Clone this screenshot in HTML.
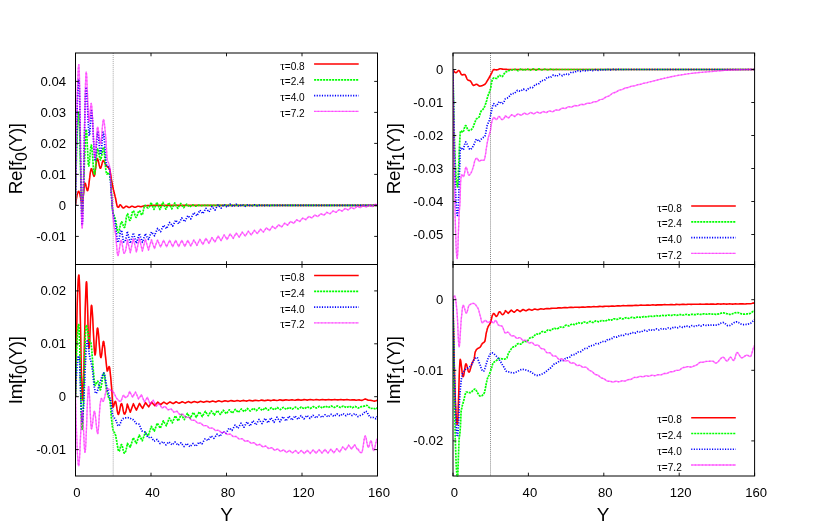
<!DOCTYPE html>
<html><head><meta charset="utf-8"><title>chart</title>
<style>html,body{margin:0;padding:0;background:#fff;}body{width:830px;height:529px;overflow:hidden;font-family:"Liberation Sans",sans-serif;}svg{display:block;will-change:transform;}</style></head>
<body>
<svg width="830" height="529" viewBox="0 0 830 529">
<rect width="830" height="529" fill="#ffffff"/>
<line x1="113.20" y1="53.0" x2="113.20" y2="264.5" stroke="#000" stroke-width="1" stroke-dasharray="1 1.03" stroke-opacity="0.36"/>
<clipPath id="cTL"><rect x="75.5" y="52.5" width="302.0" height="213.1"/></clipPath>
<g clip-path="url(#cTL)">
<path d="M75.5 205.4L75.8 203.4L76.0 201.6L76.2 199.9L76.5 198.3L76.8 196.9L77.0 195.6L77.2 194.4L77.5 193.5L77.8 192.7L78.0 192.1L78.2 191.6L78.5 191.4L78.8 191.3L79.0 191.5L79.2 192.1L79.5 192.9L79.8 193.8L80.0 194.9L80.2 196.2L80.5 197.4L80.8 198.6L81.0 199.8L81.2 200.9L81.5 201.8L81.8 202.5L82.0 202.9L82.2 203.0L82.5 202.4L82.8 201.0L83.0 199.1L83.2 196.7L83.5 194.1L83.8 191.5L84.0 188.9L84.2 186.6L84.5 184.8L84.8 183.5L85.0 183.1L85.2 183.3L85.5 183.9L85.8 184.7L86.0 185.8L86.2 186.9L86.5 188.0L86.8 189.1L87.0 189.9L87.2 190.5L87.5 190.7L87.8 190.4L88.0 189.7L88.2 188.6L88.5 187.1L88.8 185.4L89.0 183.4L89.2 181.4L89.5 179.3L89.8 177.2L90.0 175.2L90.2 173.3L90.5 171.7L90.8 170.3L91.0 169.3L91.2 168.8L91.5 168.7L91.8 169.1L92.0 169.7L92.2 170.5L92.5 171.5L92.8 172.5L93.0 173.5L93.2 174.5L93.5 175.3L93.8 175.9L94.0 176.3L94.2 176.2L94.5 175.5L94.8 174.4L95.0 172.9L95.2 171.1L95.5 169.1L95.8 167.0L96.0 165.0L96.2 163.1L96.5 161.4L96.8 160.0L97.0 159.0L97.2 158.6L97.5 158.7L97.8 159.2L98.0 159.9L98.2 160.8L98.5 161.8L98.8 163.0L99.0 164.2L99.2 165.3L99.5 166.3L99.8 167.2L100.0 167.9L100.2 168.2L100.5 168.3L100.8 168.0L101.0 167.4L101.2 166.7L101.5 165.8L101.8 164.8L102.0 163.8L102.2 162.8L102.5 162.0L102.8 161.2L103.0 160.7L103.2 160.5L103.5 160.6L103.8 160.8L104.0 161.1L104.2 161.6L104.5 162.1L104.8 162.7L105.0 163.3L105.2 163.9L105.5 164.5L105.8 165.0L106.0 165.4L106.2 165.7L106.5 166.0L106.8 166.3L107.0 166.5L107.2 166.7L107.5 166.9L107.8 167.1L108.0 167.3L108.2 167.5L108.5 167.8L108.8 168.1L109.0 168.4L109.2 168.8L109.5 169.2L109.8 169.8L110.0 170.7L110.2 171.9L110.5 173.4L110.8 175.0L111.0 176.7L111.2 178.4L111.5 180.0L111.8 181.4L112.0 182.7L112.2 184.0L112.5 185.2L112.8 186.5L113.0 187.7L113.2 188.8L113.5 190.0L113.8 191.0L114.0 192.1L114.2 193.1L114.5 194.0L114.8 195.0L115.0 196.0L115.2 197.0L115.5 198.0L115.8 199.3L116.0 200.6L116.2 202.0L116.5 203.3L116.8 204.6L117.0 205.6L117.2 206.4L117.5 206.8L117.8 207.0L118.0 207.2L118.2 207.3L118.5 207.3L118.8 207.1L119.0 206.7L119.2 206.2L119.5 205.6L119.8 205.1L120.0 204.8L120.2 204.8L120.5 204.9L120.8 205.1L121.0 205.4L121.2 205.7L121.5 206.1L121.8 206.5L122.0 206.8L122.2 207.2L122.5 207.5L122.8 207.7L123.0 207.9L123.2 208.0L123.5 208.0L123.8 207.9L124.0 207.7L124.2 207.5L124.5 207.3L124.8 207.1L125.0 206.9L125.2 206.7L125.5 206.5L125.8 206.3L126.0 206.2L126.2 206.2L126.5 206.2L126.8 206.3L127.0 206.4L127.2 206.6L127.5 206.7L127.8 206.9L128.0 207.1L128.2 207.2L128.5 207.4L128.8 207.4L129.0 207.5L129.2 207.5L129.5 207.4L129.8 207.3L130.0 207.2L130.2 207.0L130.5 206.9L130.8 206.7L131.0 206.6L131.2 206.4L131.5 206.3L131.8 206.2L132.0 206.2L132.2 206.2L132.5 206.3L132.8 206.4L133.0 206.5L133.2 206.6L133.5 206.8L133.8 206.9L134.0 207.0L134.2 207.1L134.5 207.2L134.8 207.3L135.0 207.3L135.2 207.3L135.5 207.2L135.8 207.1L136.0 207.0L136.2 206.9L136.5 206.8L136.8 206.6L137.0 206.5L137.2 206.4L137.5 206.3L137.8 206.2L138.0 206.2L138.2 206.2L138.5 206.2L138.8 206.3L139.0 206.3L139.2 206.4L139.5 206.4L139.8 206.5L140.0 206.6L140.2 206.6L140.5 206.7L140.8 206.7L141.0 206.7L141.2 206.7L141.5 206.6L141.8 206.6L142.0 206.5L142.2 206.4L142.5 206.3L142.8 206.2L143.0 206.2L143.2 206.1L143.5 206.0L143.8 205.9L144.0 205.9L144.2 205.9L144.5 205.8L144.8 205.8L145.0 205.8L145.2 205.8L145.5 205.7L145.8 205.7L146.0 205.7L146.2 205.7L146.5 205.7L146.8 205.6L147.0 205.6L147.2 205.6L147.5 205.6L147.8 205.6L148.0 205.6L148.2 205.6L148.5 205.5L148.8 205.5L149.0 205.5L149.2 205.5L149.5 205.5L149.8 205.5L150.0 205.5L150.2 205.5L150.5 205.5L150.8 205.5L151.0 205.5L151.2 205.5L151.5 205.5L151.8 205.5L152.0 205.5L152.2 205.5L152.5 205.5L152.8 205.5L153.0 205.5L153.2 205.4L153.5 205.4L153.8 205.4L154.0 205.4L154.2 205.4L154.5 205.4L154.8 205.4L155.0 205.4L155.2 205.4L155.5 205.4L155.8 205.4L156.0 205.4L156.2 205.4L156.5 205.4L156.8 205.4L157.0 205.4L157.2 205.4L157.5 205.4L157.8 205.4L158.0 205.4L158.2 205.4L158.5 205.4L158.8 205.4L159.0 205.4L159.2 205.4L159.5 205.4L159.8 205.4L160.0 205.4L160.2 205.4L160.5 205.4L160.8 205.4L161.0 205.4L161.2 205.4L161.5 205.4L161.8 205.4L162.0 205.4L162.2 205.4L162.5 205.4L162.8 205.4L163.0 205.4L163.2 205.4L163.5 205.4L163.8 205.4L164.0 205.4L164.2 205.4L164.5 205.4L164.8 205.4L165.0 205.4L165.2 205.4L165.5 205.4L165.8 205.4L166.0 205.4L166.2 205.4L166.5 205.4L166.8 205.4L167.0 205.4L167.2 205.4L167.5 205.4L167.8 205.4L168.0 205.4L168.2 205.4L168.5 205.4L168.8 205.4L169.0 205.4L169.2 205.4L169.5 205.4L169.8 205.4L170.0 205.4L170.2 205.4L170.5 205.4L170.8 205.4L171.0 205.4L171.2 205.4L171.5 205.4L171.8 205.4L172.0 205.4L172.2 205.4L172.5 205.4L172.8 205.4L173.0 205.4L173.2 205.4L173.5 205.4L173.8 205.4L174.0 205.4L174.2 205.4L174.5 205.4L174.8 205.4L175.0 205.4L175.2 205.4L175.5 205.4L175.8 205.4L176.0 205.4L176.2 205.4L176.5 205.4L176.8 205.4L177.0 205.4L177.2 205.4L177.5 205.4L177.8 205.4L178.0 205.4L178.2 205.4L178.5 205.4L178.8 205.4L179.0 205.4L179.2 205.4L179.5 205.4L179.8 205.4L180.0 205.4L180.2 205.4L180.5 205.4L180.8 205.4L181.0 205.4L181.2 205.4L181.5 205.4L181.8 205.4L182.0 205.4L182.2 205.4L182.5 205.4L182.8 205.4L183.0 205.4L183.2 205.4L183.5 205.4L183.8 205.4L184.0 205.4L184.2 205.4L184.5 205.4L184.8 205.4L185.0 205.4L185.2 205.4L185.5 205.4L185.8 205.4L186.0 205.4L186.2 205.4L186.5 205.4L186.8 205.4L187.0 205.4L187.2 205.4L187.5 205.4L187.8 205.4L188.0 205.4L188.2 205.4L188.5 205.4L188.8 205.4L189.0 205.4L189.2 205.4L189.5 205.4L189.8 205.4L190.0 205.4L190.2 205.4L190.5 205.4L190.8 205.4L191.0 205.4L191.2 205.4L191.5 205.4L191.8 205.4L192.0 205.4L192.2 205.4L192.5 205.4L192.8 205.4L193.0 205.4L193.2 205.4L193.5 205.4L193.8 205.4L194.0 205.4L194.2 205.4L194.5 205.4L194.8 205.4L195.0 205.4L195.2 205.4L195.5 205.4L195.8 205.4L196.0 205.4L196.2 205.4L196.5 205.4L196.8 205.4L197.0 205.4L197.2 205.4L197.5 205.4L197.8 205.4L198.0 205.4L198.2 205.4L198.5 205.4L198.8 205.4L199.0 205.4L199.2 205.4L199.5 205.4L199.8 205.4L200.0 205.4L200.2 205.4L200.5 205.4L200.8 205.4L201.0 205.4L201.2 205.4L201.5 205.4L201.8 205.4L202.0 205.4L202.2 205.4L202.5 205.4L202.8 205.4L203.0 205.4L203.2 205.4L203.5 205.4L203.8 205.4L204.0 205.4L204.2 205.4L204.5 205.4L204.8 205.4L205.0 205.4L205.2 205.4L205.5 205.4L205.8 205.4L206.0 205.4L206.2 205.4L206.5 205.4L206.8 205.4L207.0 205.4L207.2 205.4L207.5 205.4L207.8 205.4L208.0 205.4L208.2 205.4L208.5 205.4L208.8 205.4L209.0 205.4L209.2 205.4L209.5 205.4L209.8 205.4L210.0 205.4L210.2 205.4L210.5 205.4L210.8 205.4L211.0 205.4L211.2 205.4L211.5 205.4L211.8 205.4L212.0 205.4L212.2 205.4L212.5 205.4L212.8 205.4L213.0 205.4L213.2 205.4L213.5 205.4L213.8 205.4L214.0 205.4L214.2 205.4L214.5 205.4L214.8 205.4L215.0 205.4L215.2 205.4L215.5 205.4L215.8 205.4L216.0 205.4L216.2 205.4L216.5 205.4L216.8 205.4L217.0 205.4L217.2 205.4L217.5 205.4L217.8 205.4L218.0 205.4L218.2 205.4L218.5 205.4L218.8 205.4L219.0 205.4L219.2 205.4L219.5 205.4L219.8 205.4L220.0 205.4L220.2 205.4L220.5 205.4L220.8 205.4L221.0 205.4L221.2 205.4L221.5 205.4L221.8 205.4L222.0 205.4L222.2 205.4L222.5 205.4L222.8 205.4L223.0 205.4L223.2 205.4L223.5 205.4L223.8 205.4L224.0 205.4L224.2 205.4L224.5 205.4L224.8 205.4L225.0 205.4L225.2 205.4L225.5 205.4L225.8 205.4L226.0 205.4L226.2 205.4L226.5 205.4L226.8 205.4L227.0 205.4L227.2 205.4L227.5 205.4L227.8 205.4L228.0 205.4L228.2 205.4L228.5 205.4L228.8 205.4L229.0 205.4L229.2 205.4L229.5 205.4L229.8 205.4L230.0 205.4L230.2 205.4L230.5 205.4L230.8 205.4L231.0 205.4L231.2 205.4L231.5 205.4L231.8 205.4L232.0 205.4L232.2 205.4L232.5 205.4L232.8 205.4L233.0 205.4L233.2 205.4L233.5 205.4L233.8 205.4L234.0 205.4L234.2 205.4L234.5 205.4L234.8 205.4L235.0 205.4L235.2 205.4L235.5 205.4L235.8 205.4L236.0 205.4L236.2 205.4L236.5 205.4L236.8 205.4L237.0 205.4L237.2 205.4L237.5 205.4L237.8 205.4L238.0 205.4L238.2 205.4L238.5 205.4L238.8 205.4L239.0 205.4L239.2 205.4L239.5 205.4L239.8 205.4L240.0 205.4L240.2 205.4L240.5 205.4L240.8 205.4L241.0 205.4L241.2 205.4L241.5 205.4L241.8 205.4L242.0 205.4L242.2 205.4L242.5 205.4L242.8 205.4L243.0 205.4L243.2 205.4L243.5 205.4L243.8 205.4L244.0 205.4L244.2 205.4L244.5 205.4L244.8 205.4L245.0 205.4L245.2 205.4L245.5 205.4L245.8 205.4L246.0 205.4L246.2 205.4L246.5 205.4L246.8 205.4L247.0 205.4L247.2 205.4L247.5 205.4L247.8 205.4L248.0 205.4L248.2 205.4L248.5 205.4L248.8 205.4L249.0 205.4L249.2 205.4L249.5 205.4L249.8 205.4L250.0 205.4L250.2 205.4L250.5 205.4L250.8 205.4L251.0 205.4L251.2 205.4L251.5 205.4L251.8 205.4L252.0 205.4L252.2 205.4L252.5 205.4L252.8 205.4L253.0 205.4L253.2 205.4L253.5 205.4L253.8 205.4L254.0 205.4L254.2 205.4L254.5 205.4L254.8 205.4L255.0 205.4L255.2 205.4L255.5 205.4L255.8 205.4L256.0 205.4L256.2 205.4L256.5 205.4L256.8 205.4L257.0 205.4L257.2 205.4L257.5 205.4L257.8 205.4L258.0 205.4L258.2 205.4L258.5 205.4L258.8 205.4L259.0 205.4L259.2 205.4L259.5 205.4L259.8 205.4L260.0 205.4L260.2 205.4L260.5 205.4L260.8 205.4L261.0 205.4L261.2 205.4L261.5 205.4L261.8 205.4L262.0 205.4L262.2 205.4L262.5 205.4L262.8 205.4L263.0 205.4L263.2 205.4L263.5 205.4L263.8 205.4L264.0 205.4L264.2 205.4L264.5 205.4L264.8 205.4L265.0 205.4L265.2 205.4L265.5 205.4L265.8 205.4L266.0 205.4L266.2 205.4L266.5 205.4L266.8 205.4L267.0 205.4L267.2 205.4L267.5 205.4L267.8 205.4L268.0 205.4L268.2 205.4L268.5 205.4L268.8 205.4L269.0 205.4L269.2 205.4L269.5 205.4L269.8 205.4L270.0 205.4L270.2 205.4L270.5 205.4L270.8 205.4L271.0 205.4L271.2 205.4L271.5 205.4L271.8 205.4L272.0 205.4L272.2 205.4L272.5 205.4L272.8 205.4L273.0 205.4L273.2 205.4L273.5 205.4L273.8 205.4L274.0 205.4L274.2 205.4L274.5 205.4L274.8 205.4L275.0 205.4L275.2 205.4L275.5 205.4L275.8 205.4L276.0 205.4L276.2 205.4L276.5 205.4L276.8 205.4L277.0 205.4L277.2 205.4L277.5 205.4L277.8 205.4L278.0 205.4L278.2 205.4L278.5 205.4L278.8 205.4L279.0 205.4L279.2 205.4L279.5 205.4L279.8 205.4L280.0 205.4L280.2 205.4L280.5 205.4L280.8 205.4L281.0 205.4L281.2 205.4L281.5 205.4L281.8 205.4L282.0 205.4L282.2 205.4L282.5 205.4L282.8 205.4L283.0 205.4L283.2 205.4L283.5 205.4L283.8 205.4L284.0 205.4L284.2 205.4L284.5 205.4L284.8 205.4L285.0 205.4L285.2 205.4L285.5 205.4L285.8 205.4L286.0 205.4L286.2 205.4L286.5 205.4L286.8 205.4L287.0 205.4L287.2 205.4L287.5 205.4L287.8 205.4L288.0 205.4L288.2 205.4L288.5 205.4L288.8 205.4L289.0 205.4L289.2 205.4L289.5 205.4L289.8 205.4L290.0 205.4L290.2 205.4L290.5 205.4L290.8 205.4L291.0 205.4L291.2 205.4L291.5 205.4L291.8 205.4L292.0 205.4L292.2 205.4L292.5 205.4L292.8 205.4L293.0 205.4L293.2 205.4L293.5 205.4L293.8 205.4L294.0 205.4L294.2 205.4L294.5 205.4L294.8 205.4L295.0 205.4L295.2 205.4L295.5 205.4L295.8 205.4L296.0 205.4L296.2 205.4L296.5 205.4L296.8 205.4L297.0 205.4L297.2 205.4L297.5 205.4L297.8 205.4L298.0 205.4L298.2 205.4L298.5 205.4L298.8 205.4L299.0 205.4L299.2 205.4L299.5 205.4L299.8 205.4L300.0 205.4L300.2 205.4L300.5 205.4L300.8 205.4L301.0 205.4L301.2 205.4L301.5 205.4L301.8 205.4L302.0 205.4L302.2 205.4L302.5 205.4L302.8 205.4L303.0 205.4L303.2 205.4L303.5 205.4L303.8 205.4L304.0 205.4L304.2 205.4L304.5 205.4L304.8 205.4L305.0 205.4L305.2 205.4L305.5 205.4L305.8 205.4L306.0 205.4L306.2 205.4L306.5 205.4L306.8 205.4L307.0 205.4L307.2 205.4L307.5 205.4L307.8 205.4L308.0 205.4L308.2 205.4L308.5 205.4L308.8 205.4L309.0 205.4L309.2 205.4L309.5 205.4L309.8 205.4L310.0 205.4L310.2 205.4L310.5 205.4L310.8 205.4L311.0 205.4L311.2 205.4L311.5 205.4L311.8 205.4L312.0 205.4L312.2 205.4L312.5 205.4L312.8 205.4L313.0 205.4L313.2 205.4L313.5 205.4L313.8 205.4L314.0 205.4L314.2 205.4L314.5 205.4L314.8 205.4L315.0 205.4L315.2 205.4L315.5 205.4L315.8 205.4L316.0 205.4L316.2 205.4L316.5 205.4L316.8 205.4L317.0 205.4L317.2 205.4L317.5 205.4L317.8 205.4L318.0 205.4L318.2 205.4L318.5 205.4L318.8 205.4L319.0 205.4L319.2 205.4L319.5 205.4L319.8 205.4L320.0 205.4L320.2 205.4L320.5 205.4L320.8 205.4L321.0 205.4L321.2 205.4L321.5 205.4L321.8 205.4L322.0 205.4L322.2 205.4L322.5 205.4L322.8 205.4L323.0 205.4L323.2 205.4L323.5 205.4L323.8 205.4L324.0 205.4L324.2 205.4L324.5 205.4L324.8 205.4L325.0 205.4L325.2 205.4L325.5 205.4L325.8 205.4L326.0 205.4L326.2 205.4L326.5 205.4L326.8 205.4L327.0 205.4L327.2 205.4L327.5 205.4L327.8 205.4L328.0 205.4L328.2 205.4L328.5 205.4L328.8 205.4L329.0 205.4L329.2 205.4L329.5 205.4L329.8 205.4L330.0 205.4L330.2 205.4L330.5 205.4L330.8 205.4L331.0 205.4L331.2 205.4L331.5 205.4L331.8 205.4L332.0 205.4L332.2 205.4L332.5 205.4L332.8 205.4L333.0 205.4L333.2 205.4L333.5 205.4L333.8 205.4L334.0 205.4L334.2 205.4L334.5 205.4L334.8 205.4L335.0 205.4L335.2 205.4L335.5 205.4L335.8 205.4L336.0 205.4L336.2 205.4L336.5 205.4L336.8 205.4L337.0 205.4L337.2 205.4L337.5 205.4L337.8 205.4L338.0 205.4L338.2 205.4L338.5 205.4L338.8 205.4L339.0 205.4L339.2 205.4L339.5 205.4L339.8 205.4L340.0 205.4L340.2 205.4L340.5 205.4L340.8 205.4L341.0 205.4L341.2 205.4L341.5 205.4L341.8 205.4L342.0 205.4L342.2 205.4L342.5 205.4L342.8 205.4L343.0 205.4L343.2 205.4L343.5 205.4L343.8 205.4L344.0 205.4L344.2 205.4L344.5 205.4L344.8 205.4L345.0 205.4L345.2 205.4L345.5 205.4L345.8 205.4L346.0 205.4L346.2 205.4L346.5 205.4L346.8 205.4L347.0 205.4L347.2 205.4L347.5 205.4L347.8 205.4L348.0 205.4L348.2 205.4L348.5 205.4L348.8 205.4L349.0 205.4L349.2 205.4L349.5 205.4L349.8 205.4L350.0 205.4L350.2 205.4L350.5 205.4L350.8 205.4L351.0 205.4L351.2 205.4L351.5 205.4L351.8 205.4L352.0 205.4L352.2 205.4L352.5 205.4L352.8 205.4L353.0 205.4L353.2 205.4L353.5 205.4L353.8 205.4L354.0 205.4L354.2 205.4L354.5 205.4L354.8 205.4L355.0 205.4L355.2 205.4L355.5 205.4L355.8 205.4L356.0 205.4L356.2 205.4L356.5 205.4L356.8 205.4L357.0 205.4L357.2 205.4L357.5 205.4L357.8 205.4L358.0 205.4L358.2 205.4L358.5 205.4L358.8 205.4L359.0 205.4L359.2 205.4L359.5 205.4L359.8 205.4L360.0 205.4L360.2 205.4L360.5 205.4L360.8 205.4L361.0 205.4L361.2 205.4L361.5 205.4L361.8 205.4L362.0 205.4L362.2 205.4L362.5 205.4L362.8 205.4L363.0 205.4L363.2 205.4L363.5 205.4L363.8 205.4L364.0 205.4L364.2 205.4L364.5 205.4L364.8 205.4L365.0 205.4L365.2 205.4L365.5 205.4L365.8 205.4L366.0 205.4L366.2 205.4L366.5 205.4L366.8 205.4L367.0 205.4L367.2 205.4L367.5 205.4L367.8 205.4L368.0 205.4L368.2 205.4L368.5 205.4L368.8 205.4L369.0 205.4L369.2 205.4L369.5 205.4L369.8 205.4L370.0 205.4L370.2 205.4L370.5 205.4L370.8 205.4L371.0 205.4L371.2 205.4L371.5 205.4L371.8 205.4L372.0 205.4L372.2 205.4L372.5 205.4L372.8 205.4L373.0 205.4L373.2 205.4L373.5 205.4L373.8 205.4L374.0 205.4L374.2 205.4L374.5 205.4L374.8 205.4L375.0 205.4L375.2 205.4L375.5 205.4L375.8 205.4L376.0 205.4L376.2 205.4L376.5 205.4L376.8 205.4L377.0 205.4L377.2 205.4L377.5 205.4" fill="none" stroke="#ff0000" stroke-width="1.6" stroke-linejoin="round"/>
<path d="M75.5 205.4L75.8 191.5L76.0 178.8L76.2 167.1L76.5 156.5L76.8 147.0L77.0 138.7L77.2 131.5L77.5 125.4L77.8 120.4L78.0 116.6L78.2 113.9L78.5 112.4L78.8 112.1L79.0 114.2L79.2 119.0L79.5 126.0L79.8 134.7L80.0 144.7L80.2 155.4L80.5 166.4L80.8 177.2L81.0 187.4L81.2 196.4L81.5 203.8L81.8 209.0L82.0 211.7L82.2 211.7L82.5 209.8L82.8 206.4L83.0 201.8L83.2 196.2L83.5 189.7L83.8 182.7L84.0 175.3L84.2 167.7L84.5 160.3L84.8 153.2L85.0 146.6L85.2 140.7L85.5 135.9L85.8 132.3L86.0 130.1L86.2 129.5L86.5 131.0L86.8 134.0L87.0 138.3L87.2 143.4L87.5 148.8L87.8 154.2L88.0 159.0L88.2 162.9L88.5 165.3L88.8 166.0L89.0 165.2L89.2 163.6L89.5 161.3L89.8 158.5L90.0 155.5L90.2 152.5L90.5 149.7L90.8 147.4L91.0 145.8L91.2 145.0L91.5 145.4L91.8 146.7L92.0 148.8L92.2 151.6L92.5 154.8L92.8 158.3L93.0 161.8L93.2 165.3L93.5 168.4L93.8 171.1L94.0 173.1L94.2 174.2L94.5 174.3L94.8 173.6L95.0 172.2L95.2 170.2L95.5 167.8L95.8 165.1L96.0 162.2L96.2 159.3L96.5 156.6L96.8 154.0L97.0 151.9L97.2 150.2L97.5 149.2L97.8 148.9L98.0 149.3L98.2 150.0L98.5 151.1L98.8 152.4L99.0 153.9L99.2 155.3L99.5 156.8L99.8 158.0L100.0 159.1L100.2 159.8L100.5 160.0L100.8 159.7L101.0 159.1L101.2 158.0L101.5 156.7L101.8 155.2L102.0 153.6L102.2 152.0L102.5 150.5L102.8 149.2L103.0 148.1L103.2 147.5L103.5 147.2L103.8 147.8L104.0 149.3L104.2 151.6L104.5 154.5L104.8 157.7L105.0 161.0L105.2 164.1L105.5 167.0L105.8 169.3L106.0 170.8L106.2 171.9L106.5 172.9L106.8 173.6L107.0 174.1L107.2 174.0L107.5 173.8L107.8 173.4L108.0 173.0L108.2 172.6L108.5 172.5L108.8 172.7L109.0 173.1L109.2 173.8L109.5 174.8L109.8 175.9L110.0 177.1L110.2 178.5L110.5 180.0L110.8 182.3L111.0 185.7L111.2 190.1L111.5 194.8L111.8 199.5L112.0 203.8L112.2 207.3L112.5 209.5L112.8 210.9L113.0 212.0L113.2 213.0L113.5 213.9L113.8 214.7L114.0 215.4L114.2 216.1L114.5 216.7L114.8 217.4L115.0 218.2L115.2 219.0L115.5 220.0L115.8 221.2L116.0 222.5L116.2 223.9L116.5 225.4L116.8 226.9L117.0 228.3L117.2 229.6L117.5 230.7L117.8 231.6L118.0 232.2L118.2 232.5L118.5 232.4L118.8 231.9L119.0 231.2L119.2 230.2L119.5 229.1L119.8 227.9L120.0 226.6L120.2 225.4L120.5 224.3L120.8 223.3L121.0 222.5L121.2 222.0L121.5 221.8L121.8 221.9L122.0 222.2L122.2 222.7L122.5 223.4L122.8 224.1L123.0 224.8L123.2 225.5L123.5 226.2L123.8 226.8L124.0 227.2L124.2 227.5L124.5 227.5L124.8 227.0L125.0 226.1L125.2 224.8L125.5 223.3L125.8 221.6L126.0 219.9L126.2 218.2L126.5 216.7L126.8 215.4L127.0 214.4L127.2 213.8L127.5 213.7L127.8 214.1L128.0 214.7L128.2 215.6L128.5 216.6L128.8 217.7L129.0 218.7L129.2 219.5L129.5 220.1L129.8 220.4L130.0 220.3L130.2 219.9L130.5 219.3L130.8 218.6L131.0 217.6L131.2 216.6L131.5 215.6L131.8 214.5L132.0 213.5L132.2 212.5L132.5 211.8L132.8 211.2L133.0 210.8L133.2 210.7L133.5 210.9L133.8 211.3L134.0 211.9L134.2 212.7L134.5 213.5L134.8 214.4L135.0 215.2L135.2 216.0L135.5 216.7L135.8 217.1L136.0 217.4L136.2 217.4L136.5 217.1L136.8 216.7L137.0 216.1L137.2 215.4L137.5 214.7L137.8 213.9L138.0 213.1L138.2 212.4L138.5 211.7L138.8 211.2L139.0 210.9L139.2 210.7L139.5 210.8L139.8 211.0L140.0 211.5L140.2 212.0L140.5 212.6L140.8 213.2L141.0 213.8L141.2 214.3L141.5 214.7L141.8 215.0L142.0 215.0L142.2 214.7L142.5 214.1L142.8 213.2L143.0 212.2L143.2 211.1L143.5 209.9L143.8 208.8L144.0 207.7L144.2 206.7L144.5 206.0L144.8 205.5L145.0 205.3L145.2 205.4L145.5 205.5L145.8 205.7L146.0 206.0L146.2 206.3L146.5 206.7L146.8 207.0L147.0 207.3L147.2 207.6L147.5 207.8L147.8 207.9L148.0 208.0L148.2 208.0L148.5 207.8L148.8 207.6L149.0 207.3L149.2 206.9L149.5 206.5L149.8 206.0L150.0 205.4L150.2 204.8L150.5 204.1L150.8 203.4L151.0 202.6L151.0 202.4L152.5 205.9L154.0 209.4L155.5 205.9L156.9 202.3L158.4 205.9L159.9 209.5L161.4 205.9L162.9 202.4L164.4 205.9L165.9 209.2L167.4 205.9L168.8 202.6L170.3 205.8L171.8 208.9L173.3 205.8L174.8 203.0L176.3 205.8L177.8 208.4L179.3 205.8L180.8 203.5L182.2 205.8L183.7 207.6L185.2 205.7L186.7 204.2L188.2 205.7L189.7 206.8L191.2 205.7L192.7 204.8L194.1 205.6L195.6 206.2L197.1 205.5L198.6 205.1L200.1 205.5L201.6 205.6L203.1 205.4L204.6 205.4L206.0 205.4L207.5 205.4L209.0 205.4L210.5 205.4L212.0 205.4L213.5 205.4L215.0 205.4L216.4 205.4L217.9 205.4L219.4 205.4L220.9 205.4L222.4 205.4L223.9 205.4L225.4 205.4L226.9 205.4L228.4 205.4L229.8 205.4L231.3 205.4L232.8 205.4L234.3 205.4L235.8 205.4L237.3 205.4L238.8 205.4L240.2 205.4L241.7 205.4L243.2 205.4L244.7 205.4L246.2 205.4L247.7 205.4L249.2 205.4L250.7 205.4L252.2 205.4L253.6 205.4L255.1 205.4L256.6 205.4L258.1 205.4L259.6 205.4L261.1 205.4L262.6 205.4L264.1 205.4L265.5 205.4L267.0 205.4L268.5 205.4L270.0 205.4L271.5 205.4L273.0 205.4L274.5 205.4L275.9 205.4L277.4 205.4L278.9 205.4L280.4 205.4L281.9 205.4L283.4 205.4L284.9 205.4L286.4 205.4L287.9 205.4L289.3 205.4L290.8 205.4L292.3 205.4L293.8 205.4L295.3 205.4L296.8 205.4L298.3 205.4L299.8 205.4L301.2 205.4L302.7 205.4L304.2 205.4L305.7 205.4L307.2 205.4L308.7 205.4L310.2 205.4L311.6 205.4L313.1 205.4L314.6 205.4L316.1 205.4L317.6 205.4L319.1 205.4L320.6 205.4L322.1 205.4L323.6 205.4L325.0 205.4L326.5 205.4L328.0 205.4L329.5 205.4L331.0 205.4L332.5 205.4L334.0 205.4L335.5 205.4L336.9 205.4L338.4 205.4L339.9 205.4L341.4 205.4L342.9 205.4L344.4 205.4L345.9 205.4L347.4 205.4L348.8 205.4L350.3 205.4L351.8 205.4L353.3 205.4L354.8 205.4L356.3 205.4L357.8 205.4L359.2 205.4L360.7 205.4L362.2 205.4L363.7 205.4L365.2 205.4L366.7 205.4L368.2 205.4L369.7 205.4L371.1 205.4L372.6 205.4L374.1 205.4L375.6 205.4L377.1 205.4L377.5 205.4" fill="none" stroke="#00ff00" stroke-width="1.7" stroke-linejoin="round" stroke-dasharray="2.1 0.9"/>
<path d="M75.5 205.4L75.8 186.3L76.0 168.9L76.2 153.3L76.5 139.2L76.8 126.8L77.0 115.9L77.2 106.5L77.5 98.6L77.8 92.0L78.0 86.9L78.2 83.1L78.5 80.5L78.8 79.2L79.0 79.4L79.2 83.9L79.5 92.5L79.8 104.5L80.0 119.0L80.2 135.2L80.5 152.2L80.8 169.2L81.0 185.4L81.2 199.9L81.5 211.9L81.8 220.5L82.0 225.0L82.2 224.8L82.5 221.3L82.8 215.2L83.0 206.7L83.2 196.4L83.5 184.8L83.8 172.1L84.0 159.0L84.2 145.7L84.5 132.8L84.8 120.7L85.0 109.8L85.2 100.6L85.5 93.4L85.8 88.8L86.0 87.2L86.2 87.9L86.5 90.0L86.8 93.3L87.0 97.3L87.2 102.1L87.5 107.2L87.8 112.6L88.0 117.9L88.2 122.9L88.5 127.4L88.8 131.2L89.0 133.9L89.2 135.5L89.5 135.6L89.8 133.9L90.0 130.8L90.2 126.7L90.5 122.2L90.8 117.9L91.0 114.1L91.2 111.5L91.5 110.5L91.8 111.2L92.0 113.1L92.2 116.1L92.5 119.8L92.8 124.3L93.0 129.1L93.2 134.2L93.5 139.4L93.8 144.3L94.0 149.0L94.2 153.0L94.5 156.3L94.8 158.7L95.0 159.9L95.2 159.7L95.5 158.2L95.8 155.7L96.0 152.3L96.2 148.5L96.5 144.5L96.8 140.6L97.0 137.2L97.2 134.4L97.5 132.7L97.8 132.2L98.0 132.9L98.2 134.3L98.5 136.4L98.8 138.9L99.0 141.7L99.2 144.6L99.5 147.4L99.8 150.0L100.0 152.1L100.2 153.7L100.5 154.5L100.8 154.4L101.0 153.2L101.2 151.1L101.5 148.4L101.8 145.3L102.0 142.1L102.2 139.0L102.5 136.2L102.8 134.0L103.0 132.6L103.2 132.2L103.5 132.8L103.8 134.3L104.0 136.4L104.2 139.0L104.5 142.0L104.8 145.3L105.0 148.7L105.2 152.1L105.5 155.4L105.8 158.5L106.0 161.1L106.2 163.3L106.5 164.8L106.8 165.5L107.0 165.9L107.2 166.1L107.5 166.4L107.8 166.5L108.0 166.7L108.2 166.8L108.5 167.0L108.8 167.3L109.0 167.6L109.2 168.1L109.5 169.4L109.8 171.5L110.0 174.4L110.2 177.8L110.5 181.6L110.8 185.5L111.0 189.3L111.2 193.0L111.5 196.3L111.8 200.0L112.0 203.7L112.2 207.0L112.5 209.5L112.8 211.3L113.0 212.9L113.2 214.2L113.5 215.4L113.8 216.5L114.0 217.5L114.2 218.5L114.5 219.5L114.8 220.6L115.0 221.7L115.2 223.0L115.5 224.5L115.8 226.4L116.0 228.7L116.2 231.1L116.5 233.6L116.8 236.0L117.0 238.2L117.2 240.1L117.5 241.5L117.8 242.4L118.0 242.5L118.2 242.1L118.5 241.4L118.8 240.5L119.0 239.3L119.2 238.0L119.5 236.6L119.8 235.2L120.0 233.9L120.2 232.7L120.5 231.6L120.8 230.8L121.0 230.3L121.2 230.2L121.5 230.6L121.8 231.5L122.0 232.7L122.2 234.2L122.5 235.8L122.8 237.5L123.0 239.0L123.2 240.4L123.5 241.4L123.8 242.0L124.0 242.1L124.2 242.0L124.5 241.9L124.8 241.6L125.0 241.2L125.2 240.7L125.5 240.1L125.8 239.4L126.0 238.5L126.2 237.5L126.5 236.3L126.8 234.9L127.0 233.4L127.2 231.7L127.3 231.3L127.3 231.3L128.8 237.5L130.3 243.3L131.8 238.0L133.3 232.9L134.9 238.2L136.4 243.3L137.9 238.3L139.4 233.6L140.9 238.2L142.4 242.3L143.9 237.9L145.4 233.7L147.0 236.9L148.5 239.4L150.0 235.6L151.5 232.0L153.0 234.0L154.5 235.8L156.0 232.1L157.6 228.5L159.1 230.1L160.6 231.7L162.1 228.4L163.6 225.2L165.1 226.9L166.6 228.7L168.1 225.6L169.7 222.5L171.2 224.3L172.7 226.1L174.2 223.1L175.7 220.1L177.2 222.0L178.7 223.9L180.2 220.9L181.8 218.0L183.3 219.9L184.8 221.7L186.3 218.7L187.8 215.6L189.3 217.2L190.8 218.8L192.3 215.7L193.8 212.6L195.4 214.2L196.9 215.8L198.4 213.0L199.9 210.2L201.4 211.9L202.9 213.7L204.4 211.0L205.9 208.3L207.5 210.1L209.0 211.9L210.5 209.2L212.0 206.5L213.5 208.3L215.0 210.0L216.5 207.3L218.1 204.9L219.6 206.6L221.1 208.1L222.6 206.1L224.1 204.4L225.6 205.8L227.1 207.1L228.6 205.5L230.1 204.1L231.7 205.4L233.2 206.6L234.7 205.4L236.2 204.3L237.7 205.4L239.2 206.4L240.7 205.4L242.2 204.5L243.8 205.4L245.3 206.3L246.8 205.4L248.3 204.6L249.8 205.4L251.3 206.1L252.8 205.4L254.3 204.8L255.9 205.4L257.4 205.9L258.9 205.4L260.4 205.0L261.9 205.4L263.4 205.8L264.9 205.4L266.4 205.1L268.0 205.4L269.5 205.6L271.0 205.4L272.5 205.3L274.0 205.4L275.5 205.4L277.0 205.4L278.6 205.4L280.1 205.4L281.6 205.4L283.1 205.4L284.6 205.4L286.1 205.4L287.6 205.4L289.1 205.4L290.6 205.4L292.2 205.4L293.7 205.4L295.2 205.4L296.7 205.4L298.2 205.4L299.7 205.4L301.2 205.4L302.8 205.4L304.3 205.4L305.8 205.4L307.3 205.4L308.8 205.4L310.3 205.4L311.8 205.4L313.3 205.4L314.8 205.4L316.4 205.4L317.9 205.4L319.4 205.4L320.9 205.4L322.4 205.4L323.9 205.4L325.4 205.4L326.9 205.4L328.5 205.4L330.0 205.4L331.5 205.4L333.0 205.4L334.5 205.4L336.0 205.4L337.5 205.4L339.1 205.4L340.6 205.4L342.1 205.4L343.6 205.4L345.1 205.4L346.6 205.4L348.1 205.4L349.6 205.4L351.1 205.4L352.7 205.4L354.2 205.4L355.7 205.4L357.2 205.4L358.7 205.4L360.2 205.4L361.7 205.4L363.2 205.4L364.8 205.4L366.3 205.4L367.8 205.4L369.3 205.4L370.8 205.4L372.3 205.4L373.8 205.4L375.3 205.4L376.9 205.4L377.5 205.4" fill="none" stroke="#0000ff" stroke-width="1.7" stroke-linejoin="round" stroke-dasharray="1.15 1.45"/>
<path d="M75.5 205.4L75.8 184.1L76.0 164.7L76.2 147.2L76.5 131.5L76.8 117.6L77.0 105.5L77.2 95.0L77.5 86.2L77.8 78.9L78.0 73.2L78.2 68.9L78.5 66.1L78.8 64.6L79.0 64.9L79.2 69.9L79.5 79.6L79.8 93.0L80.0 109.3L80.2 127.4L80.5 146.5L80.8 165.6L81.0 183.7L81.2 200.0L81.5 213.4L81.8 223.1L82.0 228.1L82.2 228.0L82.5 224.4L82.8 218.0L83.0 209.3L83.2 198.6L83.5 186.3L83.8 172.9L84.0 158.9L84.2 144.6L84.5 130.4L84.8 116.9L85.0 104.4L85.2 93.3L85.5 84.1L85.8 77.2L86.0 73.1L86.2 72.0L86.5 73.6L86.8 77.0L87.0 81.9L87.2 87.8L87.5 94.2L87.8 100.9L88.0 107.3L88.2 113.0L88.5 117.6L88.8 120.7L89.0 121.8L89.2 121.1L89.5 119.4L89.8 116.8L90.0 113.9L90.2 110.7L90.5 107.8L90.8 105.4L91.0 103.8L91.2 103.4L91.5 104.4L91.8 106.5L92.0 109.6L92.2 113.6L92.5 118.2L92.8 123.2L93.0 128.5L93.2 133.9L93.5 139.2L93.8 144.2L94.0 148.6L94.2 152.5L94.5 155.4L94.8 157.3L95.0 158.0L95.2 157.2L95.5 155.0L95.8 151.7L96.0 147.8L96.2 143.4L96.5 139.0L96.8 134.8L97.0 131.2L97.2 128.5L97.5 127.1L97.8 127.1L98.0 127.9L98.2 129.2L98.5 130.9L98.8 132.9L99.0 135.1L99.2 137.2L99.5 139.3L99.8 141.2L100.0 142.7L100.2 143.6L100.5 144.0L100.8 143.5L101.0 142.2L101.2 140.2L101.5 137.6L101.8 134.8L102.0 131.8L102.2 128.7L102.5 125.9L102.8 123.3L103.0 121.3L103.2 120.0L103.5 119.5L103.8 119.9L104.0 120.9L104.2 122.5L104.5 124.6L104.8 127.0L105.0 129.5L105.2 132.2L105.5 134.8L105.8 137.5L106.0 141.0L106.2 145.0L106.5 149.2L106.8 153.2L107.0 156.6L107.2 159.1L107.5 160.4L107.8 161.2L108.0 161.8L108.2 162.3L108.5 163.0L108.8 163.7L109.0 164.4L109.2 165.2L109.5 166.1L109.8 167.2L110.0 168.7L110.2 172.1L110.5 177.8L110.8 184.0L111.0 188.9L111.2 192.1L111.5 194.7L111.8 197.4L112.0 200.5L112.2 204.0L112.5 207.7L112.8 211.5L113.0 215.2L113.2 218.6L113.5 221.7L113.8 224.2L114.0 226.1L114.2 227.5L114.5 228.7L114.8 229.8L115.0 230.9L115.2 232.1L115.5 233.7L115.8 235.8L116.0 238.5L116.2 241.4L116.5 244.4L116.8 247.4L117.0 250.2L117.2 252.5L117.5 254.3L117.8 255.3L118.0 255.5L118.2 255.0L118.5 254.2L118.8 253.0L119.0 251.6L119.2 249.9L119.5 248.2L119.8 246.5L120.0 244.9L120.2 243.4L120.5 242.1L120.8 241.1L121.0 240.5L121.2 240.3L121.5 240.7L121.8 241.5L122.0 242.7L122.2 244.2L122.5 245.8L122.8 247.5L123.0 249.1L123.2 250.6L123.5 251.9L123.8 252.8L124.0 253.3L124.2 253.3L124.5 253.1L124.8 252.8L125.0 252.3L125.2 251.6L125.5 250.8L125.8 249.8L126.0 248.6L126.2 247.3L126.5 245.7L126.8 244.0L127.0 242.1L127.2 240.0L127.3 239.6L127.3 239.5L128.8 246.1L130.3 252.7L131.8 245.5L133.3 238.4L134.9 245.1L136.4 252.0L137.9 245.0L139.4 238.3L140.9 244.9L142.4 251.1L143.9 244.9L145.4 239.1L147.0 244.8L148.5 250.1L150.0 244.8L151.5 239.8L153.0 244.5L154.5 248.6L156.0 244.0L157.6 240.0L159.1 243.7L160.6 247.0L162.1 243.6L163.6 240.3L165.1 243.5L166.6 246.8L168.1 243.5L169.7 240.3L171.2 243.5L172.7 246.7L174.2 243.5L175.7 240.4L177.2 243.5L178.7 246.6L180.2 243.5L181.8 240.4L183.3 243.4L184.8 246.4L186.3 243.4L187.8 240.4L189.3 243.3L190.8 246.1L192.3 243.0L193.8 240.0L195.4 242.7L196.9 245.4L198.4 242.3L199.9 239.3L201.4 241.9L202.9 244.5L204.4 241.4L205.9 238.4L207.5 240.9L209.0 243.4L210.5 240.4L212.0 237.5L213.5 239.8L215.0 242.0L216.5 239.0L218.1 236.0L219.6 238.3L221.1 240.6L222.6 237.7L224.1 234.9L225.6 237.2L227.1 239.5L228.6 236.7L230.1 233.9L231.7 236.2L233.2 238.4L234.7 235.6L236.2 233.0L237.7 235.1L239.2 237.2L240.7 234.7L242.2 232.1L243.8 234.2L245.3 236.1L246.8 233.7L248.3 231.2L249.8 233.1L251.3 235.0L252.8 232.6L254.3 230.3L255.9 232.0L257.4 233.6L258.9 231.3L260.4 229.1L261.9 230.7L263.4 232.1L264.9 229.9L266.4 227.8L268.0 229.2L269.5 230.5L271.0 228.4L272.5 226.3L274.0 227.6L275.5 228.7L277.0 226.7L278.6 224.8L280.1 225.9L281.6 227.0L283.1 225.1L284.6 223.2L286.1 224.2L287.6 225.2L289.1 223.3L290.6 221.5L292.2 222.4L293.7 223.3L295.2 221.5L296.7 219.8L298.2 220.6L299.7 221.5L301.2 219.8L302.8 218.1L304.3 218.9L305.8 219.7L307.3 218.1L308.8 216.5L310.3 217.2L311.8 218.0L313.3 216.5L314.8 215.0L316.4 215.8L317.9 216.6L319.4 215.1L320.9 213.7L322.4 214.5L323.9 215.2L325.4 213.8L326.9 212.3L328.5 213.1L330.0 213.8L331.5 212.4L333.0 211.0L334.5 211.7L336.0 212.4L337.5 211.0L339.1 209.7L340.6 210.4L342.1 211.1L343.6 209.8L345.1 208.5L346.6 209.2L348.1 210.0L349.6 208.7L351.1 207.4L352.7 208.1L354.2 208.8L355.7 207.5L357.2 206.2L358.7 206.9L360.2 207.7L361.7 206.6L363.2 205.4L364.8 206.3L366.3 207.2L367.8 206.0L369.3 204.9L370.8 205.8L372.3 206.6L373.8 205.4L375.3 204.2L376.9 205.0L377.5 205.5" fill="none" stroke="#ff00ff" stroke-width="1.4" stroke-linejoin="round" stroke-opacity="0.52"/><path d="M75.5 205.4L75.8 184.1L76.0 164.7L76.2 147.2L76.5 131.5L76.8 117.6L77.0 105.5L77.2 95.0L77.5 86.2L77.8 78.9L78.0 73.2L78.2 68.9L78.5 66.1L78.8 64.6L79.0 64.9L79.2 69.9L79.5 79.6L79.8 93.0L80.0 109.3L80.2 127.4L80.5 146.5L80.8 165.6L81.0 183.7L81.2 200.0L81.5 213.4L81.8 223.1L82.0 228.1L82.2 228.0L82.5 224.4L82.8 218.0L83.0 209.3L83.2 198.6L83.5 186.3L83.8 172.9L84.0 158.9L84.2 144.6L84.5 130.4L84.8 116.9L85.0 104.4L85.2 93.3L85.5 84.1L85.8 77.2L86.0 73.1L86.2 72.0L86.5 73.6L86.8 77.0L87.0 81.9L87.2 87.8L87.5 94.2L87.8 100.9L88.0 107.3L88.2 113.0L88.5 117.6L88.8 120.7L89.0 121.8L89.2 121.1L89.5 119.4L89.8 116.8L90.0 113.9L90.2 110.7L90.5 107.8L90.8 105.4L91.0 103.8L91.2 103.4L91.5 104.4L91.8 106.5L92.0 109.6L92.2 113.6L92.5 118.2L92.8 123.2L93.0 128.5L93.2 133.9L93.5 139.2L93.8 144.2L94.0 148.6L94.2 152.5L94.5 155.4L94.8 157.3L95.0 158.0L95.2 157.2L95.5 155.0L95.8 151.7L96.0 147.8L96.2 143.4L96.5 139.0L96.8 134.8L97.0 131.2L97.2 128.5L97.5 127.1L97.8 127.1L98.0 127.9L98.2 129.2L98.5 130.9L98.8 132.9L99.0 135.1L99.2 137.2L99.5 139.3L99.8 141.2L100.0 142.7L100.2 143.6L100.5 144.0L100.8 143.5L101.0 142.2L101.2 140.2L101.5 137.6L101.8 134.8L102.0 131.8L102.2 128.7L102.5 125.9L102.8 123.3L103.0 121.3L103.2 120.0L103.5 119.5L103.8 119.9L104.0 120.9L104.2 122.5L104.5 124.6L104.8 127.0L105.0 129.5L105.2 132.2L105.5 134.8L105.8 137.5L106.0 141.0L106.2 145.0L106.5 149.2L106.8 153.2L107.0 156.6L107.2 159.1L107.5 160.4L107.8 161.2L108.0 161.8L108.2 162.3L108.5 163.0L108.8 163.7L109.0 164.4L109.2 165.2L109.5 166.1L109.8 167.2L110.0 168.7L110.2 172.1L110.5 177.8L110.8 184.0L111.0 188.9L111.2 192.1L111.5 194.7L111.8 197.4L112.0 200.5L112.2 204.0L112.5 207.7L112.8 211.5L113.0 215.2L113.2 218.6L113.5 221.7L113.8 224.2L114.0 226.1L114.2 227.5L114.5 228.7L114.8 229.8L115.0 230.9L115.2 232.1L115.5 233.7L115.8 235.8L116.0 238.5L116.2 241.4L116.5 244.4L116.8 247.4L117.0 250.2L117.2 252.5L117.5 254.3L117.8 255.3L118.0 255.5L118.2 255.0L118.5 254.2L118.8 253.0L119.0 251.6L119.2 249.9L119.5 248.2L119.8 246.5L120.0 244.9L120.2 243.4L120.5 242.1L120.8 241.1L121.0 240.5L121.2 240.3L121.5 240.7L121.8 241.5L122.0 242.7L122.2 244.2L122.5 245.8L122.8 247.5L123.0 249.1L123.2 250.6L123.5 251.9L123.8 252.8L124.0 253.3L124.2 253.3L124.5 253.1L124.8 252.8L125.0 252.3L125.2 251.6L125.5 250.8L125.8 249.8L126.0 248.6L126.2 247.3L126.5 245.7L126.8 244.0L127.0 242.1L127.2 240.0L127.3 239.6L127.3 239.5L128.8 246.1L130.3 252.7L131.8 245.5L133.3 238.4L134.9 245.1L136.4 252.0L137.9 245.0L139.4 238.3L140.9 244.9L142.4 251.1L143.9 244.9L145.4 239.1L147.0 244.8L148.5 250.1L150.0 244.8L151.5 239.8L153.0 244.5L154.5 248.6L156.0 244.0L157.6 240.0L159.1 243.7L160.6 247.0L162.1 243.6L163.6 240.3L165.1 243.5L166.6 246.8L168.1 243.5L169.7 240.3L171.2 243.5L172.7 246.7L174.2 243.5L175.7 240.4L177.2 243.5L178.7 246.6L180.2 243.5L181.8 240.4L183.3 243.4L184.8 246.4L186.3 243.4L187.8 240.4L189.3 243.3L190.8 246.1L192.3 243.0L193.8 240.0L195.4 242.7L196.9 245.4L198.4 242.3L199.9 239.3L201.4 241.9L202.9 244.5L204.4 241.4L205.9 238.4L207.5 240.9L209.0 243.4L210.5 240.4L212.0 237.5L213.5 239.8L215.0 242.0L216.5 239.0L218.1 236.0L219.6 238.3L221.1 240.6L222.6 237.7L224.1 234.9L225.6 237.2L227.1 239.5L228.6 236.7L230.1 233.9L231.7 236.2L233.2 238.4L234.7 235.6L236.2 233.0L237.7 235.1L239.2 237.2L240.7 234.7L242.2 232.1L243.8 234.2L245.3 236.1L246.8 233.7L248.3 231.2L249.8 233.1L251.3 235.0L252.8 232.6L254.3 230.3L255.9 232.0L257.4 233.6L258.9 231.3L260.4 229.1L261.9 230.7L263.4 232.1L264.9 229.9L266.4 227.8L268.0 229.2L269.5 230.5L271.0 228.4L272.5 226.3L274.0 227.6L275.5 228.7L277.0 226.7L278.6 224.8L280.1 225.9L281.6 227.0L283.1 225.1L284.6 223.2L286.1 224.2L287.6 225.2L289.1 223.3L290.6 221.5L292.2 222.4L293.7 223.3L295.2 221.5L296.7 219.8L298.2 220.6L299.7 221.5L301.2 219.8L302.8 218.1L304.3 218.9L305.8 219.7L307.3 218.1L308.8 216.5L310.3 217.2L311.8 218.0L313.3 216.5L314.8 215.0L316.4 215.8L317.9 216.6L319.4 215.1L320.9 213.7L322.4 214.5L323.9 215.2L325.4 213.8L326.9 212.3L328.5 213.1L330.0 213.8L331.5 212.4L333.0 211.0L334.5 211.7L336.0 212.4L337.5 211.0L339.1 209.7L340.6 210.4L342.1 211.1L343.6 209.8L345.1 208.5L346.6 209.2L348.1 210.0L349.6 208.7L351.1 207.4L352.7 208.1L354.2 208.8L355.7 207.5L357.2 206.2L358.7 206.9L360.2 207.7L361.7 206.6L363.2 205.4L364.8 206.3L366.3 207.2L367.8 206.0L369.3 204.9L370.8 205.8L372.3 206.6L373.8 205.4L375.3 204.2L376.9 205.0L377.5 205.5" fill="none" stroke="#ff00ff" stroke-width="1.4" stroke-linejoin="round" stroke-dasharray="1.4 2.1" stroke-opacity="0.42"/>
</g>
<rect x="75.5" y="53.0" width="302.0" height="211.5" fill="none" stroke="#000000" stroke-width="1"/>
<line x1="75.50" y1="264.5" x2="75.50" y2="261.2" stroke="#000000" stroke-width="0.9"/>
<line x1="75.50" y1="53.0" x2="75.50" y2="56.3" stroke="#000000" stroke-width="0.9"/>
<line x1="151.00" y1="264.5" x2="151.00" y2="261.2" stroke="#000000" stroke-width="0.9"/>
<line x1="151.00" y1="53.0" x2="151.00" y2="56.3" stroke="#000000" stroke-width="0.9"/>
<line x1="226.50" y1="264.5" x2="226.50" y2="261.2" stroke="#000000" stroke-width="0.9"/>
<line x1="226.50" y1="53.0" x2="226.50" y2="56.3" stroke="#000000" stroke-width="0.9"/>
<line x1="302.00" y1="264.5" x2="302.00" y2="261.2" stroke="#000000" stroke-width="0.9"/>
<line x1="302.00" y1="53.0" x2="302.00" y2="56.3" stroke="#000000" stroke-width="0.9"/>
<line x1="377.50" y1="264.5" x2="377.50" y2="261.2" stroke="#000000" stroke-width="0.9"/>
<line x1="377.50" y1="53.0" x2="377.50" y2="56.3" stroke="#000000" stroke-width="0.9"/>
<line x1="75.5" y1="81.40" x2="78.8" y2="81.40" stroke="#000000" stroke-width="0.9"/>
<line x1="377.5" y1="81.40" x2="374.2" y2="81.40" stroke="#000000" stroke-width="0.9"/>
<text x="66.0" y="85.70" text-anchor="end" font-family="Liberation Sans, sans-serif" font-size="13.1" fill="#000">0.04</text>
<line x1="75.5" y1="112.40" x2="78.8" y2="112.40" stroke="#000000" stroke-width="0.9"/>
<line x1="377.5" y1="112.40" x2="374.2" y2="112.40" stroke="#000000" stroke-width="0.9"/>
<text x="66.0" y="116.70" text-anchor="end" font-family="Liberation Sans, sans-serif" font-size="13.1" fill="#000">0.03</text>
<line x1="75.5" y1="143.40" x2="78.8" y2="143.40" stroke="#000000" stroke-width="0.9"/>
<line x1="377.5" y1="143.40" x2="374.2" y2="143.40" stroke="#000000" stroke-width="0.9"/>
<text x="66.0" y="147.70" text-anchor="end" font-family="Liberation Sans, sans-serif" font-size="13.1" fill="#000">0.02</text>
<line x1="75.5" y1="174.40" x2="78.8" y2="174.40" stroke="#000000" stroke-width="0.9"/>
<line x1="377.5" y1="174.40" x2="374.2" y2="174.40" stroke="#000000" stroke-width="0.9"/>
<text x="66.0" y="178.70" text-anchor="end" font-family="Liberation Sans, sans-serif" font-size="13.1" fill="#000">0.01</text>
<line x1="75.5" y1="205.40" x2="78.8" y2="205.40" stroke="#000000" stroke-width="0.9"/>
<line x1="377.5" y1="205.40" x2="374.2" y2="205.40" stroke="#000000" stroke-width="0.9"/>
<text x="66.0" y="209.70" text-anchor="end" font-family="Liberation Sans, sans-serif" font-size="13.1" fill="#000">0</text>
<line x1="75.5" y1="236.40" x2="78.8" y2="236.40" stroke="#000000" stroke-width="0.9"/>
<line x1="377.5" y1="236.40" x2="374.2" y2="236.40" stroke="#000000" stroke-width="0.9"/>
<text x="66.0" y="240.70" text-anchor="end" font-family="Liberation Sans, sans-serif" font-size="13.1" fill="#000">-0.01</text>
<text transform="translate(22.0,158.75) rotate(-90)" text-anchor="middle" font-family="Liberation Sans, sans-serif" font-size="18.8" letter-spacing="-0.28" fill="#000">Re[f<tspan font-size="16" dy="4.9">0</tspan><tspan dy="-4.9">(Y)]</tspan></text>
<line x1="314.10" y1="64.00" x2="358.70" y2="64.00" stroke="#ff0000" stroke-width="1.6"/>
<text x="304.70" y="69.50" text-anchor="end" font-family="Liberation Sans, sans-serif" font-size="10.1" fill="#000"><tspan font-family="Liberation Serif, serif" font-size="11.5">τ</tspan>=0.8</text>
<line x1="314.10" y1="79.78" x2="358.70" y2="79.78" stroke="#00ff00" stroke-width="1.7" stroke-dasharray="2.1 0.9"/>
<text x="304.70" y="85.28" text-anchor="end" font-family="Liberation Sans, sans-serif" font-size="10.1" fill="#000"><tspan font-family="Liberation Serif, serif" font-size="11.5">τ</tspan>=2.4</text>
<line x1="314.10" y1="95.56" x2="358.70" y2="95.56" stroke="#0000ff" stroke-width="1.7" stroke-dasharray="1.15 1.45"/>
<text x="304.70" y="101.06" text-anchor="end" font-family="Liberation Sans, sans-serif" font-size="10.1" fill="#000"><tspan font-family="Liberation Serif, serif" font-size="11.5">τ</tspan>=4.0</text>
<line x1="314.10" y1="111.34" x2="358.70" y2="111.34" stroke="#ff00ff" stroke-width="1.4" stroke-opacity="0.52"/>
<line x1="314.10" y1="111.34" x2="358.70" y2="111.34" stroke="#ff00ff" stroke-width="1.4" stroke-dasharray="1.4 2.1" stroke-opacity="0.42"/>
<text x="304.70" y="116.84" text-anchor="end" font-family="Liberation Sans, sans-serif" font-size="10.1" fill="#000"><tspan font-family="Liberation Serif, serif" font-size="11.5">τ</tspan>=7.2</text>
<line x1="113.20" y1="264.5" x2="113.20" y2="476.0" stroke="#000" stroke-width="1" stroke-dasharray="1 1.03" stroke-opacity="0.36"/>
<clipPath id="cBL"><rect x="75.5" y="264.0" width="302.0" height="213.1"/></clipPath>
<g clip-path="url(#cBL)">
<path d="M75.5 396.7L75.8 379.8L76.0 364.0L76.2 349.6L76.5 336.3L76.8 324.3L77.0 313.6L77.2 304.1L77.5 296.0L77.8 289.1L78.0 283.6L78.2 279.4L78.5 276.6L78.8 275.0L79.0 275.1L79.2 278.1L79.5 284.1L79.8 292.4L80.0 302.7L80.2 314.4L80.5 327.0L80.8 340.0L81.0 352.9L81.2 365.2L81.5 376.4L81.8 386.0L82.0 393.4L82.2 398.3L82.5 400.0L82.8 398.7L83.0 394.9L83.2 389.1L83.5 381.5L83.8 372.6L84.0 362.6L84.2 351.9L84.5 340.8L84.8 329.8L85.0 319.1L85.2 309.1L85.5 300.2L85.8 292.6L86.0 286.8L86.2 283.0L86.5 281.7L86.8 283.6L87.0 288.7L87.2 296.2L87.5 305.2L87.8 315.1L88.0 325.1L88.2 334.1L88.5 341.6L88.8 346.7L89.0 348.6L89.2 347.4L89.5 344.1L89.8 339.2L90.0 333.3L90.2 326.9L90.5 320.5L90.8 314.6L91.0 309.7L91.2 306.4L91.5 305.2L91.8 305.9L92.0 307.8L92.2 310.8L92.5 314.6L92.8 319.1L93.0 324.0L93.2 329.1L93.5 334.3L93.8 339.3L94.0 344.0L94.2 348.1L94.5 351.4L94.8 353.8L95.0 355.0L95.2 354.8L95.5 353.1L95.8 350.2L96.0 346.5L96.2 342.4L96.5 338.2L96.8 334.3L97.0 331.0L97.2 328.8L97.5 328.0L97.8 328.5L98.0 329.7L98.2 331.7L98.5 334.2L98.8 337.1L99.0 340.2L99.2 343.5L99.5 346.7L99.8 349.8L100.0 352.6L100.2 354.9L100.5 356.6L100.8 357.5L101.0 357.6L101.2 356.9L101.5 355.5L101.8 353.6L102.0 351.4L102.2 349.1L102.5 346.8L102.8 344.7L103.0 343.0L103.2 341.8L103.5 341.4L103.8 341.8L104.0 342.8L104.2 344.4L104.5 346.4L104.8 348.7L105.0 351.2L105.2 353.8L105.5 356.4L105.8 358.8L106.0 360.9L106.2 363.1L106.5 365.7L106.8 368.2L107.0 370.0L107.2 371.0L107.5 370.9L107.8 370.4L108.0 369.6L108.2 368.8L108.5 367.9L108.8 367.1L109.0 366.6L109.2 366.5L109.5 367.1L109.8 368.5L110.0 370.4L110.2 372.7L110.5 375.3L110.8 377.9L111.0 380.5L111.2 383.3L111.5 386.4L111.8 389.9L112.0 393.5L112.2 397.4L112.5 402.5L112.8 406.4L113.0 407.2L113.2 406.9L113.5 406.4L113.8 405.6L114.0 404.8L114.2 404.0L114.5 403.1L114.8 402.4L115.0 401.8L115.2 401.5L115.5 401.4L115.8 401.9L116.0 402.9L116.2 404.1L116.5 405.6L116.8 407.3L117.0 409.0L117.2 410.6L117.5 412.1L117.8 413.3L118.0 414.1L118.2 414.5L118.5 414.4L118.8 413.9L119.0 413.2L119.2 412.2L119.5 411.1L119.8 409.8L120.0 408.5L120.2 407.3L120.5 406.1L120.8 405.1L121.0 404.3L121.2 403.8L121.5 403.6L121.8 403.8L122.0 404.4L122.2 405.3L122.5 406.5L122.8 407.8L123.0 409.1L123.2 410.5L123.5 411.7L123.8 412.8L124.0 413.6L124.2 414.0L124.5 414.1L124.8 414.0L125.0 413.7L125.2 413.2L125.5 412.7L125.8 411.9L126.0 411.1L126.2 410.0L126.5 408.8L126.8 407.5L127.0 406.0L127.2 404.3L127.3 404.0L127.3 404.0L128.8 408.3L130.3 412.2L131.9 407.7L133.4 403.7L134.9 407.1L136.4 410.1L138.0 406.6L139.5 403.4L141.0 406.0L142.6 408.4L144.1 405.4L145.6 402.7L147.1 404.8L148.7 406.8L150.2 404.4L151.7 402.2L153.2 404.0L154.8 405.6L156.3 403.7L157.8 402.1L159.3 403.5L160.8 404.6L162.4 403.2L163.9 402.1L165.4 403.1L166.9 404.0L168.5 402.9L170.0 401.9L171.5 402.8L173.1 403.6L174.6 402.7L176.1 401.8L177.6 402.6L179.1 403.3L180.7 402.5L182.2 401.7L183.7 402.4L185.2 403.1L186.8 402.3L188.3 401.6L189.8 402.2L191.3 402.8L192.9 402.1L194.4 401.5L195.9 402.0L197.4 402.6L199.0 401.9L200.5 401.3L202.0 401.8L203.6 402.3L205.1 401.7L206.6 401.2L208.1 401.6L209.6 402.1L211.2 401.5L212.7 401.0L214.2 401.4L215.8 401.9L217.3 401.3L218.8 400.8L220.3 401.3L221.8 401.7L223.4 401.2L224.9 400.7L226.4 401.1L227.9 401.5L229.5 401.0L231.0 400.6L232.5 400.9L234.1 401.3L235.6 400.9L237.1 400.5L238.6 400.8L240.1 401.2L241.7 400.8L243.2 400.4L244.7 400.7L246.2 401.1L247.8 400.7L249.3 400.3L250.8 400.6L252.3 401.0L253.9 400.6L255.4 400.2L256.9 400.5L258.4 400.8L260.0 400.5L261.5 400.1L263.0 400.4L264.6 400.7L266.1 400.4L267.6 400.0L269.1 400.3L270.6 400.6L272.2 400.3L273.7 399.9L275.2 400.2L276.8 400.5L278.3 400.2L279.8 399.8L281.3 400.1L282.8 400.4L284.4 400.1L285.9 399.8L287.4 400.0L288.9 400.3L290.5 400.0L292.0 399.7L293.5 400.0L295.1 400.2L296.6 399.9L298.1 399.6L299.6 399.9L301.1 400.1L302.7 399.9L304.2 399.6L305.7 399.8L307.2 400.1L308.8 399.8L310.3 399.6L311.8 399.8L313.3 400.0L314.9 399.8L316.4 399.5L317.9 399.7L319.4 400.0L321.0 399.7L322.5 399.5L324.0 399.7L325.6 399.9L327.1 399.7L328.6 399.5L330.1 399.7L331.6 399.9L333.2 399.7L334.7 399.5L336.2 399.7L337.8 399.9L339.3 399.7L340.8 399.5L342.3 399.7L343.8 399.9L345.4 399.8L346.9 399.6L348.4 399.8L349.9 400.0L351.5 399.9L353.0 399.7L354.5 399.9L356.1 400.2L357.6 400.0L359.1 399.9L360.6 400.2L362.1 400.4L363.7 399.6L365.2 398.9L366.7 399.5L368.2 400.2L369.8 400.3L371.3 400.4L372.8 400.8L374.3 401.1L375.9 400.8L377.4 400.2L377.5 400.2" fill="none" stroke="#ff0000" stroke-width="1.6" stroke-linejoin="round"/>
<path d="M75.5 396.7L75.8 385.1L76.0 374.7L76.2 365.3L76.5 357.0L76.8 349.7L77.0 343.4L77.2 338.0L77.5 333.6L77.8 330.1L78.0 327.5L78.2 325.6L78.5 324.6L78.8 324.5L79.0 326.7L79.2 331.8L79.5 339.1L79.8 348.3L80.0 358.8L80.2 370.1L80.5 381.6L80.8 393.0L81.0 403.7L81.2 413.2L81.5 420.9L81.8 426.5L82.0 429.3L82.2 429.2L82.5 426.8L82.8 422.6L83.0 416.7L83.2 409.5L83.5 401.4L83.8 392.4L84.0 383.1L84.2 373.5L84.5 364.1L84.8 355.1L85.0 346.7L85.2 339.3L85.5 333.2L85.8 328.6L86.0 325.8L86.2 325.1L86.5 325.4L86.8 326.2L87.0 327.2L87.2 328.5L87.5 330.0L87.8 331.6L88.0 333.3L88.2 335.0L88.5 336.5L88.8 337.9L89.0 339.0L89.2 339.9L89.5 340.4L89.8 340.8L90.0 341.1L90.2 341.4L90.5 341.8L90.8 342.4L91.0 343.3L91.2 345.0L91.5 347.3L91.8 350.1L92.0 353.2L92.2 356.5L92.5 359.8L92.8 363.0L93.0 366.0L93.2 369.0L93.5 372.2L93.8 375.4L94.0 378.2L94.2 380.4L94.5 382.5L94.8 384.3L95.0 385.4L95.2 385.5L95.5 385.2L95.8 384.8L96.0 384.3L96.2 383.7L96.5 383.1L96.8 382.5L97.0 382.0L97.2 381.5L97.5 381.3L97.8 381.2L98.0 381.5L98.2 382.3L98.5 383.3L98.8 384.5L99.0 385.8L99.2 387.1L99.5 388.2L99.8 389.2L100.0 389.7L100.2 389.9L100.5 389.6L100.8 388.8L101.0 387.8L101.2 386.4L101.5 384.9L101.8 383.2L102.0 381.4L102.2 379.6L102.5 377.9L102.8 376.4L103.0 375.0L103.2 374.0L103.5 373.2L103.8 372.9L104.0 373.1L104.2 374.1L104.5 375.5L104.8 377.3L105.0 379.4L105.2 381.5L105.5 383.6L105.8 385.5L106.0 387.0L106.2 388.3L106.5 389.5L106.8 390.7L107.0 391.8L107.2 392.9L107.5 393.9L107.8 394.9L108.0 395.7L108.2 396.6L108.5 397.2L108.8 397.8L109.0 398.2L109.2 398.7L109.5 399.3L109.8 400.0L110.0 401.0L110.2 402.8L110.5 405.8L110.8 409.4L111.0 413.1L111.2 416.4L111.5 418.9L111.8 421.2L112.0 423.3L112.2 425.3L112.5 427.0L112.8 428.4L113.0 429.4L113.2 430.1L113.5 430.8L113.8 431.3L114.0 431.8L114.2 432.2L114.5 432.7L114.8 433.1L115.0 433.7L115.2 434.3L115.5 435.0L115.8 436.0L116.0 437.2L116.2 438.5L116.5 440.0L116.8 441.6L117.0 443.1L117.2 444.7L117.5 446.2L117.8 447.6L118.0 448.9L118.2 449.9L118.5 450.7L118.8 451.2L119.0 451.4L119.2 451.2L119.5 450.7L119.8 449.9L120.0 449.0L120.2 448.0L120.5 446.9L120.8 446.0L121.0 445.2L121.2 444.7L121.5 444.5L121.8 444.7L122.0 445.2L122.2 445.9L122.5 446.9L122.8 448.0L123.0 449.1L123.2 450.2L123.5 451.2L123.8 452.1L124.0 452.7L124.2 453.1L124.5 453.2L124.8 453.1L125.0 452.8L125.2 452.3L125.5 451.7L125.8 451.0L126.0 450.1L126.2 449.1L126.5 448.0L126.8 446.7L127.0 445.3L127.2 443.7L127.3 443.4L127.3 443.4L128.8 445.2L130.3 447.2L131.8 442.4L133.3 437.8L134.8 440.5L136.3 443.4L137.8 439.2L139.3 435.1L140.8 438.0L142.3 440.8L143.8 436.6L145.3 432.3L146.8 434.4L148.3 436.0L149.8 431.0L151.3 426.3L152.8 428.7L154.3 431.1L155.8 427.1L157.3 423.1L158.8 425.7L160.3 428.3L161.8 424.6L163.3 420.8L164.8 423.4L166.3 425.8L167.8 421.9L169.3 418.0L170.8 420.4L172.3 422.9L173.8 419.3L175.3 415.8L176.8 418.4L178.3 421.0L179.8 417.7L181.3 414.4L182.8 417.1L184.3 419.7L185.8 416.5L187.3 413.3L188.8 415.8L190.3 418.3L191.8 415.3L193.3 412.4L194.8 414.9L196.3 417.3L197.8 414.5L199.3 411.8L200.8 414.2L202.3 416.5L203.8 413.9L205.3 411.3L206.8 413.6L208.3 415.7L209.8 413.3L211.3 410.9L212.8 413.0L214.3 415.1L215.8 412.8L217.3 410.5L218.8 412.5L220.3 414.4L221.8 412.3L223.3 410.2L224.8 412.0L226.3 413.8L227.8 411.8L229.3 409.8L230.8 411.5L232.3 413.1L233.8 411.2L235.3 409.4L236.8 410.9L238.3 412.4L239.8 410.7L241.3 409.0L242.8 410.4L244.3 411.6L245.8 410.1L247.3 408.5L248.8 409.8L250.3 411.0L251.8 409.6L253.3 408.2L254.8 409.4L256.3 410.6L257.8 409.3L259.3 408.0L260.8 409.2L262.3 410.3L263.8 409.1L265.3 407.8L266.8 409.0L268.3 410.1L269.8 408.9L271.3 407.7L272.8 408.8L274.3 409.8L275.8 408.7L277.3 407.5L278.8 408.6L280.3 409.6L281.8 408.5L283.3 407.4L284.8 408.4L286.3 409.4L287.8 408.3L289.3 407.3L290.8 408.2L292.3 409.1L293.8 408.1L295.3 407.1L296.8 408.0L298.3 408.9L299.8 407.9L301.3 407.0L302.8 407.9L304.3 408.7L305.8 407.8L307.3 406.8L308.8 407.6L310.3 408.4L311.8 407.5L313.3 406.6L314.8 407.4L316.3 408.1L317.8 407.2L319.3 406.3L320.8 407.1L322.3 407.9L323.8 407.0L325.3 406.1L326.8 406.8L328.3 407.6L329.8 406.8L331.3 405.9L332.8 406.7L334.3 407.5L335.8 406.7L337.3 405.9L338.8 406.7L340.3 407.5L341.8 406.8L343.3 406.0L344.8 406.8L346.3 407.6L347.8 406.9L349.3 406.2L350.8 407.0L352.3 407.8L353.8 407.1L355.3 406.4L356.8 407.2L358.3 408.1L359.8 407.4L361.3 406.6L362.8 406.5L364.3 406.2L365.8 405.4L367.3 405.5L368.8 407.1L370.3 408.5L371.8 408.4L373.3 408.1L374.8 408.8L376.3 408.9L377.5 407.6" fill="none" stroke="#00ff00" stroke-width="1.7" stroke-linejoin="round" stroke-dasharray="2.1 0.9"/>
<path d="M75.5 396.7L75.8 389.9L76.0 383.8L76.2 378.5L76.5 373.9L76.8 369.8L77.0 366.4L77.2 363.5L77.5 361.2L77.8 359.3L78.0 357.9L78.2 356.9L78.5 356.3L78.8 355.9L79.0 356.1L79.2 358.1L79.5 362.0L79.8 367.4L80.0 373.9L80.2 381.2L80.5 388.8L80.8 396.4L81.0 403.7L81.2 410.2L81.5 415.6L81.8 419.5L82.0 421.5L82.2 421.5L82.5 420.3L82.8 418.1L83.0 415.0L83.2 411.2L83.5 406.8L83.8 401.8L84.0 396.4L84.2 390.8L84.5 384.9L84.8 379.0L85.0 373.1L85.2 367.4L85.5 361.9L85.8 356.9L86.0 352.3L86.2 348.4L86.5 345.1L86.8 342.8L87.0 341.4L87.2 341.0L87.5 341.5L87.8 342.6L88.0 344.2L88.2 346.1L88.5 348.2L88.8 350.3L89.0 352.3L89.2 354.1L89.5 355.5L89.8 356.8L90.0 357.9L90.2 359.0L90.5 360.0L90.8 361.0L91.0 362.0L91.2 363.1L91.5 364.2L91.8 365.5L92.0 366.8L92.2 368.3L92.5 370.2L92.8 372.5L93.0 375.0L93.2 377.6L93.5 380.2L93.8 382.7L94.0 384.9L94.2 386.8L94.5 388.2L94.8 389.6L95.0 390.9L95.2 392.0L95.5 392.9L95.8 393.4L96.0 393.5L96.2 393.3L96.5 393.0L96.8 392.6L97.0 392.0L97.2 391.4L97.5 390.7L97.8 389.9L98.0 389.1L98.2 388.3L98.5 387.5L98.8 386.7L99.0 386.0L99.2 385.3L99.5 384.5L99.8 383.7L100.0 382.8L100.2 381.9L100.5 381.1L100.8 380.2L101.0 379.4L101.2 378.7L101.5 378.0L101.8 377.3L102.0 376.6L102.2 375.9L102.5 375.3L102.8 374.6L103.0 374.1L103.2 373.6L103.5 373.3L103.8 373.2L104.0 373.3L104.2 373.8L104.5 374.6L104.8 375.6L105.0 376.8L105.2 378.2L105.5 379.7L105.8 381.2L106.0 382.6L106.2 384.0L106.5 385.3L106.8 386.4L107.0 387.4L107.2 388.4L107.5 389.4L107.8 390.3L108.0 391.3L108.2 392.2L108.5 393.1L108.8 394.0L109.0 394.9L109.2 395.8L109.5 396.7L109.8 397.6L110.0 398.4L110.2 399.2L110.5 400.0L110.8 400.9L111.0 402.0L111.2 403.7L111.5 406.0L111.8 408.6L112.0 411.1L112.2 413.2L112.5 414.5L112.8 415.2L113.0 415.8L113.2 416.3L113.5 416.8L113.8 417.2L114.0 417.5L114.2 417.8L114.5 418.1L114.8 418.5L115.0 418.8L115.2 419.2L115.5 419.7L115.8 420.2L116.0 420.8L116.2 421.5L116.5 422.2L116.8 422.8L117.0 423.5L117.2 424.1L117.5 424.7L117.8 425.2L118.0 425.6L118.2 425.8L118.5 426.0L118.8 426.0L119.0 425.8L119.2 425.5L119.5 425.1L119.8 424.7L120.0 424.1L120.2 423.5L120.5 422.9L120.8 422.2L121.0 421.6L121.2 420.9L121.5 420.4L121.8 419.8L122.0 419.4L122.2 419.1L122.5 418.9L122.8 418.7L123.0 418.6L123.2 418.6L123.5 418.5L123.8 418.4L124.0 418.3L124.2 418.2L124.5 418.2L124.8 418.1L125.0 418.0L125.2 418.0L125.5 417.9L125.8 417.9L126.0 417.8L126.2 417.8L126.5 417.8L126.8 417.7L127.0 417.7L127.2 417.7L127.5 417.7L127.8 417.7L128.0 417.7L128.2 417.7L128.5 417.8L128.8 417.8L129.0 417.9L129.2 418.0L129.5 418.1L129.8 418.2L130.0 418.3L130.2 418.4L130.5 418.5L130.8 418.7L131.0 418.8L131.2 419.0L131.3 419.0L131.3 419.0L131.5 419.1L133.0 419.6L134.5 421.2L136.0 423.4L137.5 423.9L139.0 424.2L140.5 427.4L142.0 431.0L143.5 431.7L145.0 432.0L146.5 434.8L148.0 437.6L149.5 437.3L151.0 436.9L152.5 439.1L154.0 441.2L155.5 440.4L157.0 439.5L158.5 441.4L160.0 443.5L161.5 442.6L163.0 441.6L164.5 443.3L166.0 444.8L167.5 443.3L169.0 441.9L170.5 443.4L172.0 444.9L173.5 443.5L175.0 442.0L176.5 443.7L178.0 445.3L179.5 444.0L181.0 442.8L182.5 444.7L184.0 446.5L185.5 445.0L187.0 443.5L188.5 445.2L190.0 446.8L191.5 445.2L193.0 443.5L194.5 444.9L196.0 446.2L197.5 444.3L199.0 442.2L200.5 443.1L202.0 443.9L203.5 441.3L205.0 438.9L206.5 439.7L208.0 440.6L209.5 438.2L211.0 435.9L212.5 437.1L214.0 438.3L215.5 436.3L217.0 434.2L218.5 435.3L220.0 436.4L221.5 434.0L223.0 431.5L224.5 432.4L226.0 433.4L227.5 430.8L229.0 428.1L230.5 429.1L232.0 430.4L233.5 427.8L235.0 425.2L236.5 426.7L238.0 428.3L239.5 425.8L241.0 423.2L242.5 425.1L244.0 427.2L245.5 424.5L247.0 421.8L248.5 424.0L250.0 426.1L251.5 423.4L253.0 420.7L254.5 422.8L256.0 424.8L257.5 422.1L259.0 419.4L260.5 421.5L262.0 423.6L263.5 421.0L265.0 418.4L266.5 420.6L268.0 422.8L269.5 420.3L271.0 417.7L272.5 420.0L274.0 422.3L275.5 419.7L277.0 417.2L278.5 419.4L280.0 421.7L281.5 419.1L283.0 416.6L284.5 418.8L286.0 421.0L287.5 418.5L289.0 416.1L290.5 418.2L292.0 420.1L293.5 417.9L295.0 415.9L296.5 417.7L298.0 419.4L299.5 417.5L301.0 415.7L302.5 417.3L304.0 418.8L305.5 417.1L307.0 415.5L308.5 417.0L310.0 418.4L311.5 416.8L313.0 415.3L314.5 416.7L316.0 418.0L317.5 416.5L319.0 415.1L320.5 416.3L322.0 417.5L323.5 416.1L325.0 414.8L326.5 415.8L328.0 416.9L329.5 415.6L331.0 414.3L332.5 415.4L334.0 416.4L335.5 415.2L337.0 413.9L338.5 415.0L340.0 416.0L341.5 414.8L343.0 413.6L344.5 414.6L346.0 415.7L347.5 414.5L349.0 413.4L350.5 414.4L352.0 415.5L353.5 414.4L355.0 413.6L356.5 415.1L358.0 416.6L359.5 415.9L361.0 414.9L362.5 414.4L364.0 412.8L365.5 411.2L367.0 411.8L368.5 415.0L370.0 417.3L371.5 417.5L373.0 417.3L374.5 418.6L376.0 418.7L377.5 416.0" fill="none" stroke="#0000ff" stroke-width="1.7" stroke-linejoin="round" stroke-dasharray="1.15 1.45"/>
<path d="M75.5 396.7L75.8 406.3L76.0 415.3L76.2 423.6L76.5 431.3L76.8 438.4L77.0 444.7L77.2 450.2L77.5 455.0L77.8 459.0L78.0 462.0L78.2 464.2L78.5 465.5L78.8 465.8L79.0 464.7L79.2 462.2L79.5 458.5L79.8 454.0L80.0 448.7L80.2 443.1L80.5 437.2L80.8 431.4L81.0 425.9L81.2 420.9L81.5 416.7L81.8 413.5L82.0 411.5L82.2 411.0L82.5 412.3L82.8 415.2L83.0 419.2L83.2 424.1L83.5 429.5L83.8 435.0L84.0 440.3L84.2 445.1L84.5 448.9L84.8 451.5L85.0 452.4L85.2 451.5L85.5 448.9L85.8 445.0L86.0 440.0L86.2 434.1L86.5 427.6L86.8 420.9L87.0 414.0L87.2 407.4L87.5 401.3L87.8 395.9L88.0 391.5L88.2 388.3L88.5 386.7L88.8 386.9L89.0 388.8L89.2 392.0L89.5 396.3L89.8 401.3L90.0 406.7L90.2 412.1L90.5 417.3L90.8 421.9L91.0 425.6L91.2 428.0L91.5 428.9L91.8 428.5L92.0 427.5L92.2 426.0L92.5 424.0L92.8 421.9L93.0 419.6L93.2 417.3L93.5 415.3L93.8 413.5L94.0 412.1L94.2 411.3L94.5 411.3L94.8 411.9L95.0 413.2L95.2 414.9L95.5 417.0L95.8 419.4L96.0 421.9L96.2 424.4L96.5 426.9L96.8 429.1L97.0 431.0L97.2 432.5L97.5 433.4L97.8 433.6L98.0 432.7L98.2 430.6L98.5 427.7L98.8 424.2L99.0 420.3L99.2 416.2L99.5 412.2L99.8 408.6L100.0 405.6L100.2 403.3L100.5 401.8L100.8 400.3L101.0 399.1L101.2 398.5L101.5 398.6L101.8 399.0L102.0 399.5L102.2 400.1L102.5 400.6L102.8 401.1L103.0 401.4L103.2 401.3L103.5 401.0L103.8 400.5L104.0 399.8L104.2 398.9L104.5 397.8L104.8 396.7L105.0 395.6L105.2 394.4L105.5 393.2L105.8 392.1L106.0 391.1L106.2 390.3L106.5 389.6L106.8 389.1L107.0 388.8L107.2 388.8L107.5 388.8L107.8 388.8L108.0 388.9L108.2 388.9L108.5 389.0L108.8 389.1L109.0 389.2L109.2 389.3L109.5 389.4L109.8 389.5L110.0 389.7L110.2 389.8L110.5 390.0L110.8 390.1L111.0 390.3L111.2 390.5L111.5 390.6L111.8 390.8L112.0 391.0L112.2 391.2L112.5 391.4L112.8 391.6L113.0 391.8L113.2 392.0L113.5 392.3L113.8 392.7L114.0 393.1L114.2 393.5L114.5 394.0L114.8 394.6L115.0 395.1L115.2 395.7L115.5 396.2L115.8 396.8L116.0 397.3L116.2 397.7L116.5 398.1L116.8 398.4L117.0 398.7L117.2 399.0L117.5 399.3L117.8 399.6L118.0 399.8L118.2 400.1L118.5 400.4L118.8 400.6L119.0 400.8L119.2 401.0L119.5 401.1L119.8 401.3L120.0 401.3L120.2 401.4L120.5 401.4L120.8 401.2L121.0 400.9L121.2 400.4L121.5 399.8L121.8 399.2L122.0 398.5L122.2 397.8L122.5 397.1L122.8 396.5L123.0 396.0L123.2 395.6L123.5 395.4L123.8 395.3L124.0 395.5L124.2 395.8L124.5 396.2L124.8 396.7L125.0 397.1L125.2 397.4L125.5 397.5L125.8 397.5L126.0 397.4L126.2 397.3L126.5 397.2L126.8 397.0L127.0 396.8L127.2 396.6L127.5 396.2L127.8 395.9L128.0 395.5L128.2 395.0L128.5 394.5L128.8 393.9L129.0 393.2L129.2 392.5L129.5 391.7L129.6 391.4L129.6 391.4L131.1 394.3L132.6 397.2L134.0 394.6L135.5 392.0L137.0 395.3L138.5 398.9L140.0 396.9L141.4 394.7L142.9 398.3L144.4 401.9L145.9 399.6L147.4 397.3L148.8 400.8L150.3 404.4L151.8 402.1L153.3 400.2L154.8 403.4L156.2 406.2L157.7 404.8L159.2 403.7L160.7 406.1L162.2 408.1L163.6 407.1L165.1 406.4L166.6 408.2L168.1 409.9L169.6 409.3L171.0 408.8L172.5 410.5L174.0 412.2L175.5 411.7L177.0 411.3L178.4 413.0L179.9 414.7L181.4 414.4L182.9 414.2L184.4 415.9L185.8 417.6L187.3 417.4L188.8 417.3L190.3 418.9L191.8 420.4L193.2 420.3L194.7 420.2L196.2 421.7L197.7 423.1L199.2 423.1L200.6 423.0L202.1 424.4L203.6 425.7L205.1 425.6L206.6 425.6L208.0 426.9L209.5 428.2L211.0 428.1L212.5 428.0L214.0 429.3L215.4 430.6L216.9 430.4L218.4 430.2L219.9 431.4L221.4 432.6L222.8 432.4L224.3 432.1L225.8 433.3L227.3 434.5L228.8 434.2L230.2 434.0L231.7 435.3L233.2 436.6L234.7 436.5L236.2 436.4L237.6 437.7L239.1 439.1L240.6 438.9L242.1 438.6L243.6 440.0L245.0 441.3L246.5 441.0L248.0 440.7L249.5 442.0L251.0 443.3L252.4 443.0L253.9 442.6L255.4 443.9L256.9 445.2L258.4 444.8L259.8 444.3L261.3 445.6L262.8 446.9L264.3 446.5L265.8 446.0L267.2 447.3L268.7 448.6L270.2 448.1L271.7 447.6L273.2 448.9L274.6 450.3L276.1 449.6L277.6 448.9L279.1 450.2L280.6 451.5L282.0 450.7L283.5 449.8L285.0 451.1L286.5 452.5L288.0 451.5L289.4 450.4L290.9 451.7L292.4 453.0L293.9 451.8L295.4 450.4L296.8 451.8L298.3 453.3L299.8 451.9L301.3 450.4L302.8 451.9L304.2 453.5L305.7 451.9L307.2 450.3L308.7 451.8L310.2 453.4L311.6 451.7L313.1 449.9L314.6 451.5L316.1 453.2L317.6 451.4L319.0 449.6L320.5 451.3L322.0 453.1L323.5 451.3L325.0 449.4L326.4 451.2L327.9 453.1L329.4 451.1L330.9 449.1L332.4 451.0L333.8 452.9L335.3 450.9L336.8 448.7L338.3 450.4L339.8 452.1L341.2 449.5L342.7 446.9L344.2 448.3L345.7 449.9L347.2 447.5L348.6 445.1L350.1 447.0L351.6 449.0L353.1 446.8L354.6 444.7L356.0 447.1L357.5 449.6L358.3 449.1L358.3 449.1L358.6 449.8L358.8 450.5L359.1 451.0L359.3 451.4L359.6 451.8L359.8 452.0L360.1 452.2L360.3 452.4L360.6 452.5L360.8 452.5L361.1 452.6L361.3 452.6L361.6 452.6L361.8 452.5L362.1 451.9L362.3 451.0L362.6 449.7L362.8 448.3L363.1 446.7L363.3 445.0L363.6 443.3L363.8 441.6L364.1 440.0L364.3 438.6L364.6 437.4L364.8 436.6L365.1 436.1L365.3 436.0L365.6 436.4L365.8 437.1L366.1 438.1L366.3 439.3L366.6 440.6L366.8 441.9L367.1 443.3L367.3 444.5L367.6 445.6L367.8 446.5L368.1 447.1L368.3 447.3L368.6 447.1L368.8 446.7L369.1 446.0L369.3 445.1L369.6 444.2L369.8 443.2L370.1 442.4L370.3 441.6L370.6 441.0L370.8 440.7L371.1 440.8L371.3 441.3L371.6 442.1L371.8 443.3L372.1 444.6L372.3 445.9L372.6 447.3L372.8 448.5L373.1 449.5L373.3 450.3L373.6 450.6L373.8 450.5L374.1 450.1L374.3 449.5L374.6 448.7L374.8 447.7L375.1 446.6L375.3 445.4L375.6 444.2L375.8 443.1L376.1 442.0L376.3 441.0L376.6 440.1L376.8 439.5L377.1 439.1L377.3 438.7L377.5 438.5" fill="none" stroke="#ff00ff" stroke-width="1.4" stroke-linejoin="round" stroke-opacity="0.52"/><path d="M75.5 396.7L75.8 406.3L76.0 415.3L76.2 423.6L76.5 431.3L76.8 438.4L77.0 444.7L77.2 450.2L77.5 455.0L77.8 459.0L78.0 462.0L78.2 464.2L78.5 465.5L78.8 465.8L79.0 464.7L79.2 462.2L79.5 458.5L79.8 454.0L80.0 448.7L80.2 443.1L80.5 437.2L80.8 431.4L81.0 425.9L81.2 420.9L81.5 416.7L81.8 413.5L82.0 411.5L82.2 411.0L82.5 412.3L82.8 415.2L83.0 419.2L83.2 424.1L83.5 429.5L83.8 435.0L84.0 440.3L84.2 445.1L84.5 448.9L84.8 451.5L85.0 452.4L85.2 451.5L85.5 448.9L85.8 445.0L86.0 440.0L86.2 434.1L86.5 427.6L86.8 420.9L87.0 414.0L87.2 407.4L87.5 401.3L87.8 395.9L88.0 391.5L88.2 388.3L88.5 386.7L88.8 386.9L89.0 388.8L89.2 392.0L89.5 396.3L89.8 401.3L90.0 406.7L90.2 412.1L90.5 417.3L90.8 421.9L91.0 425.6L91.2 428.0L91.5 428.9L91.8 428.5L92.0 427.5L92.2 426.0L92.5 424.0L92.8 421.9L93.0 419.6L93.2 417.3L93.5 415.3L93.8 413.5L94.0 412.1L94.2 411.3L94.5 411.3L94.8 411.9L95.0 413.2L95.2 414.9L95.5 417.0L95.8 419.4L96.0 421.9L96.2 424.4L96.5 426.9L96.8 429.1L97.0 431.0L97.2 432.5L97.5 433.4L97.8 433.6L98.0 432.7L98.2 430.6L98.5 427.7L98.8 424.2L99.0 420.3L99.2 416.2L99.5 412.2L99.8 408.6L100.0 405.6L100.2 403.3L100.5 401.8L100.8 400.3L101.0 399.1L101.2 398.5L101.5 398.6L101.8 399.0L102.0 399.5L102.2 400.1L102.5 400.6L102.8 401.1L103.0 401.4L103.2 401.3L103.5 401.0L103.8 400.5L104.0 399.8L104.2 398.9L104.5 397.8L104.8 396.7L105.0 395.6L105.2 394.4L105.5 393.2L105.8 392.1L106.0 391.1L106.2 390.3L106.5 389.6L106.8 389.1L107.0 388.8L107.2 388.8L107.5 388.8L107.8 388.8L108.0 388.9L108.2 388.9L108.5 389.0L108.8 389.1L109.0 389.2L109.2 389.3L109.5 389.4L109.8 389.5L110.0 389.7L110.2 389.8L110.5 390.0L110.8 390.1L111.0 390.3L111.2 390.5L111.5 390.6L111.8 390.8L112.0 391.0L112.2 391.2L112.5 391.4L112.8 391.6L113.0 391.8L113.2 392.0L113.5 392.3L113.8 392.7L114.0 393.1L114.2 393.5L114.5 394.0L114.8 394.6L115.0 395.1L115.2 395.7L115.5 396.2L115.8 396.8L116.0 397.3L116.2 397.7L116.5 398.1L116.8 398.4L117.0 398.7L117.2 399.0L117.5 399.3L117.8 399.6L118.0 399.8L118.2 400.1L118.5 400.4L118.8 400.6L119.0 400.8L119.2 401.0L119.5 401.1L119.8 401.3L120.0 401.3L120.2 401.4L120.5 401.4L120.8 401.2L121.0 400.9L121.2 400.4L121.5 399.8L121.8 399.2L122.0 398.5L122.2 397.8L122.5 397.1L122.8 396.5L123.0 396.0L123.2 395.6L123.5 395.4L123.8 395.3L124.0 395.5L124.2 395.8L124.5 396.2L124.8 396.7L125.0 397.1L125.2 397.4L125.5 397.5L125.8 397.5L126.0 397.4L126.2 397.3L126.5 397.2L126.8 397.0L127.0 396.8L127.2 396.6L127.5 396.2L127.8 395.9L128.0 395.5L128.2 395.0L128.5 394.5L128.8 393.9L129.0 393.2L129.2 392.5L129.5 391.7L129.6 391.4L129.6 391.4L131.1 394.3L132.6 397.2L134.0 394.6L135.5 392.0L137.0 395.3L138.5 398.9L140.0 396.9L141.4 394.7L142.9 398.3L144.4 401.9L145.9 399.6L147.4 397.3L148.8 400.8L150.3 404.4L151.8 402.1L153.3 400.2L154.8 403.4L156.2 406.2L157.7 404.8L159.2 403.7L160.7 406.1L162.2 408.1L163.6 407.1L165.1 406.4L166.6 408.2L168.1 409.9L169.6 409.3L171.0 408.8L172.5 410.5L174.0 412.2L175.5 411.7L177.0 411.3L178.4 413.0L179.9 414.7L181.4 414.4L182.9 414.2L184.4 415.9L185.8 417.6L187.3 417.4L188.8 417.3L190.3 418.9L191.8 420.4L193.2 420.3L194.7 420.2L196.2 421.7L197.7 423.1L199.2 423.1L200.6 423.0L202.1 424.4L203.6 425.7L205.1 425.6L206.6 425.6L208.0 426.9L209.5 428.2L211.0 428.1L212.5 428.0L214.0 429.3L215.4 430.6L216.9 430.4L218.4 430.2L219.9 431.4L221.4 432.6L222.8 432.4L224.3 432.1L225.8 433.3L227.3 434.5L228.8 434.2L230.2 434.0L231.7 435.3L233.2 436.6L234.7 436.5L236.2 436.4L237.6 437.7L239.1 439.1L240.6 438.9L242.1 438.6L243.6 440.0L245.0 441.3L246.5 441.0L248.0 440.7L249.5 442.0L251.0 443.3L252.4 443.0L253.9 442.6L255.4 443.9L256.9 445.2L258.4 444.8L259.8 444.3L261.3 445.6L262.8 446.9L264.3 446.5L265.8 446.0L267.2 447.3L268.7 448.6L270.2 448.1L271.7 447.6L273.2 448.9L274.6 450.3L276.1 449.6L277.6 448.9L279.1 450.2L280.6 451.5L282.0 450.7L283.5 449.8L285.0 451.1L286.5 452.5L288.0 451.5L289.4 450.4L290.9 451.7L292.4 453.0L293.9 451.8L295.4 450.4L296.8 451.8L298.3 453.3L299.8 451.9L301.3 450.4L302.8 451.9L304.2 453.5L305.7 451.9L307.2 450.3L308.7 451.8L310.2 453.4L311.6 451.7L313.1 449.9L314.6 451.5L316.1 453.2L317.6 451.4L319.0 449.6L320.5 451.3L322.0 453.1L323.5 451.3L325.0 449.4L326.4 451.2L327.9 453.1L329.4 451.1L330.9 449.1L332.4 451.0L333.8 452.9L335.3 450.9L336.8 448.7L338.3 450.4L339.8 452.1L341.2 449.5L342.7 446.9L344.2 448.3L345.7 449.9L347.2 447.5L348.6 445.1L350.1 447.0L351.6 449.0L353.1 446.8L354.6 444.7L356.0 447.1L357.5 449.6L358.3 449.1L358.3 449.1L358.6 449.8L358.8 450.5L359.1 451.0L359.3 451.4L359.6 451.8L359.8 452.0L360.1 452.2L360.3 452.4L360.6 452.5L360.8 452.5L361.1 452.6L361.3 452.6L361.6 452.6L361.8 452.5L362.1 451.9L362.3 451.0L362.6 449.7L362.8 448.3L363.1 446.7L363.3 445.0L363.6 443.3L363.8 441.6L364.1 440.0L364.3 438.6L364.6 437.4L364.8 436.6L365.1 436.1L365.3 436.0L365.6 436.4L365.8 437.1L366.1 438.1L366.3 439.3L366.6 440.6L366.8 441.9L367.1 443.3L367.3 444.5L367.6 445.6L367.8 446.5L368.1 447.1L368.3 447.3L368.6 447.1L368.8 446.7L369.1 446.0L369.3 445.1L369.6 444.2L369.8 443.2L370.1 442.4L370.3 441.6L370.6 441.0L370.8 440.7L371.1 440.8L371.3 441.3L371.6 442.1L371.8 443.3L372.1 444.6L372.3 445.9L372.6 447.3L372.8 448.5L373.1 449.5L373.3 450.3L373.6 450.6L373.8 450.5L374.1 450.1L374.3 449.5L374.6 448.7L374.8 447.7L375.1 446.6L375.3 445.4L375.6 444.2L375.8 443.1L376.1 442.0L376.3 441.0L376.6 440.1L376.8 439.5L377.1 439.1L377.3 438.7L377.5 438.5" fill="none" stroke="#ff00ff" stroke-width="1.4" stroke-linejoin="round" stroke-dasharray="1.4 2.1" stroke-opacity="0.42"/>
</g>
<rect x="75.5" y="264.5" width="302.0" height="211.5" fill="none" stroke="#000000" stroke-width="1"/>
<line x1="75.50" y1="476.0" x2="75.50" y2="472.7" stroke="#000000" stroke-width="0.9"/>
<line x1="75.50" y1="264.5" x2="75.50" y2="267.8" stroke="#000000" stroke-width="0.9"/>
<text x="77.00" y="496.7" text-anchor="middle" font-family="Liberation Sans, sans-serif" font-size="13.1" fill="#000">0</text>
<line x1="151.00" y1="476.0" x2="151.00" y2="472.7" stroke="#000000" stroke-width="0.9"/>
<line x1="151.00" y1="264.5" x2="151.00" y2="267.8" stroke="#000000" stroke-width="0.9"/>
<text x="152.50" y="496.7" text-anchor="middle" font-family="Liberation Sans, sans-serif" font-size="13.1" fill="#000">40</text>
<line x1="226.50" y1="476.0" x2="226.50" y2="472.7" stroke="#000000" stroke-width="0.9"/>
<line x1="226.50" y1="264.5" x2="226.50" y2="267.8" stroke="#000000" stroke-width="0.9"/>
<text x="228.00" y="496.7" text-anchor="middle" font-family="Liberation Sans, sans-serif" font-size="13.1" fill="#000">80</text>
<line x1="302.00" y1="476.0" x2="302.00" y2="472.7" stroke="#000000" stroke-width="0.9"/>
<line x1="302.00" y1="264.5" x2="302.00" y2="267.8" stroke="#000000" stroke-width="0.9"/>
<text x="303.50" y="496.7" text-anchor="middle" font-family="Liberation Sans, sans-serif" font-size="13.1" fill="#000">120</text>
<line x1="377.50" y1="476.0" x2="377.50" y2="472.7" stroke="#000000" stroke-width="0.9"/>
<line x1="377.50" y1="264.5" x2="377.50" y2="267.8" stroke="#000000" stroke-width="0.9"/>
<text x="379.00" y="496.7" text-anchor="middle" font-family="Liberation Sans, sans-serif" font-size="13.1" fill="#000">160</text>
<line x1="75.5" y1="290.90" x2="78.8" y2="290.90" stroke="#000000" stroke-width="0.9"/>
<line x1="377.5" y1="290.90" x2="374.2" y2="290.90" stroke="#000000" stroke-width="0.9"/>
<text x="66.0" y="295.20" text-anchor="end" font-family="Liberation Sans, sans-serif" font-size="13.1" fill="#000">0.02</text>
<line x1="75.5" y1="343.80" x2="78.8" y2="343.80" stroke="#000000" stroke-width="0.9"/>
<line x1="377.5" y1="343.80" x2="374.2" y2="343.80" stroke="#000000" stroke-width="0.9"/>
<text x="66.0" y="348.10" text-anchor="end" font-family="Liberation Sans, sans-serif" font-size="13.1" fill="#000">0.01</text>
<line x1="75.5" y1="396.70" x2="78.8" y2="396.70" stroke="#000000" stroke-width="0.9"/>
<line x1="377.5" y1="396.70" x2="374.2" y2="396.70" stroke="#000000" stroke-width="0.9"/>
<text x="66.0" y="401.00" text-anchor="end" font-family="Liberation Sans, sans-serif" font-size="13.1" fill="#000">0</text>
<line x1="75.5" y1="449.60" x2="78.8" y2="449.60" stroke="#000000" stroke-width="0.9"/>
<line x1="377.5" y1="449.60" x2="374.2" y2="449.60" stroke="#000000" stroke-width="0.9"/>
<text x="66.0" y="453.90" text-anchor="end" font-family="Liberation Sans, sans-serif" font-size="13.1" fill="#000">-0.01</text>
<text transform="translate(22.0,370.25) rotate(-90)" text-anchor="middle" font-family="Liberation Sans, sans-serif" font-size="18.8" letter-spacing="-0.28" fill="#000">Im[f<tspan font-size="16" dy="4.9">0</tspan><tspan dy="-4.9">(Y)]</tspan></text>
<line x1="314.10" y1="275.50" x2="358.70" y2="275.50" stroke="#ff0000" stroke-width="1.6"/>
<text x="304.70" y="281.00" text-anchor="end" font-family="Liberation Sans, sans-serif" font-size="10.1" fill="#000"><tspan font-family="Liberation Serif, serif" font-size="11.5">τ</tspan>=0.8</text>
<line x1="314.10" y1="291.28" x2="358.70" y2="291.28" stroke="#00ff00" stroke-width="1.7" stroke-dasharray="2.1 0.9"/>
<text x="304.70" y="296.78" text-anchor="end" font-family="Liberation Sans, sans-serif" font-size="10.1" fill="#000"><tspan font-family="Liberation Serif, serif" font-size="11.5">τ</tspan>=2.4</text>
<line x1="314.10" y1="307.06" x2="358.70" y2="307.06" stroke="#0000ff" stroke-width="1.7" stroke-dasharray="1.15 1.45"/>
<text x="304.70" y="312.56" text-anchor="end" font-family="Liberation Sans, sans-serif" font-size="10.1" fill="#000"><tspan font-family="Liberation Serif, serif" font-size="11.5">τ</tspan>=4.0</text>
<line x1="314.10" y1="322.84" x2="358.70" y2="322.84" stroke="#ff00ff" stroke-width="1.4" stroke-opacity="0.52"/>
<line x1="314.10" y1="322.84" x2="358.70" y2="322.84" stroke="#ff00ff" stroke-width="1.4" stroke-dasharray="1.4 2.1" stroke-opacity="0.42"/>
<text x="304.70" y="328.34" text-anchor="end" font-family="Liberation Sans, sans-serif" font-size="10.1" fill="#000"><tspan font-family="Liberation Serif, serif" font-size="11.5">τ</tspan>=7.2</text>
<line x1="490.50" y1="53.0" x2="490.50" y2="264.5" stroke="#000" stroke-width="1" stroke-dasharray="1 1.03" stroke-opacity="0.48"/>
<clipPath id="cTR"><rect x="453.0" y="52.5" width="301.6" height="213.1"/></clipPath>
<g clip-path="url(#cTR)">
<path d="M453.0 69.5L453.2 70.0L453.5 70.4L453.8 70.9L454.0 71.3L454.2 71.6L454.5 71.9L454.8 72.1L455.0 72.4L455.2 72.5L455.5 72.6L455.8 72.7L456.0 72.7L456.2 72.6L456.5 72.5L456.8 72.2L457.0 72.0L457.2 71.7L457.5 71.4L457.8 71.2L458.0 70.9L458.2 70.7L458.5 70.6L458.8 70.5L459.0 70.5L459.2 70.7L459.5 71.0L459.8 71.4L460.0 71.9L460.2 72.4L460.5 72.9L460.8 73.4L461.0 73.9L461.2 74.3L461.5 74.6L461.8 74.8L462.0 74.9L462.2 74.9L462.5 74.9L462.8 74.8L463.0 74.8L463.2 74.7L463.5 74.6L463.8 74.6L464.0 74.5L464.2 74.5L464.5 74.5L464.8 74.6L465.0 74.8L465.2 75.1L465.5 75.5L465.8 76.0L466.0 76.6L466.2 77.2L466.5 77.7L466.8 78.3L467.0 78.8L467.2 79.2L467.5 79.6L467.8 79.9L468.0 80.0L468.2 80.2L468.5 80.3L468.8 80.4L469.0 80.4L469.2 80.5L469.5 80.6L469.8 80.7L470.0 80.8L470.2 81.0L470.5 81.2L470.8 81.4L471.0 81.8L471.2 82.2L471.5 82.6L471.8 83.1L472.0 83.6L472.2 84.0L472.5 84.4L472.8 84.8L473.0 85.1L473.2 85.3L473.5 85.4L473.8 85.4L474.0 85.3L474.2 85.3L474.5 85.1L474.8 85.0L475.0 84.9L475.2 84.7L475.5 84.6L475.8 84.5L476.0 84.4L476.2 84.3L476.5 84.3L476.8 84.3L477.0 84.4L477.2 84.6L477.5 84.7L477.8 84.9L478.0 85.1L478.2 85.3L478.5 85.5L478.8 85.7L479.0 85.9L479.2 86.0L479.5 86.1L479.8 86.1L480.0 86.1L480.2 86.1L480.5 86.0L480.8 86.0L481.0 86.0L481.2 85.9L481.5 85.8L481.8 85.8L482.0 85.7L482.2 85.6L482.5 85.5L482.8 85.4L483.0 85.3L483.2 85.2L483.5 85.1L483.8 84.9L484.0 84.8L484.2 84.7L484.5 84.5L484.8 84.4L485.0 84.1L485.2 83.9L485.5 83.6L485.8 83.2L486.0 82.9L486.2 82.5L486.5 82.1L486.8 81.7L487.0 81.2L487.2 80.8L487.5 80.4L487.8 80.0L488.0 79.6L488.2 79.2L488.5 78.8L488.8 78.4L489.0 77.9L489.2 77.5L489.5 77.0L489.8 76.6L490.0 76.1L490.2 75.7L490.5 75.2L490.8 74.8L491.0 74.3L491.2 73.8L491.5 73.3L491.8 72.8L492.0 72.2L492.2 71.6L492.5 71.1L492.8 70.6L493.0 70.2L493.2 69.9L493.5 69.7L493.8 69.6L494.0 69.6L494.2 69.6L494.5 69.6L494.8 69.7L495.0 69.7L495.2 69.8L495.5 69.8L495.8 69.8L496.0 69.9L496.2 69.9L496.5 69.9L496.8 69.9L497.0 69.9L497.2 69.8L497.5 69.8L497.8 69.7L498.0 69.6L498.2 69.5L498.5 69.4L498.8 69.2L499.0 69.1L499.2 69.0L499.5 68.9L499.8 68.9L500.0 68.8L500.2 68.8L500.5 68.8L500.8 68.8L501.0 68.8L501.2 68.9L501.5 68.9L501.8 69.0L502.0 69.0L502.2 69.1L502.5 69.1L502.8 69.1L503.0 69.2L503.2 69.2L503.5 69.2L503.8 69.2L504.0 69.3L504.2 69.3L504.5 69.3L504.8 69.3L505.0 69.3L505.2 69.4L505.5 69.4L505.8 69.4L506.0 69.4L506.2 69.4L506.5 69.4L506.8 69.4L507.0 69.5L507.2 69.5L507.5 69.5L507.8 69.5L508.0 69.5L508.2 69.5L508.5 69.5L508.8 69.5L509.0 69.5L509.2 69.5L509.5 69.5L509.8 69.5L510.0 69.5L510.2 69.5L510.5 69.5L510.8 69.5L511.0 69.5L511.2 69.5L511.5 69.5L511.8 69.5L512.0 69.5L512.2 69.5L512.5 69.5L512.8 69.5L513.0 69.5L513.2 69.5L513.5 69.5L513.8 69.5L514.0 69.5L514.2 69.5L514.5 69.5L514.8 69.5L515.0 69.5L515.2 69.5L515.5 69.5L515.8 69.5L516.0 69.5L516.2 69.5L516.5 69.5L516.8 69.5L517.0 69.5L517.2 69.5L517.5 69.5L517.8 69.5L518.0 69.5L518.2 69.5L518.5 69.5L518.8 69.5L519.0 69.5L519.2 69.5L519.5 69.5L519.8 69.5L520.0 69.5L520.2 69.5L520.5 69.5L520.8 69.5L521.0 69.5L521.2 69.5L521.5 69.5L521.8 69.5L522.0 69.5L522.2 69.5L522.5 69.5L522.8 69.5L523.0 69.5L523.2 69.5L523.5 69.5L523.8 69.5L524.0 69.5L524.2 69.5L524.5 69.5L524.8 69.5L525.0 69.5L525.2 69.5L525.5 69.5L525.8 69.5L526.0 69.5L526.2 69.5L526.5 69.5L526.8 69.5L527.0 69.5L527.2 69.5L527.5 69.5L527.8 69.5L528.0 69.5L528.2 69.5L528.5 69.5L528.8 69.5L529.0 69.5L529.2 69.5L529.5 69.5L529.8 69.5L530.0 69.5L530.2 69.5L530.5 69.5L530.8 69.5L531.0 69.5L531.2 69.5L531.5 69.5L531.8 69.5L532.0 69.5L532.2 69.5L532.5 69.5L532.8 69.5L533.0 69.5L533.2 69.5L533.5 69.5L533.8 69.5L534.0 69.5L534.2 69.5L534.5 69.5L534.8 69.5L535.0 69.5L535.2 69.5L535.5 69.5L535.8 69.5L536.0 69.5L536.2 69.5L536.5 69.5L536.8 69.5L537.0 69.5L537.2 69.5L537.5 69.5L537.8 69.5L538.0 69.5L538.2 69.5L538.5 69.5L538.8 69.5L539.0 69.5L539.2 69.5L539.5 69.5L539.8 69.5L540.0 69.5L540.2 69.5L540.5 69.5L540.8 69.5L541.0 69.5L541.2 69.5L541.5 69.5L541.8 69.5L542.0 69.5L542.2 69.5L542.5 69.5L542.8 69.5L543.0 69.5L543.2 69.5L543.5 69.5L543.8 69.5L544.0 69.5L544.2 69.5L544.5 69.5L544.8 69.5L545.0 69.5L545.2 69.5L545.5 69.5L545.8 69.5L546.0 69.5L546.2 69.5L546.5 69.5L546.8 69.5L547.0 69.5L547.2 69.5L547.5 69.5L547.8 69.5L548.0 69.5L548.2 69.5L548.5 69.5L548.8 69.5L549.0 69.5L549.2 69.5L549.5 69.5L549.8 69.5L550.0 69.5L550.2 69.5L550.5 69.5L550.8 69.5L551.0 69.5L551.2 69.5L551.5 69.5L551.8 69.5L552.0 69.5L552.2 69.5L552.5 69.5L552.8 69.5L553.0 69.5L553.2 69.5L553.5 69.5L553.8 69.5L554.0 69.5L554.2 69.5L554.5 69.5L554.8 69.5L555.0 69.5L555.2 69.5L555.5 69.5L555.8 69.5L556.0 69.5L556.2 69.5L556.5 69.5L556.8 69.5L557.0 69.5L557.2 69.5L557.5 69.5L557.8 69.5L558.0 69.5L558.2 69.5L558.5 69.5L558.8 69.5L559.0 69.5L559.2 69.5L559.5 69.5L559.8 69.5L560.0 69.5L560.2 69.5L560.5 69.5L560.8 69.5L561.0 69.5L561.2 69.5L561.5 69.5L561.8 69.5L562.0 69.5L562.2 69.5L562.5 69.5L562.8 69.5L563.0 69.5L563.2 69.5L563.5 69.5L563.8 69.5L564.0 69.5L564.2 69.5L564.5 69.5L564.8 69.5L565.0 69.5L565.2 69.5L565.5 69.5L565.8 69.5L566.0 69.5L566.2 69.5L566.5 69.5L566.8 69.5L567.0 69.5L567.2 69.5L567.5 69.5L567.8 69.5L568.0 69.5L568.2 69.5L568.5 69.5L568.8 69.5L569.0 69.5L569.2 69.5L569.5 69.5L569.8 69.5L570.0 69.5L570.2 69.5L570.5 69.5L570.8 69.5L571.0 69.5L571.2 69.5L571.5 69.5L571.8 69.5L572.0 69.5L572.2 69.5L572.5 69.5L572.8 69.5L573.0 69.5L573.2 69.5L573.5 69.5L573.8 69.5L574.0 69.5L574.2 69.5L574.5 69.5L574.8 69.5L575.0 69.5L575.2 69.5L575.5 69.5L575.8 69.5L576.0 69.5L576.2 69.5L576.5 69.5L576.8 69.5L577.0 69.5L577.2 69.5L577.5 69.5L577.8 69.5L578.0 69.5L578.2 69.5L578.5 69.5L578.8 69.5L579.0 69.5L579.2 69.5L579.5 69.5L579.8 69.5L580.0 69.5L580.2 69.5L580.5 69.5L580.8 69.5L581.0 69.5L581.2 69.5L581.5 69.5L581.8 69.5L582.0 69.5L582.2 69.5L582.5 69.5L582.8 69.5L583.0 69.5L583.2 69.5L583.5 69.5L583.8 69.5L584.0 69.5L584.2 69.5L584.5 69.5L584.8 69.5L585.0 69.5L585.2 69.5L585.5 69.5L585.8 69.5L586.0 69.5L586.2 69.5L586.5 69.5L586.8 69.5L587.0 69.5L587.2 69.5L587.5 69.5L587.8 69.5L588.0 69.5L588.2 69.5L588.5 69.5L588.8 69.5L589.0 69.5L589.2 69.5L589.5 69.5L589.8 69.5L590.0 69.5L590.2 69.5L590.5 69.5L590.8 69.5L591.0 69.5L591.2 69.5L591.5 69.5L591.8 69.5L592.0 69.5L592.2 69.5L592.5 69.5L592.8 69.5L593.0 69.5L593.2 69.5L593.5 69.5L593.8 69.5L594.0 69.5L594.2 69.5L594.5 69.5L594.8 69.5L595.0 69.5L595.2 69.5L595.5 69.5L595.8 69.5L596.0 69.5L596.2 69.5L596.5 69.5L596.8 69.5L597.0 69.5L597.2 69.5L597.5 69.5L597.8 69.5L598.0 69.5L598.2 69.5L598.5 69.5L598.8 69.5L599.0 69.5L599.2 69.5L599.5 69.5L599.8 69.5L600.0 69.5L600.2 69.5L600.5 69.5L600.8 69.5L601.0 69.5L601.2 69.5L601.5 69.5L601.8 69.5L602.0 69.5L602.2 69.5L602.5 69.5L602.8 69.5L603.0 69.5L603.2 69.5L603.5 69.5L603.8 69.5L604.0 69.5L604.2 69.5L604.5 69.5L604.8 69.5L605.0 69.5L605.2 69.5L605.5 69.5L605.8 69.5L606.0 69.5L606.2 69.5L606.5 69.5L606.8 69.5L607.0 69.5L607.2 69.5L607.5 69.5L607.8 69.5L608.0 69.5L608.2 69.5L608.5 69.5L608.8 69.5L609.0 69.5L609.2 69.5L609.5 69.5L609.8 69.5L610.0 69.5L610.2 69.5L610.5 69.5L610.8 69.5L611.0 69.5L611.2 69.5L611.5 69.5L611.8 69.5L612.0 69.5L612.2 69.5L612.5 69.5L612.8 69.5L613.0 69.5L613.2 69.5L613.5 69.5L613.8 69.5L614.0 69.5L614.2 69.5L614.5 69.5L614.8 69.5L615.0 69.5L615.2 69.5L615.5 69.5L615.8 69.5L616.0 69.5L616.2 69.5L616.5 69.5L616.8 69.5L617.0 69.5L617.2 69.5L617.5 69.5L617.8 69.5L618.0 69.5L618.2 69.5L618.5 69.5L618.8 69.5L619.0 69.5L619.2 69.5L619.5 69.5L619.8 69.5L620.0 69.5L620.2 69.5L620.5 69.5L620.8 69.5L621.0 69.5L621.2 69.5L621.5 69.5L621.8 69.5L622.0 69.5L622.2 69.5L622.5 69.5L622.8 69.5L623.0 69.5L623.2 69.5L623.5 69.5L623.8 69.5L624.0 69.5L624.2 69.5L624.5 69.5L624.8 69.5L625.0 69.5L625.2 69.5L625.5 69.5L625.8 69.5L626.0 69.5L626.2 69.5L626.5 69.5L626.8 69.5L627.0 69.5L627.2 69.5L627.5 69.5L627.8 69.5L628.0 69.5L628.2 69.5L628.5 69.5L628.8 69.5L629.0 69.5L629.2 69.5L629.5 69.5L629.8 69.5L630.0 69.5L630.2 69.5L630.5 69.5L630.8 69.5L631.0 69.5L631.2 69.5L631.5 69.5L631.8 69.5L632.0 69.5L632.2 69.5L632.5 69.5L632.8 69.5L633.0 69.5L633.2 69.5L633.5 69.5L633.8 69.5L634.0 69.5L634.2 69.5L634.5 69.5L634.8 69.5L635.0 69.5L635.2 69.5L635.5 69.5L635.8 69.5L636.0 69.5L636.2 69.5L636.5 69.5L636.8 69.5L637.0 69.5L637.2 69.5L637.5 69.5L637.8 69.5L638.0 69.5L638.2 69.5L638.5 69.5L638.8 69.5L639.0 69.5L639.2 69.5L639.5 69.5L639.8 69.5L640.0 69.5L640.2 69.5L640.5 69.5L640.8 69.5L641.0 69.5L641.2 69.5L641.5 69.5L641.8 69.5L642.0 69.5L642.2 69.5L642.5 69.5L642.8 69.5L643.0 69.5L643.2 69.5L643.5 69.5L643.8 69.5L644.0 69.5L644.2 69.5L644.5 69.5L644.8 69.5L645.0 69.5L645.2 69.5L645.5 69.5L645.8 69.5L646.0 69.5L646.2 69.5L646.5 69.5L646.8 69.5L647.0 69.5L647.2 69.5L647.5 69.5L647.8 69.5L648.0 69.5L648.2 69.5L648.5 69.5L648.8 69.5L649.0 69.5L649.2 69.5L649.5 69.5L649.8 69.5L650.0 69.5L650.2 69.5L650.5 69.5L650.8 69.5L651.0 69.5L651.2 69.5L651.5 69.5L651.8 69.5L652.0 69.5L652.2 69.5L652.5 69.5L652.8 69.5L653.0 69.5L653.2 69.5L653.5 69.5L653.8 69.5L654.0 69.5L654.2 69.5L654.5 69.5L654.8 69.5L655.0 69.5L655.2 69.5L655.5 69.5L655.8 69.5L656.0 69.5L656.2 69.5L656.5 69.5L656.8 69.5L657.0 69.5L657.2 69.5L657.5 69.5L657.8 69.5L658.0 69.5L658.2 69.5L658.5 69.5L658.8 69.5L659.0 69.5L659.2 69.5L659.5 69.5L659.8 69.5L660.0 69.5L660.2 69.5L660.5 69.5L660.8 69.5L661.0 69.5L661.2 69.5L661.5 69.5L661.8 69.5L662.0 69.5L662.2 69.5L662.5 69.5L662.8 69.5L663.0 69.5L663.2 69.5L663.5 69.5L663.8 69.5L664.0 69.5L664.2 69.5L664.5 69.5L664.8 69.5L665.0 69.5L665.2 69.5L665.5 69.5L665.8 69.5L666.0 69.5L666.2 69.5L666.5 69.5L666.8 69.5L667.0 69.5L667.2 69.5L667.5 69.5L667.8 69.5L668.0 69.5L668.2 69.5L668.5 69.5L668.8 69.5L669.0 69.5L669.2 69.5L669.5 69.5L669.8 69.5L670.0 69.5L670.2 69.5L670.5 69.5L670.8 69.5L671.0 69.5L671.2 69.5L671.5 69.5L671.8 69.5L672.0 69.5L672.2 69.5L672.5 69.5L672.8 69.5L673.0 69.5L673.2 69.5L673.5 69.5L673.8 69.5L674.0 69.5L674.2 69.5L674.5 69.5L674.8 69.5L675.0 69.5L675.2 69.5L675.5 69.5L675.8 69.5L676.0 69.5L676.2 69.5L676.5 69.5L676.8 69.5L677.0 69.5L677.2 69.5L677.5 69.5L677.8 69.5L678.0 69.5L678.2 69.5L678.5 69.5L678.8 69.5L679.0 69.5L679.2 69.5L679.5 69.5L679.8 69.5L680.0 69.5L680.2 69.5L680.5 69.5L680.8 69.5L681.0 69.5L681.2 69.5L681.5 69.5L681.8 69.5L682.0 69.5L682.2 69.5L682.5 69.5L682.8 69.5L683.0 69.5L683.2 69.5L683.5 69.5L683.8 69.5L684.0 69.5L684.2 69.5L684.5 69.5L684.8 69.5L685.0 69.5L685.2 69.5L685.5 69.5L685.8 69.5L686.0 69.5L686.2 69.5L686.5 69.5L686.8 69.5L687.0 69.5L687.2 69.5L687.5 69.5L687.8 69.5L688.0 69.5L688.2 69.5L688.5 69.5L688.8 69.5L689.0 69.5L689.2 69.5L689.5 69.5L689.8 69.5L690.0 69.5L690.2 69.5L690.5 69.5L690.8 69.5L691.0 69.5L691.2 69.5L691.5 69.5L691.8 69.5L692.0 69.5L692.2 69.5L692.5 69.5L692.8 69.5L693.0 69.5L693.2 69.5L693.5 69.5L693.8 69.5L694.0 69.5L694.2 69.5L694.5 69.5L694.8 69.5L695.0 69.5L695.2 69.5L695.5 69.5L695.8 69.5L696.0 69.5L696.2 69.5L696.5 69.5L696.8 69.5L697.0 69.5L697.2 69.5L697.5 69.5L697.8 69.5L698.0 69.5L698.2 69.5L698.5 69.5L698.8 69.5L699.0 69.5L699.2 69.5L699.5 69.5L699.8 69.5L700.0 69.5L700.2 69.5L700.5 69.5L700.8 69.5L701.0 69.5L701.2 69.5L701.5 69.5L701.8 69.5L702.0 69.5L702.2 69.5L702.5 69.5L702.8 69.5L703.0 69.5L703.2 69.5L703.5 69.5L703.8 69.5L704.0 69.5L704.2 69.5L704.5 69.5L704.8 69.5L705.0 69.5L705.2 69.5L705.5 69.5L705.8 69.5L706.0 69.5L706.2 69.5L706.5 69.5L706.8 69.5L707.0 69.5L707.2 69.5L707.5 69.5L707.8 69.5L708.0 69.5L708.2 69.5L708.5 69.5L708.8 69.5L709.0 69.5L709.2 69.5L709.5 69.5L709.8 69.5L710.0 69.5L710.2 69.5L710.5 69.5L710.8 69.5L711.0 69.5L711.2 69.5L711.5 69.5L711.8 69.5L712.0 69.5L712.2 69.5L712.5 69.5L712.8 69.5L713.0 69.5L713.2 69.5L713.5 69.5L713.8 69.5L714.0 69.5L714.2 69.5L714.5 69.5L714.8 69.5L715.0 69.5L715.2 69.5L715.5 69.5L715.8 69.5L716.0 69.5L716.2 69.5L716.5 69.5L716.8 69.5L717.0 69.5L717.2 69.5L717.5 69.5L717.8 69.5L718.0 69.5L718.2 69.5L718.5 69.5L718.8 69.5L719.0 69.5L719.2 69.5L719.5 69.5L719.8 69.5L720.0 69.5L720.2 69.5L720.5 69.5L720.8 69.5L721.0 69.5L721.2 69.5L721.5 69.5L721.8 69.5L722.0 69.5L722.2 69.5L722.5 69.5L722.8 69.5L723.0 69.5L723.2 69.5L723.5 69.5L723.8 69.5L724.0 69.5L724.2 69.5L724.5 69.5L724.8 69.5L725.0 69.5L725.2 69.5L725.5 69.5L725.8 69.5L726.0 69.5L726.2 69.5L726.5 69.5L726.8 69.5L727.0 69.5L727.2 69.5L727.5 69.5L727.8 69.5L728.0 69.5L728.2 69.5L728.5 69.5L728.8 69.5L729.0 69.5L729.2 69.5L729.5 69.5L729.8 69.5L730.0 69.5L730.2 69.5L730.5 69.5L730.8 69.5L731.0 69.5L731.2 69.5L731.5 69.5L731.8 69.5L732.0 69.5L732.2 69.5L732.5 69.5L732.8 69.5L733.0 69.5L733.2 69.5L733.5 69.5L733.8 69.5L734.0 69.5L734.2 69.5L734.5 69.5L734.8 69.5L735.0 69.5L735.2 69.5L735.5 69.5L735.8 69.5L736.0 69.5L736.2 69.5L736.5 69.5L736.8 69.5L737.0 69.5L737.2 69.5L737.5 69.5L737.8 69.5L738.0 69.5L738.2 69.5L738.5 69.5L738.8 69.5L739.0 69.5L739.2 69.5L739.5 69.5L739.8 69.5L740.0 69.5L740.2 69.5L740.5 69.5L740.8 69.5L741.0 69.5L741.2 69.5L741.5 69.5L741.8 69.5L742.0 69.5L742.2 69.5L742.5 69.5L742.8 69.5L743.0 69.5L743.2 69.5L743.5 69.5L743.8 69.5L744.0 69.5L744.2 69.5L744.5 69.5L744.8 69.5L745.0 69.5L745.2 69.5L745.5 69.5L745.8 69.5L746.0 69.5L746.2 69.5L746.5 69.5L746.8 69.5L747.0 69.5L747.2 69.5L747.5 69.5L747.8 69.5L748.0 69.5L748.2 69.5L748.5 69.5L748.8 69.5L749.0 69.5L749.2 69.5L749.5 69.5L749.8 69.5L750.0 69.5L750.2 69.5L750.5 69.5L750.8 69.5L751.0 69.5L751.2 69.5L751.5 69.5L751.8 69.5L752.0 69.5L752.2 69.5L752.5 69.5L752.8 69.5L753.0 69.5L753.2 69.5L753.5 69.5L753.8 69.5L754.0 69.5L754.2 69.5L754.5 69.5L754.7 69.5" fill="none" stroke="#ff0000" stroke-width="1.6" stroke-linejoin="round"/>
<path d="M453.0 69.5L453.2 84.0L453.5 97.4L453.8 109.7L454.0 120.9L454.2 131.1L454.5 140.2L454.8 148.5L455.0 155.8L455.2 162.2L455.5 167.8L455.8 172.5L456.0 176.6L456.2 179.8L456.5 182.5L456.8 184.4L457.0 185.8L457.2 186.5L457.5 186.8L457.8 185.3L458.0 181.4L458.2 176.0L458.5 169.9L458.8 164.1L459.0 158.4L459.2 151.8L459.5 145.4L459.8 140.3L460.0 136.5L460.2 133.1L460.5 131.0L460.8 130.8L461.0 130.9L461.2 131.1L461.5 131.4L461.8 131.6L462.0 131.8L462.2 132.0L462.5 132.2L462.8 132.2L463.0 132.0L463.2 131.6L463.5 131.0L463.8 130.2L464.0 129.4L464.2 128.5L464.5 127.7L464.8 126.9L465.0 126.2L465.2 125.8L465.5 125.5L465.8 125.5L466.0 125.8L466.2 126.1L466.5 126.6L466.8 127.2L467.0 127.8L467.2 128.5L467.5 129.1L467.8 129.6L468.0 130.0L468.2 130.3L468.5 130.4L468.8 130.4L469.0 130.4L469.2 130.3L469.5 130.3L469.8 130.3L470.0 130.2L470.2 130.1L470.5 130.1L470.8 130.0L471.0 129.9L471.2 129.7L471.5 129.4L471.8 129.2L472.0 128.8L472.2 128.5L472.5 128.1L472.8 127.7L473.0 127.3L473.2 126.8L473.5 126.2L473.8 125.5L474.0 124.8L474.2 124.1L474.5 123.5L474.8 122.8L475.0 122.2L475.2 121.5L475.5 120.8L475.8 120.2L476.0 119.7L476.2 119.2L476.5 118.9L476.8 118.7L477.0 118.5L477.2 118.3L477.5 118.2L477.8 118.0L478.0 117.9L478.2 117.8L478.5 117.6L478.8 117.4L479.0 117.1L479.2 116.6L479.5 115.9L479.8 115.1L480.0 114.1L480.2 113.2L480.5 112.4L480.8 111.8L481.0 111.4L481.2 111.0L481.5 110.7L481.8 110.5L482.0 110.2L482.2 110.0L482.5 109.8L482.8 109.6L483.0 109.3L483.2 109.0L483.5 108.7L483.8 108.3L484.0 107.9L484.2 107.4L484.5 106.8L484.8 106.2L485.0 105.5L485.2 104.8L485.5 104.1L485.8 103.4L486.0 102.7L486.2 101.9L486.5 101.1L486.8 100.2L487.0 99.2L487.2 98.3L487.5 97.4L487.8 96.6L488.0 95.8L488.2 95.1L488.5 94.4L488.8 93.8L489.0 93.2L489.2 92.7L489.5 92.0L489.8 91.4L490.0 90.6L490.2 89.8L490.5 88.8L490.8 87.5L491.0 86.1L491.2 84.6L491.5 83.2L491.8 81.9L492.0 80.7L492.2 79.9L492.5 79.4L492.8 79.1L493.0 78.7L493.2 78.4L493.5 78.1L493.8 77.9L494.0 77.8L494.2 77.8L494.5 77.8L494.8 77.9L495.0 78.0L495.2 78.1L495.5 78.2L495.8 78.3L496.0 78.4L496.2 78.4L496.5 78.5L496.8 78.5L497.0 78.4L497.2 78.1L497.5 77.8L497.8 77.3L498.0 76.9L498.2 76.4L498.5 75.9L498.8 75.6L499.0 75.3L499.2 75.2L499.5 75.2L499.8 75.3L500.0 75.5L500.2 75.7L500.5 75.9L500.8 76.1L501.0 76.3L501.2 76.5L501.5 76.6L501.8 76.7L502.0 76.7L502.2 76.5L502.5 76.3L502.8 76.0L503.0 75.7L503.2 75.3L503.5 74.9L503.8 74.5L504.0 74.0L504.2 73.6L504.5 73.2L504.8 72.9L505.0 72.5L505.2 72.3L505.5 72.1L505.8 72.0L506.0 71.9L506.2 71.8L506.5 71.7L506.8 71.6L507.0 71.5L507.2 71.4L507.5 71.3L507.8 71.2L508.0 71.1L508.2 70.9L508.5 70.8L508.8 70.7L509.0 70.6L509.2 70.4L509.5 70.3L509.8 70.3L510.0 70.2L510.2 70.1L510.5 70.1L510.8 70.0L511.0 70.0L511.2 70.0L511.5 69.9L511.8 69.9L512.0 69.9L512.0 69.9L513.5 69.9L515.0 69.3L516.5 69.8L518.0 70.7L519.5 69.8L521.0 68.9L522.5 69.7L524.0 70.5L525.5 69.7L527.0 68.8L528.5 69.6L530.0 70.3L531.5 69.6L533.0 68.8L534.5 69.5L536.0 70.2L537.5 69.5L539.0 68.9L540.5 69.5L542.0 70.0L543.5 69.5L545.0 69.1L546.5 69.5L548.0 69.9L549.5 69.5L551.0 69.2L552.5 69.5L554.0 69.7L555.5 69.5L557.0 69.4L558.5 69.5L560.0 69.5L561.5 69.5L563.0 69.5L564.5 69.5L566.0 69.5L567.5 69.5L569.0 69.5L570.5 69.5L572.0 69.5L573.5 69.5L575.0 69.5L576.5 69.5L578.0 69.5L579.5 69.5L581.0 69.5L582.5 69.5L584.0 69.5L585.5 69.5L587.0 69.5L588.5 69.5L590.0 69.5L591.5 69.5L593.0 69.5L594.5 69.5L596.0 69.5L597.5 69.5L599.0 69.5L600.5 69.5L602.0 69.5L603.5 69.5L605.0 69.5L606.5 69.5L608.0 69.5L609.5 69.5L611.0 69.5L612.5 69.5L614.0 69.5L615.5 69.5L617.0 69.5L618.5 69.5L620.0 69.5L621.5 69.5L623.0 69.5L624.5 69.5L626.0 69.5L627.5 69.5L629.0 69.5L630.5 69.5L632.0 69.5L633.5 69.5L635.0 69.5L636.5 69.5L638.0 69.5L639.5 69.5L641.0 69.5L642.5 69.5L644.0 69.5L645.5 69.5L647.0 69.5L648.5 69.5L650.0 69.5L651.5 69.5L653.0 69.5L654.5 69.5L656.0 69.5L657.5 69.5L659.0 69.5L660.5 69.5L662.0 69.5L663.5 69.5L665.0 69.5L666.5 69.5L668.0 69.5L669.5 69.5L671.0 69.5L672.5 69.5L674.0 69.5L675.5 69.5L677.0 69.5L678.5 69.5L680.0 69.5L681.5 69.5L683.0 69.5L684.5 69.5L686.0 69.5L687.5 69.5L689.0 69.5L690.5 69.5L692.0 69.5L693.5 69.5L695.0 69.5L696.5 69.5L698.0 69.5L699.5 69.5L701.0 69.5L702.5 69.5L704.0 69.5L705.5 69.5L707.0 69.5L708.5 69.5L710.0 69.5L711.5 69.5L713.0 69.5L714.5 69.5L716.0 69.5L717.5 69.5L719.0 69.5L720.5 69.5L722.0 69.5L723.5 69.5L725.0 69.5L726.5 69.5L728.0 69.5L729.5 69.5L731.0 69.5L732.5 69.5L734.0 69.5L735.5 69.5L737.0 69.5L738.5 69.5L740.0 69.5L741.5 69.5L743.0 69.5L744.5 69.5L746.0 69.5L747.5 69.5L749.0 69.5L750.5 69.5L752.0 69.5L753.5 69.5L754.7 69.5" fill="none" stroke="#00ff00" stroke-width="1.7" stroke-linejoin="round" stroke-dasharray="2.1 0.9"/>
<path d="M453.0 69.5L453.2 86.2L453.5 101.8L453.8 116.3L454.0 129.8L454.2 142.3L454.5 153.7L454.8 164.2L455.0 173.6L455.2 182.0L455.5 189.5L455.8 196.0L456.0 201.6L456.2 206.2L456.5 209.8L456.8 212.6L457.0 214.5L457.2 215.4L457.5 215.4L457.8 213.8L458.0 210.4L458.2 205.8L458.5 200.0L458.8 193.4L459.0 186.3L459.2 178.9L459.5 171.5L459.8 164.4L460.0 155.7L460.2 149.9L460.5 148.2L460.8 147.4L461.0 147.5L461.2 147.7L461.5 148.0L461.8 148.4L462.0 148.8L462.2 149.2L462.5 149.6L462.8 149.8L463.0 150.0L463.2 149.9L463.5 149.4L463.8 148.6L464.0 147.5L464.2 146.2L464.5 145.0L464.8 143.9L465.0 142.9L465.2 142.2L465.5 142.0L465.8 142.1L466.0 142.2L466.2 142.5L466.5 142.9L466.8 143.3L467.0 143.8L467.2 144.3L467.5 144.9L467.8 145.4L468.0 146.0L468.2 146.6L468.5 147.2L468.8 147.7L469.0 148.2L469.2 148.7L469.5 149.0L469.8 149.3L470.0 149.5L470.2 149.6L470.5 149.6L470.8 149.5L471.0 149.3L471.2 149.0L471.5 148.7L471.8 148.4L472.0 148.0L472.2 147.5L472.5 147.1L472.8 146.7L473.0 146.2L473.2 145.8L473.5 145.4L473.8 144.9L474.0 144.5L474.2 143.9L474.5 143.3L474.8 142.7L475.0 142.0L475.2 141.4L475.5 140.8L475.8 140.3L476.0 139.8L476.2 139.5L476.5 139.2L476.8 139.1L477.0 139.2L477.2 139.4L477.5 139.7L477.8 140.1L478.0 140.5L478.2 140.9L478.5 141.2L478.8 141.4L479.0 141.5L479.2 141.5L479.5 141.3L479.8 141.1L480.0 140.9L480.2 140.6L480.5 140.3L480.8 139.9L481.0 139.5L481.2 139.2L481.5 138.8L481.8 138.5L482.0 138.3L482.2 138.0L482.5 137.9L482.8 137.7L483.0 137.6L483.2 137.5L483.5 137.4L483.8 137.3L484.0 137.2L484.2 137.1L484.5 136.9L484.8 136.7L485.0 136.2L485.2 135.3L485.5 134.2L485.8 132.9L486.0 131.7L486.2 130.4L486.5 128.9L486.8 127.5L487.0 126.4L487.2 125.5L487.5 124.8L487.8 124.1L488.0 123.5L488.2 122.9L488.5 122.3L488.8 121.7L489.0 121.1L489.2 120.4L489.5 119.6L489.8 118.7L490.0 117.8L490.2 116.7L490.5 115.7L490.8 114.6L491.0 113.4L491.2 112.2L491.5 110.9L491.8 109.5L492.0 108.3L492.2 107.2L492.5 106.3L492.8 105.4L493.0 104.5L493.2 103.9L493.5 103.7L493.8 103.8L494.0 103.9L494.2 104.2L494.5 104.5L494.8 104.8L495.0 105.1L495.2 105.4L495.5 105.7L495.8 105.8L496.0 105.9L496.2 105.8L496.5 105.7L496.8 105.4L497.0 105.1L497.2 104.7L497.5 104.3L497.8 103.8L498.0 103.4L498.2 103.0L498.5 102.6L498.8 102.2L499.0 101.9L499.2 101.7L499.5 101.6L499.8 101.6L500.0 101.8L500.2 102.0L500.5 102.4L500.8 102.7L501.0 103.1L501.2 103.4L501.5 103.6L501.8 103.7L502.0 103.7L502.2 103.6L502.5 103.5L502.8 103.4L503.0 103.2L503.2 102.9L503.5 102.6L503.8 102.3L504.0 101.9L504.2 101.4L504.5 100.9L504.8 100.4L505.0 99.8L505.2 99.1L505.4 98.7L505.4 98.7L506.9 98.1L508.4 97.7L509.9 95.6L511.4 93.6L512.9 93.5L514.4 93.6L515.9 91.9L517.4 90.4L518.9 90.8L520.4 91.3L521.9 90.2L523.4 89.1L524.9 89.9L526.4 90.5L527.9 89.2L529.4 87.6L530.9 87.7L532.4 87.8L533.9 86.1L535.4 84.3L536.9 84.3L538.4 84.3L539.9 82.4L541.4 80.6L542.9 80.5L544.4 80.5L545.9 78.7L547.4 77.1L548.9 77.3L550.4 77.6L551.9 76.1L553.4 74.9L554.9 75.6L556.4 76.4L557.9 75.4L559.4 74.3L560.9 75.1L562.4 75.8L563.9 74.7L565.4 73.8L566.9 74.3L568.4 74.6L569.9 73.3L571.4 72.1L572.9 72.3L574.4 72.5L575.9 71.6L577.4 70.7L578.9 71.1L580.4 71.4L581.9 70.8L583.4 70.2L584.9 70.6L586.4 70.9L587.9 70.4L589.4 69.9L590.9 70.3L592.4 70.6L593.9 70.1L595.4 69.7L596.9 70.0L598.4 70.3L599.9 69.9L601.4 69.5L602.9 69.8L604.4 70.0L605.9 69.7L607.4 69.4L608.9 69.6L610.4 69.8L611.9 69.6L613.4 69.4L614.9 69.5L616.4 69.7L617.9 69.5L619.4 69.4L620.9 69.5L622.4 69.6L623.9 69.5L625.4 69.5L626.9 69.5L628.4 69.5L629.9 69.5L631.4 69.5L632.9 69.5L634.4 69.5L635.9 69.5L637.4 69.5L638.9 69.5L640.4 69.5L641.9 69.5L643.4 69.5L644.9 69.5L646.4 69.5L647.9 69.5L649.4 69.5L650.9 69.5L652.4 69.5L653.9 69.5L655.4 69.5L656.9 69.5L658.4 69.5L659.9 69.5L661.4 69.5L662.9 69.5L664.4 69.5L665.9 69.5L667.4 69.5L668.9 69.5L670.4 69.5L671.9 69.5L673.4 69.5L674.9 69.5L676.4 69.5L677.9 69.5L679.4 69.5L680.9 69.5L682.4 69.5L683.9 69.5L685.4 69.5L686.9 69.5L688.4 69.5L689.9 69.5L691.4 69.5L692.9 69.5L694.4 69.5L695.9 69.5L697.4 69.5L698.9 69.5L700.4 69.5L701.9 69.5L703.4 69.5L704.9 69.5L706.4 69.5L707.9 69.5L709.4 69.5L710.9 69.5L712.4 69.5L713.9 69.5L715.4 69.5L716.9 69.5L718.4 69.5L719.9 69.5L721.4 69.5L722.9 69.5L724.4 69.5L725.9 69.5L727.4 69.5L728.9 69.5L730.4 69.5L731.9 69.5L733.4 69.5L734.9 69.5L736.4 69.5L737.9 69.5L739.4 69.5L740.9 69.5L742.4 69.5L743.9 69.5L745.4 69.5L746.9 69.5L748.4 69.5L749.9 69.5L751.4 69.5L752.9 69.5L754.4 69.5L754.7 69.5" fill="none" stroke="#0000ff" stroke-width="1.7" stroke-linejoin="round" stroke-dasharray="1.15 1.45"/>
<path d="M453.0 69.5L453.2 91.7L453.5 112.5L453.8 131.9L454.0 149.9L454.2 166.4L454.5 181.6L454.8 195.3L455.0 207.7L455.2 218.7L455.5 228.3L455.8 236.6L456.0 243.6L456.2 249.2L456.5 253.5L456.8 256.5L457.0 258.2L457.2 258.5L457.5 256.4L457.8 251.8L458.0 245.5L458.2 238.1L458.5 230.4L458.8 223.1L459.0 217.0L459.2 212.5L459.5 209.2L459.8 206.0L460.0 202.2L460.2 196.4L460.5 184.5L460.8 180.0L461.0 177.6L461.2 176.0L461.5 175.0L461.8 174.8L462.0 174.9L462.2 175.2L462.5 175.6L462.8 175.9L463.0 176.3L463.2 176.5L463.5 176.6L463.8 176.3L464.0 175.6L464.2 174.6L464.5 173.3L464.8 171.9L465.0 170.5L465.2 169.2L465.5 168.2L465.8 167.5L466.0 167.2L466.2 167.4L466.5 167.8L466.8 168.5L467.0 169.4L467.2 170.4L467.5 171.4L467.8 172.4L468.0 173.4L468.2 174.2L468.5 174.8L468.8 175.1L469.0 175.2L469.2 175.1L469.5 174.9L469.8 174.7L470.0 174.4L470.2 174.0L470.5 173.7L470.8 173.3L471.0 172.9L471.2 172.5L471.5 171.9L471.8 171.3L472.0 170.7L472.2 170.0L472.5 169.3L472.8 168.5L473.0 167.7L473.2 166.9L473.5 166.1L473.8 165.3L474.0 164.2L474.2 163.0L474.5 161.8L474.8 160.8L475.0 160.2L475.2 159.8L475.5 159.4L475.8 159.0L476.0 158.8L476.2 158.5L476.5 158.4L476.8 158.3L477.0 158.3L477.2 158.5L477.5 158.8L477.8 159.2L478.0 159.6L478.2 160.0L478.5 160.4L478.8 160.7L479.0 161.0L479.2 161.2L479.5 161.2L479.8 161.1L480.0 160.9L480.2 160.7L480.5 160.5L480.8 160.4L481.0 160.4L481.2 160.3L481.5 160.3L481.8 160.3L482.0 160.3L482.2 160.3L482.5 160.3L482.8 160.3L483.0 160.2L483.2 160.2L483.5 160.2L483.8 160.2L484.0 160.1L484.2 160.0L484.5 159.3L484.8 158.3L485.0 157.1L485.2 155.9L485.5 154.4L485.8 152.7L486.0 150.9L486.2 149.0L486.5 147.3L486.8 145.8L487.0 144.4L487.2 142.9L487.5 141.6L487.8 140.3L488.0 139.0L488.2 137.9L488.5 136.9L488.8 136.0L489.0 135.3L489.2 134.6L489.5 133.9L489.8 133.1L490.0 132.3L490.2 131.3L490.5 130.0L490.8 128.4L491.0 126.7L491.2 125.0L491.5 123.4L491.8 122.1L492.0 121.1L492.2 120.4L492.5 119.6L492.8 119.0L493.0 118.4L493.2 118.0L493.5 117.6L493.8 117.5L494.0 117.5L494.2 117.7L494.5 117.9L494.8 118.1L495.0 118.4L495.2 118.7L495.5 119.0L495.8 119.3L496.0 119.5L496.2 119.6L496.5 119.6L496.8 119.4L497.0 119.1L497.2 118.7L497.5 118.3L497.8 117.8L498.0 117.3L498.2 116.9L498.5 116.6L498.8 116.4L499.0 116.4L499.2 116.5L499.5 116.7L499.8 117.0L500.0 117.3L500.2 117.6L500.5 118.0L500.8 118.4L501.0 118.7L501.2 119.0L501.5 119.3L501.8 119.5L502.0 119.6L502.2 119.6L502.5 119.5L502.8 119.4L503.0 119.3L503.2 119.1L503.5 118.9L503.8 118.6L504.0 118.3L504.2 117.9L504.5 117.5L504.8 117.1L505.0 116.6L505.2 116.0L505.4 115.7L505.4 115.9L507.0 117.0L508.5 118.1L510.1 116.3L511.7 114.7L513.3 115.7L514.9 116.6L516.4 115.1L518.0 113.8L519.6 114.6L521.1 115.4L522.7 114.2L524.3 113.0L525.9 113.8L527.4 114.5L529.0 113.5L530.6 112.4L532.2 113.2L533.8 114.0L535.3 113.0L536.9 112.0L538.5 112.7L540.0 113.4L541.6 112.4L543.2 111.5L544.8 112.1L546.4 112.7L547.9 111.7L549.5 110.8L551.1 111.3L552.6 111.8L554.2 110.8L555.8 109.8L557.4 110.1L558.9 110.3L560.5 109.2L562.1 108.1L563.7 108.3L565.2 108.6L566.8 107.6L568.4 106.7L570.0 106.9L571.5 107.2L573.1 106.3L574.7 105.5L576.3 105.7L577.9 105.9L579.4 105.1L581.0 104.3L582.6 104.5L584.1 104.7L585.7 103.9L587.3 103.2L588.9 103.3L590.4 103.4L592.0 102.6L593.6 101.8L595.2 101.7L596.8 101.6L598.3 100.6L599.9 99.6L601.5 99.4L603.0 99.1L604.6 97.9L606.2 96.8L607.8 96.3L609.4 95.8L610.9 94.5L612.5 93.2L614.1 92.7L615.6 92.3L617.2 91.3L618.8 90.3L620.4 89.9L621.9 89.6L623.5 88.8L625.1 88.0L626.7 87.7L628.2 87.5L629.8 86.8L631.4 86.2L633.0 86.0L634.5 85.9L636.1 85.3L637.7 84.7L639.3 84.5L640.8 84.3L642.4 83.7L644.0 83.2L645.6 82.9L647.1 82.7L648.7 82.2L650.3 81.7L651.9 81.4L653.4 81.0L655.0 80.6L656.6 80.2L658.2 79.8L659.8 79.4L661.3 79.0L662.9 78.6L664.5 78.2L666.0 77.9L667.6 77.5L669.2 77.2L670.8 76.8L672.3 76.5L673.9 76.2L675.5 75.9L677.1 75.6L678.6 75.3L680.2 75.1L681.8 74.8L683.4 74.6L684.9 74.3L686.5 74.1L688.1 73.8L689.7 73.6L691.2 73.4L692.8 73.2L694.4 73.0L696.0 72.9L697.5 72.7L699.1 72.5L700.7 72.4L702.3 72.3L703.8 72.1L705.4 72.0L707.0 71.9L708.6 71.7L710.1 71.6L711.7 71.5L713.3 71.3L714.9 71.2L716.4 71.1L718.0 70.9L719.6 70.8L721.2 70.7L722.8 70.5L724.3 70.4L725.9 70.3L727.5 70.2L729.0 70.1L730.6 70.1L732.2 70.0L733.8 69.9L735.3 69.8L736.9 69.8L738.5 69.7L740.1 69.7L741.6 69.6L743.2 69.6L744.8 69.6L746.4 69.6L747.9 69.5L749.5 69.5L751.1 69.5L752.7 69.5L754.2 69.5L754.7 69.5" fill="none" stroke="#ff00ff" stroke-width="1.4" stroke-linejoin="round" stroke-opacity="0.52"/><path d="M453.0 69.5L453.2 91.7L453.5 112.5L453.8 131.9L454.0 149.9L454.2 166.4L454.5 181.6L454.8 195.3L455.0 207.7L455.2 218.7L455.5 228.3L455.8 236.6L456.0 243.6L456.2 249.2L456.5 253.5L456.8 256.5L457.0 258.2L457.2 258.5L457.5 256.4L457.8 251.8L458.0 245.5L458.2 238.1L458.5 230.4L458.8 223.1L459.0 217.0L459.2 212.5L459.5 209.2L459.8 206.0L460.0 202.2L460.2 196.4L460.5 184.5L460.8 180.0L461.0 177.6L461.2 176.0L461.5 175.0L461.8 174.8L462.0 174.9L462.2 175.2L462.5 175.6L462.8 175.9L463.0 176.3L463.2 176.5L463.5 176.6L463.8 176.3L464.0 175.6L464.2 174.6L464.5 173.3L464.8 171.9L465.0 170.5L465.2 169.2L465.5 168.2L465.8 167.5L466.0 167.2L466.2 167.4L466.5 167.8L466.8 168.5L467.0 169.4L467.2 170.4L467.5 171.4L467.8 172.4L468.0 173.4L468.2 174.2L468.5 174.8L468.8 175.1L469.0 175.2L469.2 175.1L469.5 174.9L469.8 174.7L470.0 174.4L470.2 174.0L470.5 173.7L470.8 173.3L471.0 172.9L471.2 172.5L471.5 171.9L471.8 171.3L472.0 170.7L472.2 170.0L472.5 169.3L472.8 168.5L473.0 167.7L473.2 166.9L473.5 166.1L473.8 165.3L474.0 164.2L474.2 163.0L474.5 161.8L474.8 160.8L475.0 160.2L475.2 159.8L475.5 159.4L475.8 159.0L476.0 158.8L476.2 158.5L476.5 158.4L476.8 158.3L477.0 158.3L477.2 158.5L477.5 158.8L477.8 159.2L478.0 159.6L478.2 160.0L478.5 160.4L478.8 160.7L479.0 161.0L479.2 161.2L479.5 161.2L479.8 161.1L480.0 160.9L480.2 160.7L480.5 160.5L480.8 160.4L481.0 160.4L481.2 160.3L481.5 160.3L481.8 160.3L482.0 160.3L482.2 160.3L482.5 160.3L482.8 160.3L483.0 160.2L483.2 160.2L483.5 160.2L483.8 160.2L484.0 160.1L484.2 160.0L484.5 159.3L484.8 158.3L485.0 157.1L485.2 155.9L485.5 154.4L485.8 152.7L486.0 150.9L486.2 149.0L486.5 147.3L486.8 145.8L487.0 144.4L487.2 142.9L487.5 141.6L487.8 140.3L488.0 139.0L488.2 137.9L488.5 136.9L488.8 136.0L489.0 135.3L489.2 134.6L489.5 133.9L489.8 133.1L490.0 132.3L490.2 131.3L490.5 130.0L490.8 128.4L491.0 126.7L491.2 125.0L491.5 123.4L491.8 122.1L492.0 121.1L492.2 120.4L492.5 119.6L492.8 119.0L493.0 118.4L493.2 118.0L493.5 117.6L493.8 117.5L494.0 117.5L494.2 117.7L494.5 117.9L494.8 118.1L495.0 118.4L495.2 118.7L495.5 119.0L495.8 119.3L496.0 119.5L496.2 119.6L496.5 119.6L496.8 119.4L497.0 119.1L497.2 118.7L497.5 118.3L497.8 117.8L498.0 117.3L498.2 116.9L498.5 116.6L498.8 116.4L499.0 116.4L499.2 116.5L499.5 116.7L499.8 117.0L500.0 117.3L500.2 117.6L500.5 118.0L500.8 118.4L501.0 118.7L501.2 119.0L501.5 119.3L501.8 119.5L502.0 119.6L502.2 119.6L502.5 119.5L502.8 119.4L503.0 119.3L503.2 119.1L503.5 118.9L503.8 118.6L504.0 118.3L504.2 117.9L504.5 117.5L504.8 117.1L505.0 116.6L505.2 116.0L505.4 115.7L505.4 115.9L507.0 117.0L508.5 118.1L510.1 116.3L511.7 114.7L513.3 115.7L514.9 116.6L516.4 115.1L518.0 113.8L519.6 114.6L521.1 115.4L522.7 114.2L524.3 113.0L525.9 113.8L527.4 114.5L529.0 113.5L530.6 112.4L532.2 113.2L533.8 114.0L535.3 113.0L536.9 112.0L538.5 112.7L540.0 113.4L541.6 112.4L543.2 111.5L544.8 112.1L546.4 112.7L547.9 111.7L549.5 110.8L551.1 111.3L552.6 111.8L554.2 110.8L555.8 109.8L557.4 110.1L558.9 110.3L560.5 109.2L562.1 108.1L563.7 108.3L565.2 108.6L566.8 107.6L568.4 106.7L570.0 106.9L571.5 107.2L573.1 106.3L574.7 105.5L576.3 105.7L577.9 105.9L579.4 105.1L581.0 104.3L582.6 104.5L584.1 104.7L585.7 103.9L587.3 103.2L588.9 103.3L590.4 103.4L592.0 102.6L593.6 101.8L595.2 101.7L596.8 101.6L598.3 100.6L599.9 99.6L601.5 99.4L603.0 99.1L604.6 97.9L606.2 96.8L607.8 96.3L609.4 95.8L610.9 94.5L612.5 93.2L614.1 92.7L615.6 92.3L617.2 91.3L618.8 90.3L620.4 89.9L621.9 89.6L623.5 88.8L625.1 88.0L626.7 87.7L628.2 87.5L629.8 86.8L631.4 86.2L633.0 86.0L634.5 85.9L636.1 85.3L637.7 84.7L639.3 84.5L640.8 84.3L642.4 83.7L644.0 83.2L645.6 82.9L647.1 82.7L648.7 82.2L650.3 81.7L651.9 81.4L653.4 81.0L655.0 80.6L656.6 80.2L658.2 79.8L659.8 79.4L661.3 79.0L662.9 78.6L664.5 78.2L666.0 77.9L667.6 77.5L669.2 77.2L670.8 76.8L672.3 76.5L673.9 76.2L675.5 75.9L677.1 75.6L678.6 75.3L680.2 75.1L681.8 74.8L683.4 74.6L684.9 74.3L686.5 74.1L688.1 73.8L689.7 73.6L691.2 73.4L692.8 73.2L694.4 73.0L696.0 72.9L697.5 72.7L699.1 72.5L700.7 72.4L702.3 72.3L703.8 72.1L705.4 72.0L707.0 71.9L708.6 71.7L710.1 71.6L711.7 71.5L713.3 71.3L714.9 71.2L716.4 71.1L718.0 70.9L719.6 70.8L721.2 70.7L722.8 70.5L724.3 70.4L725.9 70.3L727.5 70.2L729.0 70.1L730.6 70.1L732.2 70.0L733.8 69.9L735.3 69.8L736.9 69.8L738.5 69.7L740.1 69.7L741.6 69.6L743.2 69.6L744.8 69.6L746.4 69.6L747.9 69.5L749.5 69.5L751.1 69.5L752.7 69.5L754.2 69.5L754.7 69.5" fill="none" stroke="#ff00ff" stroke-width="1.4" stroke-linejoin="round" stroke-dasharray="1.4 2.1" stroke-opacity="0.42"/>
</g>
<rect x="453.0" y="53.0" width="301.6" height="211.5" fill="none" stroke="#000000" stroke-width="1"/>
<line x1="453.00" y1="264.5" x2="453.00" y2="261.2" stroke="#000000" stroke-width="0.9"/>
<line x1="453.00" y1="53.0" x2="453.00" y2="56.3" stroke="#000000" stroke-width="0.9"/>
<line x1="528.40" y1="264.5" x2="528.40" y2="261.2" stroke="#000000" stroke-width="0.9"/>
<line x1="528.40" y1="53.0" x2="528.40" y2="56.3" stroke="#000000" stroke-width="0.9"/>
<line x1="603.80" y1="264.5" x2="603.80" y2="261.2" stroke="#000000" stroke-width="0.9"/>
<line x1="603.80" y1="53.0" x2="603.80" y2="56.3" stroke="#000000" stroke-width="0.9"/>
<line x1="679.20" y1="264.5" x2="679.20" y2="261.2" stroke="#000000" stroke-width="0.9"/>
<line x1="679.20" y1="53.0" x2="679.20" y2="56.3" stroke="#000000" stroke-width="0.9"/>
<line x1="754.60" y1="264.5" x2="754.60" y2="261.2" stroke="#000000" stroke-width="0.9"/>
<line x1="754.60" y1="53.0" x2="754.60" y2="56.3" stroke="#000000" stroke-width="0.9"/>
<line x1="453.0" y1="69.50" x2="456.3" y2="69.50" stroke="#000000" stroke-width="0.9"/>
<line x1="754.6" y1="69.50" x2="751.3000000000001" y2="69.50" stroke="#000000" stroke-width="0.9"/>
<text x="443.2" y="73.80" text-anchor="end" font-family="Liberation Sans, sans-serif" font-size="13.1" fill="#000">0</text>
<line x1="453.0" y1="102.50" x2="456.3" y2="102.50" stroke="#000000" stroke-width="0.9"/>
<line x1="754.6" y1="102.50" x2="751.3000000000001" y2="102.50" stroke="#000000" stroke-width="0.9"/>
<text x="443.2" y="106.80" text-anchor="end" font-family="Liberation Sans, sans-serif" font-size="13.1" fill="#000">-0.01</text>
<line x1="453.0" y1="135.50" x2="456.3" y2="135.50" stroke="#000000" stroke-width="0.9"/>
<line x1="754.6" y1="135.50" x2="751.3000000000001" y2="135.50" stroke="#000000" stroke-width="0.9"/>
<text x="443.2" y="139.80" text-anchor="end" font-family="Liberation Sans, sans-serif" font-size="13.1" fill="#000">-0.02</text>
<line x1="453.0" y1="168.50" x2="456.3" y2="168.50" stroke="#000000" stroke-width="0.9"/>
<line x1="754.6" y1="168.50" x2="751.3000000000001" y2="168.50" stroke="#000000" stroke-width="0.9"/>
<text x="443.2" y="172.80" text-anchor="end" font-family="Liberation Sans, sans-serif" font-size="13.1" fill="#000">-0.03</text>
<line x1="453.0" y1="201.50" x2="456.3" y2="201.50" stroke="#000000" stroke-width="0.9"/>
<line x1="754.6" y1="201.50" x2="751.3000000000001" y2="201.50" stroke="#000000" stroke-width="0.9"/>
<text x="443.2" y="205.80" text-anchor="end" font-family="Liberation Sans, sans-serif" font-size="13.1" fill="#000">-0.04</text>
<line x1="453.0" y1="234.50" x2="456.3" y2="234.50" stroke="#000000" stroke-width="0.9"/>
<line x1="754.6" y1="234.50" x2="751.3000000000001" y2="234.50" stroke="#000000" stroke-width="0.9"/>
<text x="443.2" y="238.80" text-anchor="end" font-family="Liberation Sans, sans-serif" font-size="13.1" fill="#000">-0.05</text>
<text transform="translate(399.5,158.75) rotate(-90)" text-anchor="middle" font-family="Liberation Sans, sans-serif" font-size="18.8" letter-spacing="-0.28" fill="#000">Re[f<tspan font-size="16" dy="4.9">1</tspan><tspan dy="-4.9">(Y)]</tspan></text>
<line x1="691.20" y1="206.00" x2="735.80" y2="206.00" stroke="#ff0000" stroke-width="1.6"/>
<text x="681.80" y="211.50" text-anchor="end" font-family="Liberation Sans, sans-serif" font-size="10.1" fill="#000"><tspan font-family="Liberation Serif, serif" font-size="11.5">τ</tspan>=0.8</text>
<line x1="691.20" y1="221.78" x2="735.80" y2="221.78" stroke="#00ff00" stroke-width="1.7" stroke-dasharray="2.1 0.9"/>
<text x="681.80" y="227.28" text-anchor="end" font-family="Liberation Sans, sans-serif" font-size="10.1" fill="#000"><tspan font-family="Liberation Serif, serif" font-size="11.5">τ</tspan>=2.4</text>
<line x1="691.20" y1="237.56" x2="735.80" y2="237.56" stroke="#0000ff" stroke-width="1.7" stroke-dasharray="1.15 1.45"/>
<text x="681.80" y="243.06" text-anchor="end" font-family="Liberation Sans, sans-serif" font-size="10.1" fill="#000"><tspan font-family="Liberation Serif, serif" font-size="11.5">τ</tspan>=4.0</text>
<line x1="691.20" y1="253.34" x2="735.80" y2="253.34" stroke="#ff00ff" stroke-width="1.4" stroke-opacity="0.52"/>
<line x1="691.20" y1="253.34" x2="735.80" y2="253.34" stroke="#ff00ff" stroke-width="1.4" stroke-dasharray="1.4 2.1" stroke-opacity="0.42"/>
<text x="681.80" y="258.84" text-anchor="end" font-family="Liberation Sans, sans-serif" font-size="10.1" fill="#000"><tspan font-family="Liberation Serif, serif" font-size="11.5">τ</tspan>=7.2</text>
<line x1="490.50" y1="264.5" x2="490.50" y2="476.0" stroke="#000" stroke-width="1" stroke-dasharray="1 1.03" stroke-opacity="0.48"/>
<clipPath id="cBR"><rect x="453.0" y="264.0" width="301.6" height="213.1"/></clipPath>
<g clip-path="url(#cBR)">
<path d="M453.0 299.7L453.2 314.2L453.5 327.7L453.8 340.3L454.0 352.0L454.2 362.8L454.5 372.7L454.8 381.7L455.0 389.8L455.2 397.0L455.5 403.4L455.8 408.9L456.0 413.6L456.2 417.4L456.5 420.4L456.8 422.6L457.0 423.9L457.2 424.5L457.5 423.6L457.8 420.3L458.0 415.0L458.2 408.1L458.5 400.3L458.8 391.9L459.0 383.6L459.2 375.8L459.5 368.9L459.8 363.6L460.0 360.3L460.2 359.4L460.5 359.9L460.8 361.0L461.0 362.6L461.2 364.6L461.5 366.8L461.8 369.0L462.0 371.2L462.2 373.2L462.5 374.9L462.8 376.1L463.0 376.7L463.2 376.7L463.5 376.1L463.8 375.1L464.0 373.8L464.2 372.3L464.5 370.6L464.8 369.0L465.0 367.4L465.2 366.0L465.5 364.8L465.8 364.1L466.0 363.8L466.2 364.0L466.5 364.5L466.8 365.2L467.0 366.1L467.2 367.1L467.5 368.2L467.8 369.2L468.0 370.2L468.2 371.0L468.5 371.7L468.8 372.0L469.0 372.1L469.2 371.9L469.5 371.5L469.8 371.0L470.0 370.3L470.2 369.5L470.5 368.6L470.8 367.7L471.0 366.8L471.2 365.8L471.5 364.9L471.8 364.1L472.0 363.4L472.2 362.7L472.5 362.2L472.8 361.7L473.0 361.3L473.2 360.8L473.5 360.3L473.8 359.7L474.0 359.0L474.2 358.2L474.5 356.7L474.8 354.5L475.0 352.9L475.2 352.1L475.5 351.4L475.8 350.9L476.0 350.4L476.2 350.0L476.5 349.6L476.8 349.4L477.0 349.1L477.2 348.9L477.5 348.7L477.8 348.5L478.0 348.4L478.2 348.3L478.5 348.1L478.8 348.0L479.0 347.9L479.2 347.7L479.5 347.6L479.8 347.4L480.0 347.2L480.2 346.9L480.5 346.6L480.8 346.2L481.0 345.7L481.2 345.2L481.5 344.8L481.8 344.3L482.0 343.9L482.2 343.6L482.5 343.3L482.8 343.1L483.0 342.9L483.2 342.8L483.5 342.6L483.8 342.5L484.0 342.3L484.2 342.1L484.5 341.8L484.8 341.5L485.0 340.8L485.2 339.6L485.5 337.9L485.8 336.1L486.0 334.5L486.2 333.2L486.5 332.1L486.8 331.0L487.0 330.1L487.2 329.1L487.5 328.3L487.8 327.5L488.0 326.9L488.2 326.4L488.5 325.9L488.8 325.5L489.0 325.1L489.2 324.8L489.5 324.5L489.8 324.1L490.0 323.7L490.2 323.3L490.5 322.7L490.8 322.1L491.0 321.1L491.2 320.0L491.5 318.8L491.8 317.6L492.0 316.5L492.2 315.7L492.5 315.1L492.8 314.6L493.0 314.2L493.2 313.9L493.5 313.6L493.8 313.5L494.0 313.5L494.2 313.7L494.5 314.0L494.8 314.4L495.0 314.8L495.2 315.2L495.5 315.6L495.8 315.9L496.0 316.2L496.2 316.4L496.5 316.4L496.8 316.2L497.0 316.0L497.2 315.6L497.5 315.1L497.8 314.6L498.0 314.1L498.2 313.5L498.5 313.0L498.8 312.5L499.0 312.1L499.2 311.9L499.5 311.7L499.8 311.7L500.0 311.9L500.2 312.1L500.5 312.4L500.8 312.7L501.0 313.1L501.2 313.4L501.5 313.8L501.8 314.1L502.0 314.4L502.2 314.5L502.5 314.6L502.8 314.6L503.0 314.5L503.2 314.3L503.5 314.1L503.8 313.8L504.0 313.5L504.2 313.1L504.5 312.6L504.8 312.1L505.0 311.6L505.2 311.0L505.4 310.6L505.4 310.6L506.9 312.0L508.3 313.3L509.8 311.6L511.3 310.1L512.8 311.3L514.2 312.3L515.7 311.0L517.2 309.7L518.7 310.7L520.1 311.6L521.6 310.5L523.1 309.5L524.6 310.2L526.0 310.9L527.5 310.0L529.0 309.2L530.5 309.8L531.9 310.3L533.4 309.6L534.9 309.0L536.4 309.4L537.9 309.8L539.3 309.2L540.8 308.8L542.3 309.0L543.8 309.2L545.2 308.8L546.7 308.5L548.2 308.6L549.6 308.7L551.1 308.4L552.6 308.2L554.1 308.2L555.5 308.3L557.0 308.1L558.5 307.8L560.0 307.9L561.4 308.0L562.9 307.7L564.4 307.5L565.9 307.6L567.4 307.7L568.8 307.5L570.3 307.3L571.8 307.4L573.2 307.5L574.7 307.3L576.2 307.2L577.7 307.3L579.1 307.4L580.6 307.2L582.1 307.0L583.6 307.1L585.0 307.2L586.5 307.0L588.0 306.8L589.5 306.9L591.0 307.0L592.4 306.8L593.9 306.6L595.4 306.7L596.9 306.8L598.3 306.6L599.8 306.4L601.3 306.5L602.8 306.6L604.2 306.4L605.7 306.2L607.2 306.3L608.6 306.4L610.1 306.2L611.6 306.0L613.1 306.1L614.5 306.2L616.0 306.0L617.5 305.8L619.0 305.9L620.5 306.0L621.9 305.8L623.4 305.6L624.9 305.7L626.4 305.8L627.8 305.6L629.3 305.5L630.8 305.6L632.2 305.6L633.7 305.5L635.2 305.3L636.7 305.4L638.1 305.5L639.6 305.3L641.1 305.1L642.6 305.2L644.0 305.3L645.5 305.2L647.0 305.0L648.5 305.1L650.0 305.2L651.4 305.0L652.9 304.9L654.4 305.0L655.9 305.1L657.3 304.9L658.8 304.8L660.3 304.9L661.8 304.9L663.2 304.8L664.7 304.6L666.2 304.7L667.6 304.8L669.1 304.7L670.6 304.5L672.1 304.6L673.5 304.7L675.0 304.6L676.5 304.4L678.0 304.5L679.5 304.6L680.9 304.5L682.4 304.3L683.9 304.4L685.4 304.5L686.8 304.4L688.3 304.2L689.8 304.3L691.2 304.4L692.7 304.3L694.2 304.2L695.7 304.3L697.1 304.3L698.6 304.2L700.1 304.1L701.6 304.2L703.0 304.3L704.5 304.2L706.0 304.0L707.5 304.1L709.0 304.2L710.4 304.1L711.9 304.0L713.4 304.1L714.9 304.2L716.3 304.1L717.8 303.9L719.3 304.0L720.8 304.1L722.2 304.0L723.7 303.9L725.2 304.0L726.6 304.1L728.1 304.0L729.6 303.9L731.1 304.0L732.5 304.1L734.0 304.0L735.5 303.9L737.0 304.0L738.5 304.0L739.9 303.9L741.4 303.8L742.9 303.9L744.4 304.0L745.8 303.9L747.3 303.7L748.8 303.8L750.2 303.8L751.7 303.5L753.2 303.1L754.7 302.9L754.7 302.9" fill="none" stroke="#ff0000" stroke-width="1.6" stroke-linejoin="round"/>
<path d="M453.0 299.7L453.2 320.5L453.5 339.8L453.8 357.6L454.0 374.1L454.2 389.3L454.5 403.1L454.8 415.6L455.0 426.9L455.2 436.9L455.5 445.8L455.8 453.5L456.0 460.1L456.2 465.5L456.5 469.9L456.8 473.3L457.0 475.6L457.2 477.0L457.5 477.5L457.8 475.5L458.0 470.2L458.2 462.9L458.5 454.9L458.8 447.3L459.0 441.5L459.2 438.3L459.5 436.1L459.8 434.2L460.0 432.2L460.2 429.3L460.5 425.2L460.8 418.0L461.0 412.6L461.2 410.6L461.5 409.3L461.8 408.3L462.0 407.2L462.2 406.1L462.5 405.1L462.8 404.2L463.0 403.3L463.2 402.3L463.5 401.4L463.8 400.4L464.0 399.3L464.2 398.2L464.5 397.2L464.8 396.1L465.0 395.2L465.2 394.4L465.5 393.6L465.8 392.8L466.0 392.2L466.2 392.0L466.5 392.0L466.8 392.0L467.0 392.1L467.2 392.1L467.5 392.2L467.8 392.3L468.0 392.3L468.2 392.4L468.5 392.5L468.8 392.5L469.0 392.6L469.2 392.6L469.5 392.7L469.8 392.7L470.0 392.7L470.2 392.7L470.5 392.6L470.8 392.5L471.0 392.3L471.2 392.1L471.5 391.9L471.8 391.7L472.0 391.4L472.2 391.2L472.5 390.9L472.8 390.6L473.0 390.4L473.2 390.1L473.5 389.9L473.8 389.7L474.0 389.5L474.2 389.3L474.5 389.2L474.8 389.1L475.0 389.1L475.2 389.2L475.5 389.3L475.8 389.6L476.0 390.0L476.2 390.4L476.5 390.9L476.8 391.4L477.0 391.9L477.2 392.4L477.5 392.8L477.8 393.2L478.0 393.5L478.2 393.9L478.5 394.2L478.8 394.6L479.0 395.0L479.2 395.3L479.5 395.6L479.8 395.9L480.0 396.1L480.2 396.2L480.5 396.2L480.8 396.2L481.0 396.1L481.2 396.0L481.5 395.9L481.8 395.8L482.0 395.6L482.2 395.4L482.5 395.2L482.8 394.9L483.0 394.7L483.2 394.4L483.5 394.0L483.8 393.7L484.0 393.3L484.2 392.9L484.5 392.5L484.8 391.7L485.0 390.5L485.2 389.1L485.5 387.6L485.8 386.3L486.0 385.0L486.2 383.8L486.5 382.5L486.8 381.2L487.0 380.1L487.2 379.2L487.5 378.4L487.8 377.7L488.0 377.1L488.2 376.6L488.5 376.1L488.8 375.6L489.0 375.1L489.2 374.5L489.5 373.9L489.8 373.2L490.0 372.5L490.2 371.8L490.5 371.1L490.8 370.3L491.0 369.5L491.2 368.8L491.5 368.0L491.8 367.2L492.0 366.4L492.2 365.5L492.5 364.6L492.8 363.8L493.0 363.3L493.2 362.9L493.5 362.6L493.8 362.4L494.0 362.2L494.2 362.0L494.5 361.8L494.8 361.7L495.0 361.5L495.2 361.4L495.5 361.2L495.8 361.1L496.0 360.9L496.2 360.7L496.5 360.5L496.8 360.3L497.0 360.1L497.2 359.9L497.5 359.6L497.8 359.4L498.0 359.2L498.2 359.0L498.5 358.9L498.8 358.7L499.0 358.6L499.2 358.5L499.5 358.5L499.8 358.5L500.0 358.5L500.2 358.6L500.5 358.6L500.8 358.7L501.0 358.7L501.2 358.7L501.5 358.8L501.8 358.8L502.0 358.9L502.2 358.9L502.5 359.0L502.8 359.0L503.0 359.0L503.2 359.1L503.5 359.1L503.8 359.1L504.0 359.1L504.2 359.1L504.5 359.1L504.8 359.0L505.0 359.0L505.2 358.9L505.5 358.8L505.8 358.7L506.0 358.5L506.2 358.4L506.5 358.2L506.8 358.0L507.0 357.7L507.2 357.0L507.5 356.1L507.8 355.2L508.0 354.5L508.2 354.0L508.5 353.4L508.8 352.9L509.0 352.5L509.2 352.0L509.5 351.6L509.8 351.1L510.0 350.7L510.2 350.3L510.5 349.9L510.8 349.5L511.0 349.2L511.2 348.8L511.5 348.5L511.8 348.1L512.0 347.9L512.2 347.6L512.5 347.4L512.8 347.2L513.0 347.1L513.2 347.0L513.5 346.9L513.8 346.9L514.0 346.8L514.2 346.8L514.5 346.7L514.8 346.6L515.0 346.5L515.2 346.3L515.5 346.1L515.8 345.9L516.0 345.6L516.2 345.3L516.5 345.0L516.8 344.7L517.0 344.4L517.2 344.2L517.5 344.0L517.8 343.8L518.0 343.7L518.2 343.6L518.5 343.6L518.8 343.6L519.0 343.7L519.2 343.8L519.5 343.9L519.8 343.9L520.0 344.0L520.2 344.1L520.5 344.1L520.8 344.0L521.0 344.0L521.2 343.8L521.5 343.7L521.8 343.5L522.0 343.2L522.2 343.0L522.5 342.7L522.8 342.4L523.0 342.2L523.2 341.9L523.5 341.7L523.8 341.6L524.0 341.4L524.2 341.4L524.5 341.3L524.8 341.3L525.0 341.4L525.2 341.4L525.5 341.5L525.8 341.5L526.0 341.6L526.2 341.6L526.5 341.6L526.8 341.5L527.0 341.4L527.2 341.2L527.5 341.0L527.8 340.7L528.0 340.4L528.2 340.1L528.5 339.7L528.8 339.4L529.0 339.0L529.2 338.7L529.5 338.4L529.8 338.1L530.0 337.9L530.2 337.7L530.5 337.6L530.8 337.5L531.0 337.5L531.2 337.5L531.5 337.5L531.8 337.5L532.0 337.4L532.2 337.4L532.5 337.4L532.8 337.3L533.0 337.1L533.2 337.0L533.5 336.8L533.8 336.5L534.0 336.2L534.2 335.9L534.5 335.6L534.8 335.3L535.0 335.0L535.2 334.7L535.5 334.5L535.8 334.3L536.0 334.1L536.2 334.0L536.5 334.0L536.8 334.0L537.0 334.0L537.2 334.0L537.5 334.1L537.8 334.1L538.0 334.2L538.2 334.2L538.5 334.2L538.8 334.2L539.0 334.1L539.2 334.0L539.5 333.8L539.8 333.6L540.0 333.4L540.2 333.1L540.5 332.8L540.8 332.6L541.0 332.3L541.2 332.1L541.5 331.9L541.8 331.8L542.0 331.7L542.2 331.6L542.5 331.6L542.8 331.7L543.0 331.7L543.2 331.8L543.5 331.9L543.8 332.0L544.0 332.1L544.2 332.2L544.5 332.2L544.8 332.2L545.0 332.2L545.2 332.1L545.5 331.9L545.8 331.8L546.0 331.6L546.2 331.3L546.5 331.1L546.8 330.8L547.0 330.6L547.2 330.4L547.5 330.2L547.8 330.0L548.0 329.9L548.2 329.9L548.5 329.9L548.8 329.9L549.0 329.9L549.2 330.0L549.5 330.1L549.8 330.2L550.0 330.3L550.2 330.3L550.5 330.4L550.8 330.4L551.0 330.3L551.2 330.2L551.5 330.1L551.8 329.9L552.0 329.7L552.2 329.5L552.5 329.2L552.8 329.0L553.0 328.8L553.2 328.6L553.5 328.4L553.8 328.3L554.0 328.2L554.2 328.2L554.5 328.2L554.8 328.3L555.0 328.4L555.2 328.5L555.5 328.6L555.8 328.7L556.0 328.8L556.2 328.9L556.5 329.0L556.8 329.0L557.0 329.0L557.2 328.9L557.5 328.8L557.8 328.6L558.0 328.5L558.2 328.3L558.5 328.0L558.8 327.8L559.0 327.6L559.2 327.4L559.5 327.3L559.8 327.1L560.0 327.1L560.2 327.0L560.5 327.0L560.8 327.0L561.0 327.1L561.2 327.2L561.5 327.3L561.8 327.4L562.0 327.4L562.2 327.5L562.5 327.5L562.8 327.5L563.0 327.4L563.2 327.3L563.5 327.2L563.8 327.0L564.0 326.8L564.2 326.5L564.5 326.3L564.8 326.1L565.0 325.8L565.2 325.6L565.5 325.5L565.8 325.3L566.0 325.2L566.2 325.2L566.5 325.2L566.8 325.2L567.0 325.3L567.2 325.4L567.5 325.5L567.8 325.6L568.0 325.7L568.2 325.8L568.5 325.9L568.8 325.9L569.0 325.9L569.2 325.8L569.5 325.7L569.8 325.5L570.0 325.4L570.2 325.2L570.5 325.0L570.8 324.7L571.0 324.5L571.2 324.4L571.5 324.2L571.8 324.1L572.0 324.0L572.2 324.0L572.5 324.0L572.8 324.1L573.0 324.2L573.2 324.3L573.5 324.4L573.8 324.5L574.0 324.6L574.2 324.7L574.5 324.7L574.8 324.7L575.0 324.7L575.2 324.6L575.5 324.5L575.8 324.3L576.0 324.1L576.2 323.9L576.5 323.7L576.8 323.5L577.0 323.3L577.2 323.1L577.5 322.9L577.8 322.8L578.0 322.7L578.2 322.7L578.5 322.7L578.8 322.8L579.0 322.9L579.2 323.0L579.5 323.1L579.8 323.2L580.0 323.3L580.2 323.4L580.5 323.5L580.8 323.5L581.0 323.5L581.2 323.5L581.5 323.4L581.8 323.3L582.0 323.1L582.2 322.9L582.5 322.7L582.8 322.5L583.0 322.4L583.2 322.2L583.5 322.1L583.8 322.0L584.0 322.0L584.2 322.0L584.5 322.0L584.8 322.1L585.0 322.2L585.2 322.3L585.5 322.4L585.8 322.6L586.0 322.7L586.2 322.8L586.5 322.9L586.8 322.9L587.0 322.9L587.2 322.9L587.5 322.8L587.8 322.7L588.0 322.5L588.2 322.4L588.5 322.2L588.8 322.0L589.0 321.8L589.2 321.7L589.5 321.6L589.8 321.5L590.0 321.4L590.2 321.4L590.5 321.5L590.8 321.6L591.0 321.7L591.2 321.8L591.5 321.9L591.8 322.1L592.0 322.2L592.2 322.3L592.5 322.4L592.8 322.4L593.0 322.4L593.2 322.3L593.5 322.3L593.8 322.1L594.0 322.0L594.2 321.8L594.5 321.6L594.8 321.5L595.0 321.3L595.2 321.1L595.5 321.0L595.8 320.9L596.0 320.9L596.2 320.9L596.5 320.9L596.8 321.0L597.0 321.1L597.2 321.2L597.5 321.4L597.8 321.5L598.0 321.6L598.2 321.7L598.5 321.8L598.8 321.8L599.0 321.8L599.2 321.8L599.5 321.7L599.8 321.6L600.0 321.4L600.2 321.3L600.5 321.1L600.8 320.9L601.0 320.7L601.2 320.6L601.5 320.5L601.8 320.4L602.0 320.4L602.2 320.4L602.5 320.4L602.8 320.5L603.0 320.5L603.2 320.7L603.5 320.8L603.8 320.9L604.0 321.0L604.2 321.1L604.5 321.2L604.8 321.2L605.0 321.2L605.2 321.1L605.5 321.0L605.8 320.9L606.0 320.8L606.2 320.6L606.5 320.4L606.8 320.3L607.0 320.1L607.2 319.9L607.5 319.8L607.8 319.7L608.0 319.7L608.2 319.7L608.5 319.7L608.8 319.7L609.0 319.8L609.2 319.9L609.5 320.0L609.8 320.1L610.0 320.2L610.2 320.2L610.5 320.3L610.8 320.3L611.0 320.2L611.2 320.2L611.5 320.1L611.8 320.0L612.0 319.8L612.2 319.7L612.5 319.5L612.8 319.3L613.0 319.2L613.2 319.1L613.5 318.9L613.8 318.9L614.0 318.8L614.2 318.8L614.5 318.8L614.8 318.9L615.0 319.0L615.2 319.0L615.5 319.1L615.8 319.2L616.0 319.3L616.2 319.4L616.5 319.4L616.8 319.5L617.0 319.5L617.2 319.4L617.5 319.3L617.8 319.2L618.0 319.1L618.2 319.0L618.5 318.8L618.8 318.7L619.0 318.5L619.2 318.4L619.5 318.3L619.8 318.3L620.0 318.2L620.2 318.2L620.5 318.2L620.8 318.3L621.0 318.4L621.2 318.4L621.5 318.5L621.8 318.6L622.0 318.7L622.2 318.8L622.5 318.8L622.8 318.8L623.0 318.8L623.2 318.8L623.5 318.7L623.8 318.6L624.0 318.5L624.2 318.4L624.5 318.3L624.8 318.1L625.0 318.0L625.2 317.9L625.5 317.8L625.8 317.8L626.0 317.7L626.2 317.7L626.5 317.8L626.8 317.8L627.0 317.9L627.2 317.9L627.5 318.0L627.8 318.1L628.0 318.2L628.2 318.2L628.5 318.3L628.8 318.3L629.0 318.3L629.2 318.3L629.5 318.2L629.8 318.1L630.0 318.0L630.2 317.9L630.5 317.8L630.8 317.7L631.0 317.6L631.2 317.5L631.5 317.4L631.8 317.4L632.0 317.3L632.2 317.3L632.5 317.4L632.8 317.4L633.0 317.5L633.2 317.5L633.5 317.6L633.8 317.7L634.0 317.8L634.2 317.8L634.5 317.8L634.8 317.9L635.0 317.9L635.2 317.8L635.5 317.8L635.8 317.7L636.0 317.6L636.2 317.5L636.5 317.4L636.8 317.3L637.0 317.2L637.2 317.1L637.5 317.1L637.8 317.0L638.0 317.0L638.2 317.0L638.5 317.0L638.8 317.1L639.0 317.1L639.2 317.2L639.5 317.2L639.8 317.3L640.0 317.3L640.2 317.4L640.5 317.4L640.8 317.4L641.0 317.4L641.2 317.4L641.5 317.3L641.8 317.3L642.0 317.2L642.2 317.1L642.5 317.0L642.8 316.9L643.0 316.8L643.2 316.7L643.5 316.7L643.8 316.6L644.0 316.6L644.2 316.6L644.5 316.6L644.8 316.6L645.0 316.7L645.2 316.7L645.5 316.8L645.8 316.8L646.0 316.9L646.2 316.9L646.5 316.9L646.8 316.9L647.0 316.9L647.2 316.9L647.5 316.9L647.8 316.8L648.0 316.7L648.2 316.6L648.5 316.5L648.8 316.4L649.0 316.3L649.2 316.3L649.5 316.2L649.8 316.2L650.0 316.1L650.2 316.1L650.5 316.1L650.8 316.2L651.0 316.2L651.2 316.2L651.5 316.3L651.8 316.4L652.0 316.4L652.2 316.5L652.5 316.5L652.8 316.5L653.0 316.5L653.2 316.5L653.5 316.4L653.8 316.4L654.0 316.3L654.2 316.2L654.5 316.1L654.8 316.0L655.0 315.9L655.2 315.8L655.5 315.8L655.8 315.7L656.0 315.7L656.2 315.7L656.5 315.7L656.8 315.7L657.0 315.8L657.2 315.8L657.5 315.9L657.8 316.0L658.0 316.0L658.2 316.1L658.5 316.1L658.8 316.1L659.0 316.1L659.2 316.1L659.5 316.0L659.8 316.0L660.0 315.9L660.2 315.8L660.5 315.7L660.8 315.6L661.0 315.5L661.2 315.5L661.5 315.4L661.8 315.4L662.0 315.3L662.2 315.3L662.5 315.4L662.8 315.4L663.0 315.4L663.2 315.5L663.5 315.5L663.8 315.6L664.0 315.7L664.2 315.7L664.5 315.7L664.8 315.7L665.0 315.7L665.2 315.7L665.5 315.7L665.8 315.6L666.0 315.6L666.2 315.5L666.5 315.4L666.8 315.3L667.0 315.2L667.2 315.2L667.5 315.1L667.8 315.1L668.0 315.0L668.2 315.0L668.5 315.1L668.8 315.1L669.0 315.1L669.2 315.2L669.5 315.3L669.8 315.3L670.0 315.4L670.2 315.4L670.5 315.5L670.8 315.5L671.0 315.5L671.2 315.5L671.5 315.4L671.8 315.4L672.0 315.3L672.2 315.2L672.5 315.1L672.8 315.1L673.0 315.0L673.2 314.9L673.5 314.9L673.8 314.8L674.0 314.8L674.2 314.8L674.5 314.8L674.8 314.9L675.0 314.9L675.2 315.0L675.5 315.0L675.8 315.1L676.0 315.2L676.2 315.2L676.5 315.2L676.8 315.3L677.0 315.3L677.2 315.2L677.5 315.2L677.8 315.1L678.0 315.1L678.2 315.0L678.5 314.9L678.8 314.9L679.0 314.8L679.2 314.7L679.5 314.7L679.8 314.6L680.0 314.6L680.2 314.6L680.5 314.6L680.8 314.7L681.0 314.7L681.2 314.8L681.5 314.8L681.8 314.9L682.0 315.0L682.2 315.0L682.5 315.0L682.8 315.1L683.0 315.1L683.2 315.0L683.5 315.0L683.8 315.0L684.0 314.9L684.2 314.8L684.5 314.7L684.8 314.7L685.0 314.6L685.2 314.5L685.5 314.5L685.8 314.5L686.0 314.4L686.2 314.4L686.5 314.5L686.8 314.5L687.0 314.5L687.2 314.6L687.5 314.7L687.8 314.7L688.0 314.8L688.2 314.8L688.5 314.9L688.8 314.9L689.0 314.9L689.2 314.9L689.5 314.8L689.8 314.8L690.0 314.7L690.2 314.6L690.5 314.6L690.8 314.5L691.0 314.4L691.2 314.4L691.5 314.3L691.8 314.3L692.0 314.3L692.2 314.3L692.5 314.3L692.8 314.3L693.0 314.4L693.2 314.4L693.5 314.5L693.8 314.5L694.0 314.6L694.2 314.6L694.5 314.7L694.8 314.7L695.0 314.7L695.2 314.7L695.5 314.6L695.8 314.6L696.0 314.5L696.2 314.4L696.5 314.4L696.8 314.3L697.0 314.2L697.2 314.1L697.5 314.1L697.8 314.1L698.0 314.0L698.2 314.0L698.5 314.0L698.8 314.1L699.0 314.1L699.2 314.2L699.5 314.2L699.8 314.3L700.0 314.3L700.2 314.4L700.5 314.4L700.8 314.4L701.0 314.4L701.2 314.4L701.5 314.3L701.8 314.3L702.0 314.2L702.2 314.1L702.5 314.1L702.8 314.0L703.0 314.0L703.2 313.9L703.5 313.9L703.8 313.9L704.0 313.8L704.2 313.8L704.5 313.9L704.8 313.9L705.0 313.9L705.2 313.9L705.5 314.0L705.8 314.0L706.0 314.0L706.2 314.1L706.5 314.1L706.8 314.1L707.0 314.1L707.2 314.1L707.5 314.0L707.8 314.0L708.0 314.0L708.2 313.9L708.5 313.9L708.8 313.9L709.0 313.9L709.2 313.8L709.5 313.8L709.8 313.8L710.0 313.8L710.2 313.8L710.5 313.8L710.8 313.9L711.0 313.9L711.2 313.9L711.5 314.0L711.8 314.0L712.0 314.0L712.2 314.0L712.5 314.1L712.8 314.1L713.0 314.1L713.2 314.1L713.5 314.1L713.8 314.2L714.0 314.2L714.2 314.2L714.5 314.2L714.8 314.2L715.0 314.2L715.2 314.3L715.5 314.3L715.8 314.3L716.0 314.3L716.2 314.3L716.5 314.3L716.8 314.3L717.0 314.3L717.2 314.2L717.5 314.2L717.8 314.2L718.0 314.1L718.2 314.1L718.5 314.0L718.8 313.9L719.0 313.8L719.2 313.8L719.5 313.7L719.8 313.6L720.0 313.5L720.2 313.5L720.5 313.4L720.8 313.3L721.0 313.2L721.2 313.2L721.5 313.1L721.8 313.1L722.0 313.0L722.2 313.0L722.5 312.9L722.8 312.9L723.0 312.9L723.2 312.9L723.5 312.9L723.8 312.9L724.0 313.0L724.2 313.0L724.5 313.1L724.8 313.1L725.0 313.2L725.2 313.2L725.5 313.3L725.8 313.4L726.0 313.5L726.2 313.5L726.5 313.6L726.8 313.7L727.0 313.8L727.2 313.8L727.5 313.9L727.8 314.0L728.0 314.1L728.2 314.1L728.5 314.2L728.8 314.2L729.0 314.2L729.2 314.3L729.5 314.3L729.8 314.3L730.0 314.3L730.2 314.3L730.5 314.3L730.8 314.2L731.0 314.2L731.2 314.1L731.5 314.0L731.8 314.0L732.0 313.9L732.2 313.8L732.5 313.7L732.8 313.6L733.0 313.5L733.2 313.5L733.5 313.4L733.8 313.3L734.0 313.2L734.2 313.1L734.5 313.0L734.8 312.9L735.0 312.8L735.2 312.8L735.5 312.7L735.8 312.6L736.0 312.6L736.2 312.6L736.5 312.5L736.8 312.5L737.0 312.5L737.2 312.5L737.5 312.5L737.8 312.6L738.0 312.6L738.2 312.7L738.5 312.8L738.8 312.8L739.0 312.9L739.2 313.0L739.5 313.1L739.8 313.2L740.0 313.3L740.2 313.4L740.5 313.5L740.8 313.6L741.0 313.7L741.2 313.8L741.5 313.9L741.8 313.9L742.0 314.0L742.2 314.0L742.5 314.1L742.8 314.1L743.0 314.1L743.2 314.1L743.5 314.1L743.8 314.1L744.0 314.1L744.2 314.1L744.5 314.1L744.8 314.1L745.0 314.1L745.2 314.0L745.5 314.0L745.8 314.0L746.0 314.0L746.2 314.0L746.5 314.0L746.8 313.9L747.0 313.9L747.2 313.9L747.5 313.9L747.8 313.8L748.0 313.8L748.2 313.8L748.5 313.7L748.8 313.7L749.0 313.7L749.2 313.6L749.5 313.6L749.8 313.6L750.0 313.5L750.2 313.4L750.5 313.3L750.8 313.2L751.0 313.0L751.2 312.8L751.5 312.6L751.8 312.4L752.0 312.2L752.2 312.0L752.5 311.8L752.8 311.6L753.0 311.4L753.2 311.2L753.5 311.0L753.8 310.8L754.0 310.7L754.2 310.5L754.5 310.4L754.7 310.3" fill="none" stroke="#00ff00" stroke-width="1.7" stroke-linejoin="round" stroke-dasharray="2.1 0.9"/>
<path d="M453.0 299.7L453.2 314.8L453.5 329.0L453.8 342.3L454.0 354.7L454.2 366.2L454.5 376.8L454.8 386.5L455.0 395.4L455.2 403.3L455.5 410.4L455.8 416.7L456.0 422.0L456.2 426.6L456.5 430.3L456.8 433.1L457.0 435.2L457.2 436.4L457.5 436.8L457.8 435.8L458.0 433.0L458.2 428.8L458.5 423.6L458.8 417.9L459.0 411.9L459.2 406.1L459.5 400.9L459.8 396.7L460.0 393.4L460.2 390.2L460.5 387.2L460.8 384.4L461.0 382.0L461.2 380.0L461.5 378.4L461.8 377.0L462.0 375.7L462.2 374.6L462.5 373.7L462.8 373.1L463.0 372.6L463.2 372.2L463.5 371.8L463.8 371.4L464.0 371.1L464.2 370.8L464.5 370.5L464.8 370.2L465.0 370.0L465.2 369.8L465.5 369.5L465.8 369.3L466.0 369.1L466.2 368.9L466.5 368.7L466.8 368.5L467.0 368.3L467.2 368.2L467.5 368.0L467.8 367.9L468.0 367.8L468.2 367.6L468.5 367.5L468.8 367.4L469.0 367.2L469.2 367.1L469.5 366.9L469.8 366.8L470.0 366.6L470.2 366.4L470.5 366.2L470.8 365.9L471.0 365.7L471.2 365.3L471.5 364.9L471.8 364.4L472.0 363.9L472.2 363.3L472.5 362.8L472.8 362.2L473.0 361.7L473.2 361.1L473.5 360.6L473.8 360.2L474.0 359.8L474.2 359.5L474.5 359.2L474.8 358.9L475.0 358.6L475.2 358.3L475.5 358.0L475.8 357.8L476.0 357.6L476.2 357.5L476.5 357.3L476.8 357.3L477.0 357.4L477.2 357.6L477.5 358.0L477.8 358.6L478.0 359.2L478.2 359.9L478.5 360.7L478.8 361.4L479.0 362.1L479.2 362.8L479.5 363.3L479.8 363.9L480.0 364.6L480.2 365.2L480.5 365.9L480.8 366.7L481.0 367.4L481.2 368.0L481.5 368.7L481.8 369.3L482.0 369.9L482.2 370.4L482.5 370.8L482.8 371.1L483.0 371.3L483.2 371.4L483.5 371.3L483.8 371.1L484.0 370.7L484.2 370.1L484.5 369.5L484.8 368.7L485.0 368.0L485.2 367.2L485.5 366.4L485.8 365.6L486.0 364.9L486.2 364.2L486.5 363.4L486.8 362.6L487.0 361.8L487.2 361.0L487.5 360.2L487.8 359.4L488.0 358.7L488.2 358.0L488.5 357.3L488.8 356.6L489.0 356.0L489.2 355.5L489.5 355.1L489.8 354.8L490.0 354.4L490.2 354.1L490.5 353.8L490.8 353.6L491.0 353.4L491.2 353.2L491.5 353.0L491.8 352.9L492.0 352.9L492.2 352.9L492.5 353.0L492.8 353.1L493.0 353.2L493.2 353.3L493.5 353.5L493.8 353.7L494.0 353.9L494.2 354.1L494.5 354.3L494.8 354.6L495.0 354.8L495.2 355.1L495.5 355.3L495.8 355.6L496.0 355.8L496.2 356.0L496.5 356.3L496.8 356.6L497.0 356.8L497.2 357.1L497.5 357.4L497.8 357.7L498.0 358.0L498.2 358.4L498.5 358.7L498.8 359.0L499.0 359.4L499.2 359.7L499.5 360.1L499.8 360.4L500.0 360.8L500.2 361.2L500.5 361.5L500.8 361.9L501.0 362.3L501.2 362.8L501.5 363.2L501.8 363.6L502.0 364.0L502.2 364.5L502.5 364.9L502.8 365.3L503.0 365.8L503.2 366.2L503.5 366.6L503.8 367.0L504.0 367.4L504.2 367.8L504.5 368.3L504.8 368.7L505.0 369.2L505.2 369.7L505.5 370.1L505.8 370.5L506.0 370.9L506.2 371.1L506.5 371.3L506.8 371.5L507.0 371.6L507.2 371.6L507.5 371.7L507.8 371.8L508.0 371.8L508.2 371.9L508.5 371.9L508.8 372.0L509.0 372.1L509.2 372.1L509.5 372.2L509.8 372.3L510.0 372.4L510.2 372.4L510.5 372.5L510.8 372.5L511.0 372.6L511.2 372.7L511.5 372.7L511.8 372.8L512.0 372.8L512.2 372.8L512.5 372.9L512.8 372.9L513.0 372.9L513.2 372.9L513.5 372.9L513.8 372.9L514.0 372.8L514.2 372.8L514.5 372.7L514.8 372.7L515.0 372.6L515.2 372.5L515.5 372.4L515.8 372.3L516.0 372.2L516.2 372.1L516.5 371.9L516.8 371.8L517.0 371.7L517.2 371.5L517.5 371.4L517.8 371.2L518.0 371.1L518.2 371.0L518.5 370.8L518.8 370.7L519.0 370.5L519.2 370.4L519.5 370.3L519.8 370.2L520.0 370.0L520.2 369.9L520.5 369.8L520.8 369.7L521.0 369.6L521.2 369.6L521.5 369.5L521.8 369.5L522.0 369.4L522.2 369.4L522.5 369.4L522.8 369.4L523.0 369.4L523.2 369.4L523.5 369.5L523.8 369.5L524.0 369.5L524.2 369.6L524.5 369.6L524.8 369.7L525.0 369.7L525.2 369.8L525.5 369.9L525.8 369.9L526.0 370.0L526.2 370.1L526.5 370.2L526.8 370.2L527.0 370.3L527.2 370.4L527.5 370.5L527.8 370.6L528.0 370.7L528.2 370.8L528.5 370.9L528.8 370.9L529.0 371.0L529.2 371.1L529.5 371.2L529.8 371.3L530.0 371.4L530.2 371.6L530.5 371.7L530.8 371.9L531.0 372.0L531.2 372.2L531.5 372.4L531.8 372.6L532.0 372.7L532.2 372.9L532.5 373.1L532.8 373.3L533.0 373.5L533.2 373.7L533.5 373.8L533.8 374.0L534.0 374.2L534.2 374.4L534.5 374.5L534.8 374.7L535.0 374.8L535.2 374.9L535.5 375.0L535.8 375.1L536.0 375.2L536.2 375.3L536.5 375.3L536.8 375.4L537.0 375.4L537.2 375.4L537.5 375.4L537.8 375.4L538.0 375.3L538.2 375.3L538.5 375.2L538.8 375.2L539.0 375.1L539.2 375.0L539.5 375.0L539.8 374.9L540.0 374.8L540.2 374.7L540.5 374.6L540.8 374.5L541.0 374.4L541.2 374.3L541.5 374.2L541.8 374.1L542.0 374.0L542.2 373.9L542.5 373.8L542.8 373.6L543.0 373.5L543.2 373.4L543.5 373.3L543.8 373.1L544.0 373.0L544.2 372.8L544.5 372.7L544.8 372.5L545.0 372.3L545.2 372.1L545.5 372.0L545.8 371.8L546.0 371.6L546.2 371.4L546.5 371.2L546.8 371.0L547.0 370.8L547.2 370.5L547.5 370.3L547.8 370.1L548.0 369.9L548.2 369.7L548.5 369.5L548.8 369.3L549.0 369.1L549.2 369.0L549.5 368.8L549.8 368.6L550.0 368.4L550.2 368.2L550.5 368.0L550.8 367.8L551.0 367.6L551.2 367.3L551.5 367.1L551.8 366.8L552.0 366.5L552.2 366.2L552.5 365.9L552.8 365.6L553.0 365.3L553.2 365.0L553.5 364.7L553.8 364.4L554.0 364.2L554.2 364.0L554.5 363.8L554.8 363.6L555.0 363.5L555.2 363.4L555.5 363.3L555.8 363.3L556.0 363.2L556.2 363.2L556.5 363.1L556.8 363.0L557.0 362.9L557.2 362.8L557.5 362.6L557.8 362.5L558.0 362.3L558.2 362.1L558.5 361.8L558.8 361.6L559.0 361.4L559.2 361.2L559.5 361.0L559.8 360.9L560.0 360.7L560.2 360.7L560.5 360.6L560.8 360.6L561.0 360.6L561.2 360.6L561.5 360.7L561.8 360.7L562.0 360.7L562.2 360.7L562.5 360.7L562.8 360.7L563.0 360.6L563.2 360.4L563.5 360.3L563.8 360.1L564.0 359.9L564.2 359.6L564.5 359.4L564.8 359.1L565.0 358.9L565.2 358.6L565.5 358.4L565.8 358.3L566.0 358.1L566.2 358.0L566.5 357.9L566.8 357.9L567.0 357.8L567.2 357.8L567.5 357.8L567.8 357.8L568.0 357.8L568.2 357.8L568.5 357.7L568.8 357.7L569.0 357.5L569.2 357.4L569.5 357.2L569.8 357.0L570.0 356.8L570.2 356.5L570.5 356.2L570.8 356.0L571.0 355.7L571.2 355.5L571.5 355.3L571.8 355.1L572.0 354.9L572.2 354.8L572.5 354.8L572.8 354.7L573.0 354.7L573.2 354.7L573.5 354.7L573.8 354.7L574.0 354.7L574.2 354.7L574.5 354.7L574.8 354.6L575.0 354.5L575.2 354.3L575.5 354.2L575.8 354.0L576.0 353.8L576.2 353.5L576.5 353.3L576.8 353.0L577.0 352.8L577.2 352.5L577.5 352.3L577.8 352.2L578.0 352.0L578.2 351.9L578.5 351.9L578.8 351.8L579.0 351.8L579.2 351.8L579.5 351.8L579.8 351.8L580.0 351.8L580.2 351.8L580.5 351.7L580.8 351.7L581.0 351.5L581.2 351.4L581.5 351.2L581.8 351.0L582.0 350.8L582.2 350.5L582.5 350.2L582.8 350.0L583.0 349.7L583.2 349.5L583.5 349.2L583.8 349.1L584.0 348.9L584.2 348.8L584.5 348.7L584.8 348.7L585.0 348.6L585.2 348.6L585.5 348.7L585.8 348.7L586.0 348.7L586.2 348.6L586.5 348.6L586.8 348.5L587.0 348.4L587.2 348.3L587.5 348.1L587.8 347.9L588.0 347.7L588.2 347.4L588.5 347.2L588.8 346.9L589.0 346.6L589.2 346.4L589.5 346.2L589.8 346.0L590.0 345.9L590.2 345.8L590.5 345.7L590.8 345.7L591.0 345.7L591.2 345.7L591.5 345.7L591.8 345.8L592.0 345.8L592.2 345.8L592.5 345.8L592.8 345.7L593.0 345.6L593.2 345.5L593.5 345.4L593.8 345.2L594.0 345.0L594.2 344.8L594.5 344.6L594.8 344.4L595.0 344.1L595.2 344.0L595.5 343.8L595.8 343.7L596.0 343.6L596.2 343.5L596.5 343.5L596.8 343.5L597.0 343.5L597.2 343.6L597.5 343.6L597.8 343.7L598.0 343.7L598.2 343.7L598.5 343.8L598.8 343.7L599.0 343.7L599.2 343.6L599.5 343.4L599.8 343.3L600.0 343.1L600.2 342.9L600.5 342.6L600.8 342.4L601.0 342.2L601.2 342.0L601.5 341.9L601.8 341.7L602.0 341.6L602.2 341.6L602.5 341.5L602.8 341.5L603.0 341.6L603.2 341.6L603.5 341.7L603.8 341.7L604.0 341.8L604.2 341.8L604.5 341.8L604.8 341.8L605.0 341.7L605.2 341.6L605.5 341.4L605.8 341.3L606.0 341.1L606.2 340.8L606.5 340.6L606.8 340.4L607.0 340.1L607.2 339.9L607.5 339.7L607.8 339.6L608.0 339.4L608.2 339.3L608.5 339.3L608.8 339.2L609.0 339.2L609.2 339.3L609.5 339.3L609.8 339.3L610.0 339.3L610.2 339.3L610.5 339.3L610.8 339.2L611.0 339.1L611.2 339.0L611.5 338.8L611.8 338.7L612.0 338.4L612.2 338.2L612.5 338.0L612.8 337.7L613.0 337.5L613.2 337.3L613.5 337.2L613.8 337.0L614.0 336.9L614.2 336.9L614.5 336.9L614.8 336.9L615.0 336.9L615.2 337.0L615.5 337.0L615.8 337.1L616.0 337.2L616.2 337.2L616.5 337.2L616.8 337.2L617.0 337.2L617.2 337.1L617.5 337.0L617.8 336.8L618.0 336.6L618.2 336.4L618.5 336.2L618.8 336.0L619.0 335.8L619.2 335.7L619.5 335.5L619.8 335.4L620.0 335.3L620.2 335.3L620.5 335.3L620.8 335.3L621.0 335.4L621.2 335.4L621.5 335.5L621.8 335.6L622.0 335.7L622.2 335.7L622.5 335.8L622.8 335.8L623.0 335.7L623.2 335.6L623.5 335.5L623.8 335.4L624.0 335.2L624.2 335.0L624.5 334.8L624.8 334.6L625.0 334.5L625.2 334.3L625.5 334.1L625.8 334.0L626.0 334.0L626.2 333.9L626.5 333.9L626.8 334.0L627.0 334.0L627.2 334.1L627.5 334.2L627.8 334.3L628.0 334.3L628.2 334.4L628.5 334.4L628.8 334.4L629.0 334.4L629.2 334.3L629.5 334.2L629.8 334.1L630.0 333.9L630.2 333.7L630.5 333.5L630.8 333.3L631.0 333.1L631.2 333.0L631.5 332.8L631.8 332.7L632.0 332.6L632.2 332.6L632.5 332.6L632.8 332.7L633.0 332.7L633.2 332.8L633.5 332.9L633.8 333.0L634.0 333.1L634.2 333.1L634.5 333.2L634.8 333.2L635.0 333.1L635.2 333.1L635.5 333.0L635.8 332.8L636.0 332.7L636.2 332.5L636.5 332.3L636.8 332.1L637.0 331.9L637.2 331.8L637.5 331.6L637.8 331.5L638.0 331.5L638.2 331.4L638.5 331.4L638.8 331.5L639.0 331.6L639.2 331.6L639.5 331.8L639.8 331.9L640.0 331.9L640.2 332.0L640.5 332.1L640.8 332.1L641.0 332.1L641.2 332.0L641.5 331.9L641.8 331.8L642.0 331.6L642.2 331.4L642.5 331.3L642.8 331.1L643.0 330.9L643.2 330.7L643.5 330.6L643.8 330.5L644.0 330.5L644.2 330.4L644.5 330.4L644.8 330.5L645.0 330.6L645.2 330.7L645.5 330.8L645.8 330.9L646.0 331.0L646.2 331.1L646.5 331.1L646.8 331.1L647.0 331.1L647.2 331.1L647.5 331.0L647.8 330.8L648.0 330.7L648.2 330.5L648.5 330.3L648.8 330.2L649.0 330.0L649.2 329.8L649.5 329.7L649.8 329.6L650.0 329.6L650.2 329.6L650.5 329.6L650.8 329.7L651.0 329.7L651.2 329.8L651.5 330.0L651.8 330.1L652.0 330.2L652.2 330.3L652.5 330.3L652.8 330.4L653.0 330.4L653.2 330.3L653.5 330.2L653.8 330.1L654.0 330.0L654.2 329.8L654.5 329.7L654.8 329.5L655.0 329.3L655.2 329.2L655.5 329.1L655.8 329.0L656.0 329.0L656.2 328.9L656.5 329.0L656.8 329.1L657.0 329.2L657.2 329.3L657.5 329.4L657.8 329.5L658.0 329.6L658.2 329.7L658.5 329.8L658.8 329.9L659.0 329.9L659.2 329.8L659.5 329.7L659.8 329.6L660.0 329.5L660.2 329.3L660.5 329.2L660.8 329.0L661.0 328.9L661.2 328.7L661.5 328.6L661.8 328.5L662.0 328.5L662.2 328.5L662.5 328.5L662.8 328.6L663.0 328.7L663.2 328.8L663.5 328.9L663.8 329.1L664.0 329.2L664.2 329.3L664.5 329.4L664.8 329.4L665.0 329.4L665.2 329.4L665.5 329.3L665.8 329.2L666.0 329.0L666.2 328.9L666.5 328.7L666.8 328.5L667.0 328.3L667.2 328.2L667.5 328.1L667.8 328.0L668.0 327.9L668.2 327.9L668.5 328.0L668.8 328.0L669.0 328.1L669.2 328.2L669.5 328.3L669.8 328.5L670.0 328.6L670.2 328.7L670.5 328.7L670.8 328.7L671.0 328.7L671.2 328.7L671.5 328.6L671.8 328.5L672.0 328.3L672.2 328.1L672.5 327.9L672.8 327.8L673.0 327.6L673.2 327.4L673.5 327.3L673.8 327.2L674.0 327.2L674.2 327.1L674.5 327.2L674.8 327.2L675.0 327.3L675.2 327.4L675.5 327.5L675.8 327.7L676.0 327.8L676.2 327.9L676.5 327.9L676.8 328.0L677.0 327.9L677.2 327.9L677.5 327.8L677.8 327.7L678.0 327.5L678.2 327.4L678.5 327.2L678.8 327.0L679.0 326.9L679.2 326.7L679.5 326.6L679.8 326.5L680.0 326.5L680.2 326.5L680.5 326.5L680.8 326.6L681.0 326.7L681.2 326.8L681.5 326.9L681.8 327.1L682.0 327.2L682.2 327.3L682.5 327.3L682.8 327.4L683.0 327.4L683.2 327.3L683.5 327.3L683.8 327.2L684.0 327.0L684.2 326.9L684.5 326.7L684.8 326.5L685.0 326.3L685.2 326.2L685.5 326.1L685.8 326.0L686.0 326.0L686.2 326.0L686.5 326.0L686.8 326.1L687.0 326.2L687.2 326.3L687.5 326.5L687.8 326.6L688.0 326.7L688.2 326.8L688.5 326.9L688.8 326.9L689.0 326.9L689.2 326.9L689.5 326.8L689.8 326.7L690.0 326.6L690.2 326.4L690.5 326.3L690.8 326.1L691.0 325.9L691.2 325.8L691.5 325.7L691.8 325.6L692.0 325.6L692.2 325.6L692.5 325.6L692.8 325.7L693.0 325.8L693.2 325.9L693.5 326.1L693.8 326.2L694.0 326.3L694.2 326.4L694.5 326.5L694.8 326.5L695.0 326.5L695.2 326.5L695.5 326.4L695.8 326.3L696.0 326.2L696.2 326.0L696.5 325.8L696.8 325.7L697.0 325.5L697.2 325.3L697.5 325.2L697.8 325.2L698.0 325.1L698.2 325.1L698.5 325.2L698.8 325.2L699.0 325.3L699.2 325.5L699.5 325.6L699.8 325.7L700.0 325.9L700.2 326.0L700.5 326.0L700.8 326.1L701.0 326.0L701.2 326.0L701.5 325.9L701.8 325.8L702.0 325.7L702.2 325.5L702.5 325.4L702.8 325.2L703.0 325.1L703.2 325.0L703.5 324.9L703.8 324.9L704.0 324.9L704.2 324.9L704.5 324.9L704.8 325.0L705.0 325.0L705.2 325.1L705.5 325.2L705.8 325.3L706.0 325.4L706.2 325.4L706.5 325.5L706.8 325.5L707.0 325.5L707.2 325.4L707.5 325.4L707.8 325.3L708.0 325.3L708.2 325.2L708.5 325.1L708.8 325.0L709.0 325.0L709.2 324.9L709.5 324.9L709.8 324.9L710.0 324.9L710.2 324.9L710.5 324.9L710.8 325.0L711.0 325.0L711.2 325.1L711.5 325.1L711.8 325.1L712.0 325.2L712.2 325.2L712.5 325.2L712.8 325.2L713.0 325.2L713.2 325.2L713.5 325.2L713.8 325.1L714.0 325.1L714.2 325.1L714.5 325.1L714.8 325.1L715.0 325.1L715.2 325.1L715.5 325.1L715.8 325.1L716.0 325.1L716.2 325.1L716.5 325.1L716.8 325.1L717.0 325.1L717.2 325.0L717.5 324.9L717.8 324.9L718.0 324.8L718.2 324.6L718.5 324.5L718.8 324.4L719.0 324.3L719.2 324.1L719.5 324.0L719.8 323.8L720.0 323.7L720.2 323.5L720.5 323.4L720.8 323.3L721.0 323.1L721.2 323.0L721.5 322.9L721.8 322.8L722.0 322.7L722.2 322.6L722.5 322.6L722.8 322.5L723.0 322.5L723.2 322.5L723.5 322.6L723.8 322.6L724.0 322.8L724.2 322.9L724.5 323.1L724.8 323.3L725.0 323.5L725.2 323.7L725.5 323.9L725.8 324.2L726.0 324.4L726.2 324.6L726.5 324.8L726.8 325.0L727.0 325.2L727.2 325.4L727.5 325.5L727.8 325.7L728.0 325.7L728.2 325.8L728.5 325.8L728.8 325.8L729.0 325.7L729.2 325.7L729.5 325.6L729.8 325.5L730.0 325.4L730.2 325.3L730.5 325.1L730.8 325.0L731.0 324.8L731.2 324.6L731.5 324.5L731.8 324.3L732.0 324.1L732.2 323.9L732.5 323.7L732.8 323.5L733.0 323.4L733.2 323.2L733.5 323.0L733.8 322.8L734.0 322.7L734.2 322.5L734.5 322.4L734.8 322.2L735.0 322.1L735.2 322.0L735.5 321.9L735.8 321.9L736.0 321.8L736.2 321.8L736.5 321.8L736.8 321.8L737.0 321.9L737.2 321.9L737.5 322.0L737.8 322.1L738.0 322.2L738.2 322.4L738.5 322.5L738.8 322.6L739.0 322.8L739.2 323.0L739.5 323.1L739.8 323.3L740.0 323.4L740.2 323.6L740.5 323.8L740.8 323.9L741.0 324.1L741.2 324.2L741.5 324.3L741.8 324.4L742.0 324.5L742.2 324.6L742.5 324.7L742.8 324.7L743.0 324.7L743.2 324.7L743.5 324.7L743.8 324.7L744.0 324.7L744.2 324.7L744.5 324.6L744.8 324.6L745.0 324.6L745.2 324.6L745.5 324.6L745.8 324.5L746.0 324.5L746.2 324.5L746.5 324.4L746.8 324.4L747.0 324.3L747.2 324.3L747.5 324.3L747.8 324.2L748.0 324.2L748.2 324.1L748.5 324.1L748.8 324.0L749.0 323.9L749.2 323.9L749.5 323.8L749.8 323.8L750.0 323.7L750.2 323.5L750.5 323.4L750.8 323.2L751.0 323.0L751.2 322.8L751.5 322.6L751.8 322.3L752.0 322.1L752.2 321.8L752.5 321.5L752.8 321.3L753.0 321.0L753.2 320.8L753.5 320.5L753.8 320.3L754.0 320.0L754.2 319.8L754.5 319.6L754.7 319.5" fill="none" stroke="#0000ff" stroke-width="1.7" stroke-linejoin="round" stroke-dasharray="1.15 1.45"/>
<path d="M453.0 299.7L453.2 298.4L453.5 297.5L453.8 296.8L454.0 296.4L454.2 296.2L454.5 296.1L454.8 296.1L455.0 296.3L455.2 297.1L455.5 298.3L455.8 300.0L456.0 302.0L456.2 304.2L456.5 306.7L456.8 309.2L457.0 311.7L457.2 315.0L457.5 319.7L457.8 325.1L458.0 330.9L458.2 336.4L458.5 341.3L458.8 345.0L459.0 346.9L459.2 346.8L459.5 345.2L459.8 342.5L460.0 338.9L460.2 334.8L460.5 330.4L460.8 326.2L461.0 322.4L461.2 319.4L461.5 316.9L461.8 314.4L462.0 311.8L462.2 309.5L462.5 307.5L462.8 306.0L463.0 305.3L463.2 305.2L463.5 305.5L463.8 306.0L464.0 306.6L464.2 307.4L464.5 308.3L464.8 309.1L465.0 310.0L465.2 310.9L465.5 311.7L465.8 312.3L466.0 312.8L466.2 313.1L466.5 313.1L466.8 312.8L467.0 312.2L467.2 311.5L467.5 310.6L467.8 309.6L468.0 308.6L468.2 307.6L468.5 306.8L468.8 306.0L469.0 305.5L469.2 305.2L469.5 305.0L469.8 304.8L470.0 304.6L470.2 304.4L470.5 304.3L470.8 304.1L471.0 304.0L471.2 303.9L471.5 303.8L471.8 303.7L472.0 303.6L472.2 303.5L472.5 303.5L472.8 303.4L473.0 303.4L473.2 303.4L473.5 303.4L473.8 303.5L474.0 303.6L474.2 303.7L474.5 303.9L474.8 304.0L475.0 304.2L475.2 304.5L475.5 304.7L475.8 305.0L476.0 305.3L476.2 305.6L476.5 306.0L476.8 306.3L477.0 306.7L477.2 307.1L477.5 307.5L477.8 307.9L478.0 308.3L478.2 308.8L478.5 309.5L478.8 310.3L479.0 311.2L479.2 312.2L479.5 313.1L479.8 314.1L480.0 315.0L480.2 315.8L480.5 316.9L480.8 318.0L481.0 319.1L481.2 320.2L481.5 321.2L481.8 322.1L482.0 322.6L482.2 322.9L482.5 322.9L482.8 322.7L483.0 322.5L483.2 322.3L483.5 322.0L483.8 321.6L484.0 321.3L484.2 321.0L484.5 320.8L484.8 320.6L485.0 320.4L485.2 320.4L485.5 320.5L485.8 320.6L486.0 320.8L486.2 321.1L486.5 321.3L486.8 321.6L487.0 321.9L487.2 322.1L487.5 322.3L487.8 322.5L488.0 322.5L488.2 322.5L488.5 322.4L488.8 322.3L489.0 322.1L489.2 321.9L489.5 321.8L489.8 321.6L490.0 321.4L490.2 321.3L490.5 321.2L490.8 321.1L491.0 321.1L491.2 321.2L491.5 321.3L491.8 321.6L492.0 321.8L492.2 322.1L492.5 322.3L492.8 322.5L493.0 322.7L493.2 322.9L493.5 322.9L493.8 322.8L494.0 322.5L494.2 322.2L494.5 321.7L494.8 321.3L495.0 320.9L495.2 320.6L495.5 320.4L495.8 320.4L496.0 320.6L496.2 321.0L496.5 321.4L496.8 322.0L497.0 322.5L497.2 323.1L497.5 323.6L497.8 324.1L498.0 324.5L498.2 324.8L498.5 325.0L498.8 325.2L499.0 325.3L499.2 325.5L499.5 325.6L499.8 325.7L500.0 325.7L500.2 325.8L500.5 325.8L500.8 325.8L501.0 325.8L501.2 325.9L501.5 325.9L501.8 326.0L502.0 326.2L502.2 326.5L502.5 326.9L502.8 327.4L503.0 328.0L503.2 328.6L503.5 329.3L503.8 330.0L504.0 330.7L504.2 331.3L504.5 331.9L504.8 332.4L505.0 332.8L505.2 333.0L505.5 333.0L505.8 333.0L506.0 333.0L506.2 332.9L506.5 332.7L506.8 332.6L507.0 332.4L507.2 332.3L507.5 332.3L507.8 332.2L508.0 332.3L508.2 332.4L508.5 332.5L508.8 332.7L509.0 333.0L509.2 333.3L509.5 333.7L509.8 334.0L510.0 334.4L510.2 334.7L510.5 335.0L510.8 335.3L511.0 335.6L511.2 335.7L511.5 335.9L511.8 335.9L512.0 336.0L512.2 336.0L512.5 335.9L512.8 335.9L513.0 335.9L513.2 335.8L513.5 335.8L513.8 335.8L514.0 335.9L514.2 336.0L514.5 336.2L514.8 336.4L515.0 336.6L515.2 336.9L515.5 337.2L515.8 337.4L516.0 337.7L516.2 337.9L516.5 338.1L516.8 338.3L517.0 338.4L517.2 338.4L517.5 338.4L517.8 338.3L518.0 338.2L518.2 338.1L518.5 338.0L518.8 337.8L519.0 337.7L519.2 337.6L519.5 337.6L519.8 337.6L520.0 337.7L520.2 337.8L520.5 337.9L520.8 338.2L521.0 338.4L521.2 338.7L521.5 339.0L521.8 339.3L522.0 339.6L522.2 339.9L522.5 340.1L522.8 340.3L523.0 340.4L523.2 340.5L523.5 340.6L523.8 340.6L524.0 340.5L524.2 340.4L524.5 340.3L524.8 340.3L525.0 340.2L525.2 340.1L525.5 340.1L525.8 340.1L526.0 340.2L526.2 340.4L526.5 340.5L526.8 340.8L527.0 341.0L527.2 341.3L527.5 341.6L527.8 341.9L528.0 342.2L528.2 342.4L528.5 342.6L528.8 342.8L529.0 342.9L529.2 343.0L529.5 343.0L529.8 343.0L530.0 342.9L530.2 342.8L530.5 342.7L530.8 342.6L531.0 342.5L531.2 342.4L531.5 342.4L531.8 342.4L532.0 342.5L532.2 342.6L532.5 342.8L532.8 343.0L533.0 343.3L533.2 343.6L533.5 343.9L533.8 344.2L534.0 344.5L534.2 344.7L534.5 344.9L534.8 345.1L535.0 345.2L535.2 345.3L535.5 345.4L535.8 345.3L536.0 345.3L536.2 345.2L536.5 345.1L536.8 345.1L537.0 345.0L537.2 345.0L537.5 345.0L537.8 345.0L538.0 345.1L538.2 345.3L538.5 345.5L538.8 345.7L539.0 346.0L539.2 346.3L539.5 346.6L539.8 347.0L540.0 347.3L540.2 347.6L540.5 347.9L540.8 348.1L541.0 348.3L541.2 348.5L541.5 348.6L541.8 348.6L542.0 348.7L542.2 348.7L542.5 348.7L542.8 348.7L543.0 348.7L543.2 348.7L543.5 348.8L543.8 349.0L544.0 349.1L544.2 349.3L544.5 349.6L544.8 349.9L545.0 350.3L545.2 350.6L545.5 351.0L545.8 351.4L546.0 351.7L546.2 352.0L546.5 352.3L546.8 352.5L547.0 352.7L547.2 352.8L547.5 352.9L547.8 352.9L548.0 352.9L548.2 352.9L548.5 352.8L548.8 352.8L549.0 352.7L549.2 352.7L549.5 352.7L549.8 352.8L550.0 352.9L550.2 353.0L550.5 353.2L550.8 353.5L551.0 353.8L551.2 354.1L551.5 354.4L551.8 354.7L552.0 355.0L552.2 355.3L552.5 355.6L552.8 355.8L553.0 355.9L553.2 356.0L553.5 356.1L553.8 356.1L554.0 356.1L554.2 356.1L554.5 356.1L554.8 356.1L555.0 356.0L555.2 356.1L555.5 356.1L555.8 356.2L556.0 356.3L556.2 356.5L556.5 356.7L556.8 357.0L557.0 357.3L557.2 357.6L557.5 357.9L557.8 358.3L558.0 358.6L558.2 358.8L558.5 359.1L558.8 359.3L559.0 359.4L559.2 359.5L559.5 359.5L559.8 359.5L560.0 359.4L560.2 359.3L560.5 359.2L560.8 359.0L561.0 358.9L561.2 358.8L561.5 358.8L561.8 358.8L562.0 358.8L562.2 358.9L562.5 359.0L562.8 359.2L563.0 359.4L563.2 359.6L563.5 359.9L563.8 360.1L564.0 360.4L564.2 360.6L564.5 360.8L564.8 360.9L565.0 361.0L565.2 361.1L565.5 361.1L565.8 361.1L566.0 361.0L566.2 360.9L566.5 360.8L566.8 360.7L567.0 360.6L567.2 360.6L567.5 360.6L567.8 360.6L568.0 360.7L568.2 360.8L568.5 360.9L568.8 361.1L569.0 361.4L569.2 361.6L569.5 361.9L569.8 362.2L570.0 362.5L570.2 362.7L570.5 362.9L570.8 363.1L571.0 363.2L571.2 363.2L571.5 363.3L571.8 363.2L572.0 363.2L572.2 363.1L572.5 363.0L572.8 363.0L573.0 362.9L573.2 362.9L573.5 362.9L573.8 362.9L574.0 363.0L574.2 363.1L574.5 363.3L574.8 363.5L575.0 363.7L575.2 364.0L575.5 364.2L575.8 364.5L576.0 364.8L576.2 365.0L576.5 365.2L576.8 365.4L577.0 365.5L577.2 365.6L577.5 365.6L577.8 365.6L578.0 365.6L578.2 365.5L578.5 365.4L578.8 365.4L579.0 365.3L579.2 365.3L579.5 365.3L579.8 365.3L580.0 365.4L580.2 365.5L580.5 365.6L580.8 365.8L581.0 366.0L581.2 366.2L581.5 366.4L581.8 366.6L582.0 366.8L582.2 367.0L582.5 367.1L582.8 367.2L583.0 367.3L583.2 367.4L583.5 367.4L583.8 367.4L584.0 367.3L584.2 367.3L584.5 367.2L584.8 367.1L585.0 367.1L585.2 367.1L585.5 367.1L585.8 367.1L586.0 367.2L586.2 367.3L586.5 367.5L586.8 367.7L587.0 367.9L587.2 368.2L587.5 368.5L587.8 368.8L588.0 369.1L588.2 369.3L588.5 369.6L588.8 369.8L589.0 370.0L589.2 370.2L589.5 370.4L589.8 370.5L590.0 370.6L590.2 370.7L590.5 370.8L590.8 370.9L591.0 370.9L591.2 371.1L591.5 371.2L591.8 371.3L592.0 371.5L592.2 371.7L592.5 371.9L592.8 372.2L593.0 372.4L593.2 372.7L593.5 372.9L593.8 373.2L594.0 373.5L594.2 373.7L594.5 373.9L594.8 374.1L595.0 374.3L595.2 374.4L595.5 374.5L595.8 374.6L596.0 374.7L596.2 374.7L596.5 374.7L596.8 374.8L597.0 374.8L597.2 374.9L597.5 375.0L597.8 375.1L598.0 375.2L598.2 375.4L598.5 375.6L598.8 375.8L599.0 376.0L599.2 376.2L599.5 376.5L599.8 376.7L600.0 376.9L600.2 377.1L600.5 377.3L600.8 377.5L601.0 377.7L601.2 377.8L601.5 378.0L601.8 378.1L602.0 378.1L602.2 378.2L602.5 378.3L602.8 378.3L603.0 378.4L603.2 378.5L603.5 378.5L603.8 378.7L604.0 378.8L604.2 378.9L604.5 379.1L604.8 379.3L605.0 379.5L605.2 379.7L605.5 379.9L605.8 380.1L606.0 380.3L606.2 380.5L606.5 380.7L606.8 380.8L607.0 380.9L607.2 381.0L607.5 381.1L607.8 381.1L608.0 381.2L608.2 381.2L608.5 381.2L608.8 381.2L609.0 381.2L609.2 381.2L609.5 381.2L609.8 381.3L610.0 381.3L610.2 381.3L610.5 381.4L610.8 381.5L611.0 381.5L611.2 381.6L611.5 381.7L611.8 381.8L612.0 381.9L612.2 381.9L612.5 382.0L612.8 382.0L613.0 382.0L613.2 382.0L613.5 382.0L613.8 381.9L614.0 381.8L614.2 381.7L614.5 381.6L614.8 381.5L615.0 381.5L615.2 381.4L615.5 381.3L615.8 381.3L616.0 381.2L616.2 381.2L616.5 381.3L616.8 381.3L617.0 381.4L617.2 381.4L617.5 381.5L617.8 381.6L618.0 381.7L618.2 381.7L618.5 381.8L618.8 381.8L619.0 381.8L619.2 381.8L619.5 381.7L619.8 381.6L620.0 381.6L620.2 381.5L620.5 381.4L620.8 381.2L621.0 381.1L621.2 381.0L621.5 381.0L621.8 380.9L622.0 380.9L622.2 380.8L622.5 380.8L622.8 380.9L623.0 380.9L623.2 380.9L623.5 381.0L623.8 381.0L624.0 381.0L624.2 381.1L624.5 381.1L624.8 381.1L625.0 381.0L625.2 381.0L625.5 380.9L625.8 380.8L626.0 380.7L626.2 380.5L626.5 380.4L626.8 380.3L627.0 380.1L627.2 380.0L627.5 379.9L627.8 379.8L628.0 379.7L628.2 379.6L628.5 379.6L628.8 379.6L629.0 379.5L629.2 379.5L629.5 379.5L629.8 379.5L630.0 379.5L630.2 379.5L630.5 379.5L630.8 379.4L631.0 379.3L631.2 379.2L631.5 379.1L631.8 379.0L632.0 378.8L632.2 378.6L632.5 378.4L632.8 378.3L633.0 378.1L633.2 377.9L633.5 377.8L633.8 377.7L634.0 377.6L634.2 377.5L634.5 377.4L634.8 377.4L635.0 377.4L635.2 377.4L635.5 377.4L635.8 377.5L636.0 377.5L636.2 377.5L636.5 377.5L636.8 377.5L637.0 377.4L637.2 377.4L637.5 377.3L637.8 377.2L638.0 377.1L638.2 377.0L638.5 376.9L638.8 376.8L639.0 376.7L639.2 376.6L639.5 376.5L639.8 376.4L640.0 376.4L640.2 376.4L640.5 376.4L640.8 376.4L641.0 376.4L641.2 376.5L641.5 376.6L641.8 376.6L642.0 376.7L642.2 376.7L642.5 376.8L642.8 376.8L643.0 376.7L643.2 376.7L643.5 376.7L643.8 376.6L644.0 376.5L644.2 376.4L644.5 376.3L644.8 376.2L645.0 376.1L645.2 376.0L645.5 375.9L645.8 375.8L646.0 375.8L646.2 375.8L646.5 375.8L646.8 375.8L647.0 375.9L647.2 375.9L647.5 376.0L647.8 376.1L648.0 376.1L648.2 376.2L648.5 376.2L648.8 376.2L649.0 376.2L649.2 376.1L649.5 376.1L649.8 376.0L650.0 375.9L650.2 375.8L650.5 375.7L650.8 375.6L651.0 375.5L651.2 375.4L651.5 375.4L651.8 375.3L652.0 375.3L652.2 375.3L652.5 375.3L652.8 375.3L653.0 375.4L653.2 375.4L653.5 375.5L653.8 375.5L654.0 375.6L654.2 375.6L654.5 375.7L654.8 375.7L655.0 375.7L655.2 375.6L655.5 375.6L655.8 375.5L656.0 375.4L656.2 375.3L656.5 375.2L656.8 375.1L657.0 375.0L657.2 374.9L657.5 374.8L657.8 374.7L658.0 374.7L658.2 374.7L658.5 374.7L658.8 374.7L659.0 374.7L659.2 374.8L659.5 374.8L659.8 374.9L660.0 374.9L660.2 374.9L660.5 374.9L660.8 374.9L661.0 374.9L661.2 374.8L661.5 374.7L661.8 374.6L662.0 374.5L662.2 374.4L662.5 374.3L662.8 374.1L663.0 374.0L663.2 373.9L663.5 373.7L663.8 373.6L664.0 373.6L664.2 373.5L664.5 373.5L664.8 373.5L665.0 373.5L665.2 373.5L665.5 373.5L665.8 373.5L666.0 373.5L666.2 373.5L666.5 373.5L666.8 373.4L667.0 373.4L667.2 373.3L667.5 373.2L667.8 373.1L668.0 372.9L668.2 372.8L668.5 372.6L668.8 372.5L669.0 372.3L669.2 372.2L669.5 372.1L669.8 372.0L670.0 371.9L670.2 371.8L670.5 371.8L670.8 371.7L671.0 371.7L671.2 371.8L671.5 371.8L671.8 371.8L672.0 371.8L672.2 371.8L672.5 371.8L672.8 371.7L673.0 371.7L673.2 371.6L673.5 371.5L673.8 371.4L674.0 371.3L674.2 371.2L674.5 371.0L674.8 370.9L675.0 370.8L675.2 370.7L675.5 370.5L675.8 370.5L676.0 370.4L676.2 370.4L676.5 370.3L676.8 370.3L677.0 370.3L677.2 370.4L677.5 370.4L677.8 370.4L678.0 370.4L678.2 370.4L678.5 370.4L678.8 370.3L679.0 370.3L679.2 370.2L679.5 370.1L679.8 369.9L680.0 369.8L680.2 369.6L680.5 369.3L680.8 369.1L681.0 368.9L681.2 368.7L681.5 368.5L681.8 368.3L682.0 368.1L682.2 367.9L682.5 367.8L682.8 367.7L683.0 367.6L683.2 367.6L683.5 367.5L683.8 367.5L684.0 367.5L684.2 367.4L684.5 367.4L684.8 367.4L685.0 367.4L685.2 367.3L685.5 367.3L685.8 367.2L686.0 367.1L686.2 367.0L686.5 366.9L686.8 366.9L687.0 366.8L687.2 366.7L687.5 366.6L687.8 366.6L688.0 366.6L688.2 366.6L688.5 366.6L688.8 366.6L689.0 366.7L689.2 366.7L689.5 366.8L689.8 366.9L690.0 367.0L690.2 367.0L690.5 367.0L690.8 367.1L691.0 367.1L691.2 367.0L691.5 367.0L691.8 366.9L692.0 366.8L692.2 366.7L692.5 366.6L692.8 366.5L693.0 366.4L693.2 366.3L693.5 366.2L693.8 366.1L694.0 366.0L694.2 365.9L694.5 365.8L694.8 365.7L695.0 365.6L695.2 365.5L695.5 365.5L695.8 365.4L696.0 365.3L696.2 365.2L696.5 365.0L696.8 364.9L697.0 364.7L697.2 364.5L697.5 364.3L697.8 364.1L698.0 363.9L698.2 363.6L698.5 363.4L698.8 363.2L699.0 363.0L699.2 362.8L699.5 362.6L699.8 362.5L700.0 362.4L700.2 362.3L700.5 362.3L700.8 362.3L701.0 362.3L701.2 362.3L701.5 362.3L701.8 362.3L702.0 362.4L702.2 362.4L702.5 362.3L702.8 362.3L703.0 362.3L703.2 362.2L703.5 362.1L703.8 362.1L704.0 362.0L704.2 361.9L704.5 361.8L704.8 361.7L705.0 361.6L705.2 361.6L705.5 361.5L705.8 361.5L706.0 361.4L706.2 361.4L706.5 361.4L706.8 361.4L707.0 361.4L707.2 361.4L707.5 361.4L707.8 361.4L708.0 361.4L708.2 361.4L708.5 361.4L708.8 361.3L709.0 361.3L709.2 361.3L709.5 361.3L709.8 361.2L710.0 361.2L710.2 361.2L710.5 361.1L710.8 361.1L711.0 361.1L711.2 361.1L711.5 361.1L711.8 361.1L712.0 361.1L712.2 361.1L712.5 361.1L712.8 361.1L713.0 361.2L713.2 361.4L713.5 361.5L713.8 361.7L714.0 362.0L714.2 362.2L714.5 362.4L714.8 362.6L715.0 362.8L715.2 363.0L715.5 363.1L715.8 363.1L716.0 363.1L716.2 363.0L716.5 362.9L716.8 362.8L717.0 362.7L717.2 362.5L717.5 362.3L717.8 362.1L718.0 361.8L718.2 361.6L718.5 361.3L718.8 361.0L719.0 360.7L719.2 360.4L719.5 360.1L719.8 359.8L720.0 359.5L720.2 359.2L720.5 358.9L720.8 358.6L721.0 358.4L721.2 358.1L721.5 357.9L721.8 357.7L722.0 357.6L722.2 357.4L722.5 357.3L722.8 357.2L723.0 357.2L723.2 357.2L723.5 357.3L723.8 357.5L724.0 357.7L724.2 358.0L724.5 358.3L724.8 358.6L725.0 359.0L725.2 359.4L725.5 359.7L725.8 360.1L726.0 360.4L726.2 360.6L726.5 360.9L726.8 361.0L727.0 361.1L727.2 361.1L727.5 360.9L727.8 360.7L728.0 360.4L728.2 360.0L728.5 359.6L728.8 359.2L729.0 358.7L729.2 358.3L729.5 357.9L729.8 357.6L730.0 357.4L730.2 357.2L730.5 357.2L730.8 357.3L731.0 357.5L731.2 357.7L731.5 358.1L731.8 358.4L732.0 358.8L732.2 359.1L732.5 359.5L732.8 359.8L733.0 360.1L733.2 360.3L733.5 360.5L733.8 360.5L734.0 360.3L734.2 359.9L734.5 359.3L734.8 358.6L735.0 357.8L735.2 356.9L735.5 356.0L735.8 355.1L736.0 354.3L736.2 353.6L736.5 353.0L736.8 352.6L737.0 352.5L737.2 352.5L737.5 352.7L737.8 352.9L738.0 353.1L738.2 353.4L738.5 353.8L738.8 354.2L739.0 354.6L739.2 355.0L739.5 355.4L739.8 355.8L740.0 356.2L740.2 356.6L740.5 356.9L740.8 357.2L741.0 357.5L741.2 357.7L741.5 357.8L741.8 357.8L742.0 357.8L742.2 357.7L742.5 357.6L742.8 357.5L743.0 357.4L743.2 357.3L743.5 357.1L743.8 356.9L744.0 356.8L744.2 356.6L744.5 356.4L744.8 356.2L745.0 356.0L745.2 355.9L745.5 355.7L745.8 355.6L746.0 355.4L746.2 355.3L746.5 355.3L746.8 355.2L747.0 355.2L747.2 355.2L747.5 355.3L747.8 355.4L748.0 355.5L748.2 355.6L748.5 355.8L748.8 355.9L749.0 356.1L749.2 356.2L749.5 356.3L749.8 356.4L750.0 356.5L750.2 356.5L750.5 356.4L750.8 356.2L751.0 355.8L751.2 355.2L751.5 354.5L751.8 353.8L752.0 352.9L752.2 352.0L752.5 351.1L752.8 350.2L753.0 349.3L753.2 348.4L753.5 347.7L753.8 347.0L754.0 346.4L754.2 346.0L754.5 345.7L754.7 345.5" fill="none" stroke="#ff00ff" stroke-width="1.4" stroke-linejoin="round" stroke-opacity="0.52"/><path d="M453.0 299.7L453.2 298.4L453.5 297.5L453.8 296.8L454.0 296.4L454.2 296.2L454.5 296.1L454.8 296.1L455.0 296.3L455.2 297.1L455.5 298.3L455.8 300.0L456.0 302.0L456.2 304.2L456.5 306.7L456.8 309.2L457.0 311.7L457.2 315.0L457.5 319.7L457.8 325.1L458.0 330.9L458.2 336.4L458.5 341.3L458.8 345.0L459.0 346.9L459.2 346.8L459.5 345.2L459.8 342.5L460.0 338.9L460.2 334.8L460.5 330.4L460.8 326.2L461.0 322.4L461.2 319.4L461.5 316.9L461.8 314.4L462.0 311.8L462.2 309.5L462.5 307.5L462.8 306.0L463.0 305.3L463.2 305.2L463.5 305.5L463.8 306.0L464.0 306.6L464.2 307.4L464.5 308.3L464.8 309.1L465.0 310.0L465.2 310.9L465.5 311.7L465.8 312.3L466.0 312.8L466.2 313.1L466.5 313.1L466.8 312.8L467.0 312.2L467.2 311.5L467.5 310.6L467.8 309.6L468.0 308.6L468.2 307.6L468.5 306.8L468.8 306.0L469.0 305.5L469.2 305.2L469.5 305.0L469.8 304.8L470.0 304.6L470.2 304.4L470.5 304.3L470.8 304.1L471.0 304.0L471.2 303.9L471.5 303.8L471.8 303.7L472.0 303.6L472.2 303.5L472.5 303.5L472.8 303.4L473.0 303.4L473.2 303.4L473.5 303.4L473.8 303.5L474.0 303.6L474.2 303.7L474.5 303.9L474.8 304.0L475.0 304.2L475.2 304.5L475.5 304.7L475.8 305.0L476.0 305.3L476.2 305.6L476.5 306.0L476.8 306.3L477.0 306.7L477.2 307.1L477.5 307.5L477.8 307.9L478.0 308.3L478.2 308.8L478.5 309.5L478.8 310.3L479.0 311.2L479.2 312.2L479.5 313.1L479.8 314.1L480.0 315.0L480.2 315.8L480.5 316.9L480.8 318.0L481.0 319.1L481.2 320.2L481.5 321.2L481.8 322.1L482.0 322.6L482.2 322.9L482.5 322.9L482.8 322.7L483.0 322.5L483.2 322.3L483.5 322.0L483.8 321.6L484.0 321.3L484.2 321.0L484.5 320.8L484.8 320.6L485.0 320.4L485.2 320.4L485.5 320.5L485.8 320.6L486.0 320.8L486.2 321.1L486.5 321.3L486.8 321.6L487.0 321.9L487.2 322.1L487.5 322.3L487.8 322.5L488.0 322.5L488.2 322.5L488.5 322.4L488.8 322.3L489.0 322.1L489.2 321.9L489.5 321.8L489.8 321.6L490.0 321.4L490.2 321.3L490.5 321.2L490.8 321.1L491.0 321.1L491.2 321.2L491.5 321.3L491.8 321.6L492.0 321.8L492.2 322.1L492.5 322.3L492.8 322.5L493.0 322.7L493.2 322.9L493.5 322.9L493.8 322.8L494.0 322.5L494.2 322.2L494.5 321.7L494.8 321.3L495.0 320.9L495.2 320.6L495.5 320.4L495.8 320.4L496.0 320.6L496.2 321.0L496.5 321.4L496.8 322.0L497.0 322.5L497.2 323.1L497.5 323.6L497.8 324.1L498.0 324.5L498.2 324.8L498.5 325.0L498.8 325.2L499.0 325.3L499.2 325.5L499.5 325.6L499.8 325.7L500.0 325.7L500.2 325.8L500.5 325.8L500.8 325.8L501.0 325.8L501.2 325.9L501.5 325.9L501.8 326.0L502.0 326.2L502.2 326.5L502.5 326.9L502.8 327.4L503.0 328.0L503.2 328.6L503.5 329.3L503.8 330.0L504.0 330.7L504.2 331.3L504.5 331.9L504.8 332.4L505.0 332.8L505.2 333.0L505.5 333.0L505.8 333.0L506.0 333.0L506.2 332.9L506.5 332.7L506.8 332.6L507.0 332.4L507.2 332.3L507.5 332.3L507.8 332.2L508.0 332.3L508.2 332.4L508.5 332.5L508.8 332.7L509.0 333.0L509.2 333.3L509.5 333.7L509.8 334.0L510.0 334.4L510.2 334.7L510.5 335.0L510.8 335.3L511.0 335.6L511.2 335.7L511.5 335.9L511.8 335.9L512.0 336.0L512.2 336.0L512.5 335.9L512.8 335.9L513.0 335.9L513.2 335.8L513.5 335.8L513.8 335.8L514.0 335.9L514.2 336.0L514.5 336.2L514.8 336.4L515.0 336.6L515.2 336.9L515.5 337.2L515.8 337.4L516.0 337.7L516.2 337.9L516.5 338.1L516.8 338.3L517.0 338.4L517.2 338.4L517.5 338.4L517.8 338.3L518.0 338.2L518.2 338.1L518.5 338.0L518.8 337.8L519.0 337.7L519.2 337.6L519.5 337.6L519.8 337.6L520.0 337.7L520.2 337.8L520.5 337.9L520.8 338.2L521.0 338.4L521.2 338.7L521.5 339.0L521.8 339.3L522.0 339.6L522.2 339.9L522.5 340.1L522.8 340.3L523.0 340.4L523.2 340.5L523.5 340.6L523.8 340.6L524.0 340.5L524.2 340.4L524.5 340.3L524.8 340.3L525.0 340.2L525.2 340.1L525.5 340.1L525.8 340.1L526.0 340.2L526.2 340.4L526.5 340.5L526.8 340.8L527.0 341.0L527.2 341.3L527.5 341.6L527.8 341.9L528.0 342.2L528.2 342.4L528.5 342.6L528.8 342.8L529.0 342.9L529.2 343.0L529.5 343.0L529.8 343.0L530.0 342.9L530.2 342.8L530.5 342.7L530.8 342.6L531.0 342.5L531.2 342.4L531.5 342.4L531.8 342.4L532.0 342.5L532.2 342.6L532.5 342.8L532.8 343.0L533.0 343.3L533.2 343.6L533.5 343.9L533.8 344.2L534.0 344.5L534.2 344.7L534.5 344.9L534.8 345.1L535.0 345.2L535.2 345.3L535.5 345.4L535.8 345.3L536.0 345.3L536.2 345.2L536.5 345.1L536.8 345.1L537.0 345.0L537.2 345.0L537.5 345.0L537.8 345.0L538.0 345.1L538.2 345.3L538.5 345.5L538.8 345.7L539.0 346.0L539.2 346.3L539.5 346.6L539.8 347.0L540.0 347.3L540.2 347.6L540.5 347.9L540.8 348.1L541.0 348.3L541.2 348.5L541.5 348.6L541.8 348.6L542.0 348.7L542.2 348.7L542.5 348.7L542.8 348.7L543.0 348.7L543.2 348.7L543.5 348.8L543.8 349.0L544.0 349.1L544.2 349.3L544.5 349.6L544.8 349.9L545.0 350.3L545.2 350.6L545.5 351.0L545.8 351.4L546.0 351.7L546.2 352.0L546.5 352.3L546.8 352.5L547.0 352.7L547.2 352.8L547.5 352.9L547.8 352.9L548.0 352.9L548.2 352.9L548.5 352.8L548.8 352.8L549.0 352.7L549.2 352.7L549.5 352.7L549.8 352.8L550.0 352.9L550.2 353.0L550.5 353.2L550.8 353.5L551.0 353.8L551.2 354.1L551.5 354.4L551.8 354.7L552.0 355.0L552.2 355.3L552.5 355.6L552.8 355.8L553.0 355.9L553.2 356.0L553.5 356.1L553.8 356.1L554.0 356.1L554.2 356.1L554.5 356.1L554.8 356.1L555.0 356.0L555.2 356.1L555.5 356.1L555.8 356.2L556.0 356.3L556.2 356.5L556.5 356.7L556.8 357.0L557.0 357.3L557.2 357.6L557.5 357.9L557.8 358.3L558.0 358.6L558.2 358.8L558.5 359.1L558.8 359.3L559.0 359.4L559.2 359.5L559.5 359.5L559.8 359.5L560.0 359.4L560.2 359.3L560.5 359.2L560.8 359.0L561.0 358.9L561.2 358.8L561.5 358.8L561.8 358.8L562.0 358.8L562.2 358.9L562.5 359.0L562.8 359.2L563.0 359.4L563.2 359.6L563.5 359.9L563.8 360.1L564.0 360.4L564.2 360.6L564.5 360.8L564.8 360.9L565.0 361.0L565.2 361.1L565.5 361.1L565.8 361.1L566.0 361.0L566.2 360.9L566.5 360.8L566.8 360.7L567.0 360.6L567.2 360.6L567.5 360.6L567.8 360.6L568.0 360.7L568.2 360.8L568.5 360.9L568.8 361.1L569.0 361.4L569.2 361.6L569.5 361.9L569.8 362.2L570.0 362.5L570.2 362.7L570.5 362.9L570.8 363.1L571.0 363.2L571.2 363.2L571.5 363.3L571.8 363.2L572.0 363.2L572.2 363.1L572.5 363.0L572.8 363.0L573.0 362.9L573.2 362.9L573.5 362.9L573.8 362.9L574.0 363.0L574.2 363.1L574.5 363.3L574.8 363.5L575.0 363.7L575.2 364.0L575.5 364.2L575.8 364.5L576.0 364.8L576.2 365.0L576.5 365.2L576.8 365.4L577.0 365.5L577.2 365.6L577.5 365.6L577.8 365.6L578.0 365.6L578.2 365.5L578.5 365.4L578.8 365.4L579.0 365.3L579.2 365.3L579.5 365.3L579.8 365.3L580.0 365.4L580.2 365.5L580.5 365.6L580.8 365.8L581.0 366.0L581.2 366.2L581.5 366.4L581.8 366.6L582.0 366.8L582.2 367.0L582.5 367.1L582.8 367.2L583.0 367.3L583.2 367.4L583.5 367.4L583.8 367.4L584.0 367.3L584.2 367.3L584.5 367.2L584.8 367.1L585.0 367.1L585.2 367.1L585.5 367.1L585.8 367.1L586.0 367.2L586.2 367.3L586.5 367.5L586.8 367.7L587.0 367.9L587.2 368.2L587.5 368.5L587.8 368.8L588.0 369.1L588.2 369.3L588.5 369.6L588.8 369.8L589.0 370.0L589.2 370.2L589.5 370.4L589.8 370.5L590.0 370.6L590.2 370.7L590.5 370.8L590.8 370.9L591.0 370.9L591.2 371.1L591.5 371.2L591.8 371.3L592.0 371.5L592.2 371.7L592.5 371.9L592.8 372.2L593.0 372.4L593.2 372.7L593.5 372.9L593.8 373.2L594.0 373.5L594.2 373.7L594.5 373.9L594.8 374.1L595.0 374.3L595.2 374.4L595.5 374.5L595.8 374.6L596.0 374.7L596.2 374.7L596.5 374.7L596.8 374.8L597.0 374.8L597.2 374.9L597.5 375.0L597.8 375.1L598.0 375.2L598.2 375.4L598.5 375.6L598.8 375.8L599.0 376.0L599.2 376.2L599.5 376.5L599.8 376.7L600.0 376.9L600.2 377.1L600.5 377.3L600.8 377.5L601.0 377.7L601.2 377.8L601.5 378.0L601.8 378.1L602.0 378.1L602.2 378.2L602.5 378.3L602.8 378.3L603.0 378.4L603.2 378.5L603.5 378.5L603.8 378.7L604.0 378.8L604.2 378.9L604.5 379.1L604.8 379.3L605.0 379.5L605.2 379.7L605.5 379.9L605.8 380.1L606.0 380.3L606.2 380.5L606.5 380.7L606.8 380.8L607.0 380.9L607.2 381.0L607.5 381.1L607.8 381.1L608.0 381.2L608.2 381.2L608.5 381.2L608.8 381.2L609.0 381.2L609.2 381.2L609.5 381.2L609.8 381.3L610.0 381.3L610.2 381.3L610.5 381.4L610.8 381.5L611.0 381.5L611.2 381.6L611.5 381.7L611.8 381.8L612.0 381.9L612.2 381.9L612.5 382.0L612.8 382.0L613.0 382.0L613.2 382.0L613.5 382.0L613.8 381.9L614.0 381.8L614.2 381.7L614.5 381.6L614.8 381.5L615.0 381.5L615.2 381.4L615.5 381.3L615.8 381.3L616.0 381.2L616.2 381.2L616.5 381.3L616.8 381.3L617.0 381.4L617.2 381.4L617.5 381.5L617.8 381.6L618.0 381.7L618.2 381.7L618.5 381.8L618.8 381.8L619.0 381.8L619.2 381.8L619.5 381.7L619.8 381.6L620.0 381.6L620.2 381.5L620.5 381.4L620.8 381.2L621.0 381.1L621.2 381.0L621.5 381.0L621.8 380.9L622.0 380.9L622.2 380.8L622.5 380.8L622.8 380.9L623.0 380.9L623.2 380.9L623.5 381.0L623.8 381.0L624.0 381.0L624.2 381.1L624.5 381.1L624.8 381.1L625.0 381.0L625.2 381.0L625.5 380.9L625.8 380.8L626.0 380.7L626.2 380.5L626.5 380.4L626.8 380.3L627.0 380.1L627.2 380.0L627.5 379.9L627.8 379.8L628.0 379.7L628.2 379.6L628.5 379.6L628.8 379.6L629.0 379.5L629.2 379.5L629.5 379.5L629.8 379.5L630.0 379.5L630.2 379.5L630.5 379.5L630.8 379.4L631.0 379.3L631.2 379.2L631.5 379.1L631.8 379.0L632.0 378.8L632.2 378.6L632.5 378.4L632.8 378.3L633.0 378.1L633.2 377.9L633.5 377.8L633.8 377.7L634.0 377.6L634.2 377.5L634.5 377.4L634.8 377.4L635.0 377.4L635.2 377.4L635.5 377.4L635.8 377.5L636.0 377.5L636.2 377.5L636.5 377.5L636.8 377.5L637.0 377.4L637.2 377.4L637.5 377.3L637.8 377.2L638.0 377.1L638.2 377.0L638.5 376.9L638.8 376.8L639.0 376.7L639.2 376.6L639.5 376.5L639.8 376.4L640.0 376.4L640.2 376.4L640.5 376.4L640.8 376.4L641.0 376.4L641.2 376.5L641.5 376.6L641.8 376.6L642.0 376.7L642.2 376.7L642.5 376.8L642.8 376.8L643.0 376.7L643.2 376.7L643.5 376.7L643.8 376.6L644.0 376.5L644.2 376.4L644.5 376.3L644.8 376.2L645.0 376.1L645.2 376.0L645.5 375.9L645.8 375.8L646.0 375.8L646.2 375.8L646.5 375.8L646.8 375.8L647.0 375.9L647.2 375.9L647.5 376.0L647.8 376.1L648.0 376.1L648.2 376.2L648.5 376.2L648.8 376.2L649.0 376.2L649.2 376.1L649.5 376.1L649.8 376.0L650.0 375.9L650.2 375.8L650.5 375.7L650.8 375.6L651.0 375.5L651.2 375.4L651.5 375.4L651.8 375.3L652.0 375.3L652.2 375.3L652.5 375.3L652.8 375.3L653.0 375.4L653.2 375.4L653.5 375.5L653.8 375.5L654.0 375.6L654.2 375.6L654.5 375.7L654.8 375.7L655.0 375.7L655.2 375.6L655.5 375.6L655.8 375.5L656.0 375.4L656.2 375.3L656.5 375.2L656.8 375.1L657.0 375.0L657.2 374.9L657.5 374.8L657.8 374.7L658.0 374.7L658.2 374.7L658.5 374.7L658.8 374.7L659.0 374.7L659.2 374.8L659.5 374.8L659.8 374.9L660.0 374.9L660.2 374.9L660.5 374.9L660.8 374.9L661.0 374.9L661.2 374.8L661.5 374.7L661.8 374.6L662.0 374.5L662.2 374.4L662.5 374.3L662.8 374.1L663.0 374.0L663.2 373.9L663.5 373.7L663.8 373.6L664.0 373.6L664.2 373.5L664.5 373.5L664.8 373.5L665.0 373.5L665.2 373.5L665.5 373.5L665.8 373.5L666.0 373.5L666.2 373.5L666.5 373.5L666.8 373.4L667.0 373.4L667.2 373.3L667.5 373.2L667.8 373.1L668.0 372.9L668.2 372.8L668.5 372.6L668.8 372.5L669.0 372.3L669.2 372.2L669.5 372.1L669.8 372.0L670.0 371.9L670.2 371.8L670.5 371.8L670.8 371.7L671.0 371.7L671.2 371.8L671.5 371.8L671.8 371.8L672.0 371.8L672.2 371.8L672.5 371.8L672.8 371.7L673.0 371.7L673.2 371.6L673.5 371.5L673.8 371.4L674.0 371.3L674.2 371.2L674.5 371.0L674.8 370.9L675.0 370.8L675.2 370.7L675.5 370.5L675.8 370.5L676.0 370.4L676.2 370.4L676.5 370.3L676.8 370.3L677.0 370.3L677.2 370.4L677.5 370.4L677.8 370.4L678.0 370.4L678.2 370.4L678.5 370.4L678.8 370.3L679.0 370.3L679.2 370.2L679.5 370.1L679.8 369.9L680.0 369.8L680.2 369.6L680.5 369.3L680.8 369.1L681.0 368.9L681.2 368.7L681.5 368.5L681.8 368.3L682.0 368.1L682.2 367.9L682.5 367.8L682.8 367.7L683.0 367.6L683.2 367.6L683.5 367.5L683.8 367.5L684.0 367.5L684.2 367.4L684.5 367.4L684.8 367.4L685.0 367.4L685.2 367.3L685.5 367.3L685.8 367.2L686.0 367.1L686.2 367.0L686.5 366.9L686.8 366.9L687.0 366.8L687.2 366.7L687.5 366.6L687.8 366.6L688.0 366.6L688.2 366.6L688.5 366.6L688.8 366.6L689.0 366.7L689.2 366.7L689.5 366.8L689.8 366.9L690.0 367.0L690.2 367.0L690.5 367.0L690.8 367.1L691.0 367.1L691.2 367.0L691.5 367.0L691.8 366.9L692.0 366.8L692.2 366.7L692.5 366.6L692.8 366.5L693.0 366.4L693.2 366.3L693.5 366.2L693.8 366.1L694.0 366.0L694.2 365.9L694.5 365.8L694.8 365.7L695.0 365.6L695.2 365.5L695.5 365.5L695.8 365.4L696.0 365.3L696.2 365.2L696.5 365.0L696.8 364.9L697.0 364.7L697.2 364.5L697.5 364.3L697.8 364.1L698.0 363.9L698.2 363.6L698.5 363.4L698.8 363.2L699.0 363.0L699.2 362.8L699.5 362.6L699.8 362.5L700.0 362.4L700.2 362.3L700.5 362.3L700.8 362.3L701.0 362.3L701.2 362.3L701.5 362.3L701.8 362.3L702.0 362.4L702.2 362.4L702.5 362.3L702.8 362.3L703.0 362.3L703.2 362.2L703.5 362.1L703.8 362.1L704.0 362.0L704.2 361.9L704.5 361.8L704.8 361.7L705.0 361.6L705.2 361.6L705.5 361.5L705.8 361.5L706.0 361.4L706.2 361.4L706.5 361.4L706.8 361.4L707.0 361.4L707.2 361.4L707.5 361.4L707.8 361.4L708.0 361.4L708.2 361.4L708.5 361.4L708.8 361.3L709.0 361.3L709.2 361.3L709.5 361.3L709.8 361.2L710.0 361.2L710.2 361.2L710.5 361.1L710.8 361.1L711.0 361.1L711.2 361.1L711.5 361.1L711.8 361.1L712.0 361.1L712.2 361.1L712.5 361.1L712.8 361.1L713.0 361.2L713.2 361.4L713.5 361.5L713.8 361.7L714.0 362.0L714.2 362.2L714.5 362.4L714.8 362.6L715.0 362.8L715.2 363.0L715.5 363.1L715.8 363.1L716.0 363.1L716.2 363.0L716.5 362.9L716.8 362.8L717.0 362.7L717.2 362.5L717.5 362.3L717.8 362.1L718.0 361.8L718.2 361.6L718.5 361.3L718.8 361.0L719.0 360.7L719.2 360.4L719.5 360.1L719.8 359.8L720.0 359.5L720.2 359.2L720.5 358.9L720.8 358.6L721.0 358.4L721.2 358.1L721.5 357.9L721.8 357.7L722.0 357.6L722.2 357.4L722.5 357.3L722.8 357.2L723.0 357.2L723.2 357.2L723.5 357.3L723.8 357.5L724.0 357.7L724.2 358.0L724.5 358.3L724.8 358.6L725.0 359.0L725.2 359.4L725.5 359.7L725.8 360.1L726.0 360.4L726.2 360.6L726.5 360.9L726.8 361.0L727.0 361.1L727.2 361.1L727.5 360.9L727.8 360.7L728.0 360.4L728.2 360.0L728.5 359.6L728.8 359.2L729.0 358.7L729.2 358.3L729.5 357.9L729.8 357.6L730.0 357.4L730.2 357.2L730.5 357.2L730.8 357.3L731.0 357.5L731.2 357.7L731.5 358.1L731.8 358.4L732.0 358.8L732.2 359.1L732.5 359.5L732.8 359.8L733.0 360.1L733.2 360.3L733.5 360.5L733.8 360.5L734.0 360.3L734.2 359.9L734.5 359.3L734.8 358.6L735.0 357.8L735.2 356.9L735.5 356.0L735.8 355.1L736.0 354.3L736.2 353.6L736.5 353.0L736.8 352.6L737.0 352.5L737.2 352.5L737.5 352.7L737.8 352.9L738.0 353.1L738.2 353.4L738.5 353.8L738.8 354.2L739.0 354.6L739.2 355.0L739.5 355.4L739.8 355.8L740.0 356.2L740.2 356.6L740.5 356.9L740.8 357.2L741.0 357.5L741.2 357.7L741.5 357.8L741.8 357.8L742.0 357.8L742.2 357.7L742.5 357.6L742.8 357.5L743.0 357.4L743.2 357.3L743.5 357.1L743.8 356.9L744.0 356.8L744.2 356.6L744.5 356.4L744.8 356.2L745.0 356.0L745.2 355.9L745.5 355.7L745.8 355.6L746.0 355.4L746.2 355.3L746.5 355.3L746.8 355.2L747.0 355.2L747.2 355.2L747.5 355.3L747.8 355.4L748.0 355.5L748.2 355.6L748.5 355.8L748.8 355.9L749.0 356.1L749.2 356.2L749.5 356.3L749.8 356.4L750.0 356.5L750.2 356.5L750.5 356.4L750.8 356.2L751.0 355.8L751.2 355.2L751.5 354.5L751.8 353.8L752.0 352.9L752.2 352.0L752.5 351.1L752.8 350.2L753.0 349.3L753.2 348.4L753.5 347.7L753.8 347.0L754.0 346.4L754.2 346.0L754.5 345.7L754.7 345.5" fill="none" stroke="#ff00ff" stroke-width="1.4" stroke-linejoin="round" stroke-dasharray="1.4 2.1" stroke-opacity="0.42"/>
</g>
<rect x="453.0" y="264.5" width="301.6" height="211.5" fill="none" stroke="#000000" stroke-width="1"/>
<line x1="453.00" y1="476.0" x2="453.00" y2="472.7" stroke="#000000" stroke-width="0.9"/>
<line x1="453.00" y1="264.5" x2="453.00" y2="267.8" stroke="#000000" stroke-width="0.9"/>
<text x="454.50" y="496.7" text-anchor="middle" font-family="Liberation Sans, sans-serif" font-size="13.1" fill="#000">0</text>
<line x1="528.40" y1="476.0" x2="528.40" y2="472.7" stroke="#000000" stroke-width="0.9"/>
<line x1="528.40" y1="264.5" x2="528.40" y2="267.8" stroke="#000000" stroke-width="0.9"/>
<text x="529.90" y="496.7" text-anchor="middle" font-family="Liberation Sans, sans-serif" font-size="13.1" fill="#000">40</text>
<line x1="603.80" y1="476.0" x2="603.80" y2="472.7" stroke="#000000" stroke-width="0.9"/>
<line x1="603.80" y1="264.5" x2="603.80" y2="267.8" stroke="#000000" stroke-width="0.9"/>
<text x="605.30" y="496.7" text-anchor="middle" font-family="Liberation Sans, sans-serif" font-size="13.1" fill="#000">80</text>
<line x1="679.20" y1="476.0" x2="679.20" y2="472.7" stroke="#000000" stroke-width="0.9"/>
<line x1="679.20" y1="264.5" x2="679.20" y2="267.8" stroke="#000000" stroke-width="0.9"/>
<text x="680.70" y="496.7" text-anchor="middle" font-family="Liberation Sans, sans-serif" font-size="13.1" fill="#000">120</text>
<line x1="754.60" y1="476.0" x2="754.60" y2="472.7" stroke="#000000" stroke-width="0.9"/>
<line x1="754.60" y1="264.5" x2="754.60" y2="267.8" stroke="#000000" stroke-width="0.9"/>
<text x="756.10" y="496.7" text-anchor="middle" font-family="Liberation Sans, sans-serif" font-size="13.1" fill="#000">160</text>
<line x1="453.0" y1="299.70" x2="456.3" y2="299.70" stroke="#000000" stroke-width="0.9"/>
<line x1="754.6" y1="299.70" x2="751.3000000000001" y2="299.70" stroke="#000000" stroke-width="0.9"/>
<text x="443.2" y="304.00" text-anchor="end" font-family="Liberation Sans, sans-serif" font-size="13.1" fill="#000">0</text>
<line x1="453.0" y1="370.30" x2="456.3" y2="370.30" stroke="#000000" stroke-width="0.9"/>
<line x1="754.6" y1="370.30" x2="751.3000000000001" y2="370.30" stroke="#000000" stroke-width="0.9"/>
<text x="443.2" y="374.60" text-anchor="end" font-family="Liberation Sans, sans-serif" font-size="13.1" fill="#000">-0.01</text>
<line x1="453.0" y1="440.90" x2="456.3" y2="440.90" stroke="#000000" stroke-width="0.9"/>
<line x1="754.6" y1="440.90" x2="751.3000000000001" y2="440.90" stroke="#000000" stroke-width="0.9"/>
<text x="443.2" y="445.20" text-anchor="end" font-family="Liberation Sans, sans-serif" font-size="13.1" fill="#000">-0.02</text>
<text transform="translate(399.5,370.25) rotate(-90)" text-anchor="middle" font-family="Liberation Sans, sans-serif" font-size="18.8" letter-spacing="-0.28" fill="#000">Im[f<tspan font-size="16" dy="4.9">1</tspan><tspan dy="-4.9">(Y)]</tspan></text>
<line x1="691.20" y1="417.70" x2="735.80" y2="417.70" stroke="#ff0000" stroke-width="1.6"/>
<text x="681.80" y="423.20" text-anchor="end" font-family="Liberation Sans, sans-serif" font-size="10.1" fill="#000"><tspan font-family="Liberation Serif, serif" font-size="11.5">τ</tspan>=0.8</text>
<line x1="691.20" y1="433.48" x2="735.80" y2="433.48" stroke="#00ff00" stroke-width="1.7" stroke-dasharray="2.1 0.9"/>
<text x="681.80" y="438.98" text-anchor="end" font-family="Liberation Sans, sans-serif" font-size="10.1" fill="#000"><tspan font-family="Liberation Serif, serif" font-size="11.5">τ</tspan>=2.4</text>
<line x1="691.20" y1="449.26" x2="735.80" y2="449.26" stroke="#0000ff" stroke-width="1.7" stroke-dasharray="1.15 1.45"/>
<text x="681.80" y="454.76" text-anchor="end" font-family="Liberation Sans, sans-serif" font-size="10.1" fill="#000"><tspan font-family="Liberation Serif, serif" font-size="11.5">τ</tspan>=4.0</text>
<line x1="691.20" y1="465.04" x2="735.80" y2="465.04" stroke="#ff00ff" stroke-width="1.4" stroke-opacity="0.52"/>
<line x1="691.20" y1="465.04" x2="735.80" y2="465.04" stroke="#ff00ff" stroke-width="1.4" stroke-dasharray="1.4 2.1" stroke-opacity="0.42"/>
<text x="681.80" y="470.54" text-anchor="end" font-family="Liberation Sans, sans-serif" font-size="10.1" fill="#000"><tspan font-family="Liberation Serif, serif" font-size="11.5">τ</tspan>=7.2</text>
<text x="226.6" y="521.1" text-anchor="middle" font-family="Liberation Sans, sans-serif" font-size="19" fill="#000">Y</text>
<text x="603.2" y="521.1" text-anchor="middle" font-family="Liberation Sans, sans-serif" font-size="19" fill="#000">Y</text>
</svg>
</body></html>
